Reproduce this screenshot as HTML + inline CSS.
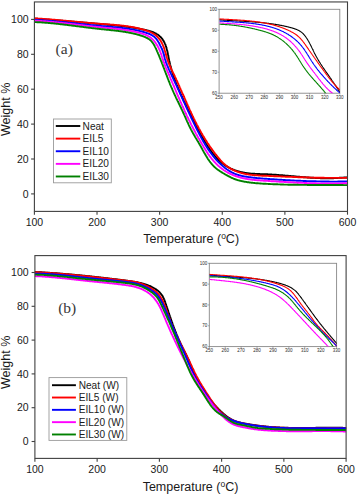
<!DOCTYPE html>
<html><head><meta charset="utf-8"><style>
html,body{margin:0;padding:0;background:#fff;width:357px;height:495px;overflow:hidden}
svg{display:block}
text{font-family:"Liberation Sans",sans-serif;fill:#1a1a1a}
.tl{font-size:10.5px}
.at{font-size:12.5px}
.lg{font-size:10.1px}
.il{font-size:4.5px;fill:#2a2a2a}
.pl{font-family:"Liberation Serif",serif;font-size:15.5px;fill:#383838}
</style></head><body>
<svg width="357" height="495" viewBox="0 0 357 495">
<clipPath id="ca"><rect x="34.4" y="1.95" width="313.10" height="209.45"/></clipPath>
<g clip-path="url(#ca)" fill="none" stroke-width="1.9" stroke-linejoin="round" stroke-linecap="round">
<path d="M34.5,18.6L35.0,18.6L35.5,18.7L36.0,18.7L36.5,18.8L37.0,18.8L37.5,18.8L38.0,18.9L38.5,18.9L39.0,19.0L39.5,19.0L40.0,19.0L40.5,19.1L41.0,19.1L41.5,19.1L42.0,19.2L42.5,19.2L43.0,19.3L43.5,19.3L44.0,19.3L44.5,19.4L45.0,19.4L45.5,19.5L46.0,19.5L46.5,19.5L47.0,19.6L47.5,19.6L48.0,19.7L48.5,19.7L49.0,19.7L49.5,19.8L50.0,19.8L50.5,19.9L51.0,19.9L51.5,19.9L52.0,20.0L52.5,20.0L53.0,20.1L53.5,20.1L54.0,20.1L54.5,20.2L55.0,20.2L55.5,20.3L56.0,20.3L56.5,20.3L57.0,20.4L57.5,20.4L58.0,20.5L58.5,20.5L59.0,20.5L59.5,20.6L60.0,20.6L60.5,20.7L61.0,20.7L61.5,20.7L61.9,20.8L62.4,20.8L62.9,20.9L63.4,20.9L63.9,20.9L64.4,21.0L64.9,21.0L65.4,21.1L65.9,21.1L66.4,21.2L66.9,21.2L67.4,21.2L67.9,21.3L68.4,21.3L68.9,21.4L69.4,21.4L69.9,21.4L70.4,21.5L70.9,21.5L71.4,21.6L71.9,21.6L72.4,21.7L72.9,21.7L73.4,21.7L73.9,21.8L74.4,21.8L74.9,21.9L75.4,21.9L75.9,21.9L76.4,22.0L76.9,22.0L77.4,22.1L77.9,22.1L78.4,22.2L78.9,22.2L79.4,22.2L79.9,22.3L80.4,22.3L80.9,22.4L81.4,22.4L81.9,22.5L82.4,22.5L82.9,22.5L83.4,22.6L83.9,22.6L84.4,22.7L84.9,22.7L85.4,22.8L85.9,22.8L86.4,22.8L86.9,22.9L87.4,22.9L87.9,23.0L88.4,23.0L88.9,23.1L89.4,23.1L89.9,23.1L90.4,23.2L90.9,23.2L91.4,23.3L91.9,23.3L92.4,23.4L92.9,23.4L93.4,23.4L93.9,23.5L94.4,23.5L94.9,23.6L95.4,23.6L95.9,23.7L96.4,23.7L96.9,23.7L97.4,23.8L97.9,23.8L98.4,23.9L98.9,23.9L99.4,24.0L99.9,24.0L100.4,24.0L100.9,24.1L101.4,24.1L101.8,24.2L102.3,24.2L102.8,24.3L103.3,24.3L103.8,24.3L104.3,24.4L104.8,24.4L105.3,24.5L105.8,24.5L106.3,24.6L106.8,24.6L107.3,24.7L107.8,24.7L108.3,24.7L108.8,24.8L109.3,24.8L109.8,24.9L110.3,24.9L110.8,25.0L111.3,25.0L111.8,25.1L112.3,25.1L112.8,25.2L113.3,25.2L113.8,25.3L114.3,25.3L114.8,25.4L115.3,25.4L115.8,25.5L116.3,25.5L116.8,25.6L117.3,25.6L117.8,25.7L118.3,25.7L118.8,25.8L119.3,25.8L119.8,25.9L120.3,25.9L120.8,26.0L121.3,26.1L121.8,26.1L122.3,26.2L122.8,26.2L123.3,26.3L123.8,26.4L124.3,26.4L124.8,26.5L125.3,26.5L125.7,26.6L126.2,26.7L126.7,26.7L127.2,26.8L127.7,26.9L128.2,26.9L128.7,27.0L129.2,27.1L129.7,27.2L130.2,27.2L130.7,27.3L131.2,27.4L131.7,27.4L132.2,27.5L132.7,27.6L133.2,27.7L133.7,27.8L134.2,27.8L134.7,27.9L135.2,28.0L135.6,28.1L136.1,28.2L136.6,28.3L137.1,28.3L137.6,28.4L138.1,28.5L138.6,28.6L139.1,28.7L139.6,28.8L140.1,28.9L140.6,29.0L141.1,29.1L141.6,29.2L142.0,29.3L142.5,29.4L143.0,29.5L143.5,29.6L144.0,29.7L144.5,29.8L145.0,29.9L145.5,30.0L146.0,30.1L146.4,30.2L146.9,30.3L147.4,30.5L147.9,30.6L148.4,30.7L148.9,30.8L149.4,31.0L149.8,31.1L150.3,31.3L150.8,31.4L151.3,31.6L151.7,31.7L152.2,31.9L152.7,32.1L153.2,32.2L153.6,32.4L154.1,32.6L154.5,32.8L155.0,33.1L155.4,33.3L155.9,33.5L156.3,33.8L156.7,34.0L157.2,34.3L157.6,34.5L158.0,34.8L158.4,35.1L158.8,35.4L159.2,35.7L159.6,36.1L159.9,36.4L160.3,36.7L160.7,37.1L161.0,37.5L161.3,37.8L161.7,38.2L162.0,38.6L162.3,39.0L162.6,39.4L162.9,39.8L163.1,40.2L163.4,40.7L163.6,41.1L163.9,41.5L164.1,42.0L164.4,42.4L164.6,42.9L164.8,43.3L165.0,43.8L165.2,44.2L165.4,44.7L165.6,45.2L165.7,45.6L165.9,46.1L166.1,46.6L166.2,47.1L166.4,47.5L166.5,48.0L166.6,48.5L166.8,49.0L166.9,49.5L167.0,50.0L167.1,50.4L167.3,50.9L167.4,51.4L167.5,51.9L167.6,52.4L167.7,52.9L167.8,53.4L167.9,53.9L168.0,54.4L168.1,54.9L168.2,55.3L168.3,55.8L168.4,56.3L168.4,56.8L168.5,57.3L168.6,57.8L168.7,58.3L168.8,58.8L168.9,59.3L169.0,59.8L169.1,60.3L169.2,60.7L169.3,61.2L169.4,61.7L169.6,62.2L169.7,62.7L169.8,63.2L169.9,63.7L170.0,64.2L170.1,64.6L170.3,65.1L170.4,65.6L170.5,66.1L170.6,66.6L170.8,67.1L170.9,67.6L171.0,68.0L171.2,68.5L171.3,69.0L171.4,69.5L171.6,70.0L171.7,70.4L171.9,70.9L172.0,71.4L172.2,71.9L172.3,72.4L172.5,72.8L172.6,73.3L172.8,73.8L172.9,74.3L173.1,74.7L173.2,75.2L173.4,75.7L173.6,76.2L173.7,76.6L173.9,77.1L174.0,77.6L174.2,78.0L174.4,78.5L174.6,79.0L174.7,79.5L174.9,79.9L175.1,80.4L175.3,80.9L175.4,81.3L175.6,81.8L175.8,82.3L176.0,82.7L176.2,83.2L176.3,83.7L176.5,84.1L176.7,84.6L176.9,85.1L177.1,85.5L177.3,86.0L177.5,86.5L177.7,86.9L177.8,87.4L178.0,87.8L178.2,88.3L178.4,88.8L178.6,89.2L178.8,89.7L179.0,90.1L179.2,90.6L179.4,91.1L179.6,91.5L179.8,92.0L180.0,92.4L180.2,92.9L180.4,93.3L180.6,93.8L180.8,94.3L181.1,94.7L181.3,95.2L181.5,95.6L181.7,96.1L181.9,96.5L182.1,97.0L182.3,97.4L182.5,97.9L182.7,98.4L182.9,98.8L183.2,99.3L183.4,99.7L183.6,100.2L183.8,100.6L184.0,101.1L184.2,101.5L184.5,102.0L184.7,102.4L184.9,102.9L185.1,103.3L185.3,103.8L185.5,104.2L185.8,104.7L186.0,105.1L186.2,105.6L186.4,106.0L186.6,106.5L186.9,106.9L187.1,107.4L187.3,107.8L187.5,108.3L187.7,108.7L188.0,109.2L188.2,109.6L188.4,110.1L188.6,110.5L188.8,111.0L189.1,111.4L189.3,111.9L189.5,112.3L189.7,112.8L190.0,113.2L190.2,113.7L190.4,114.1L190.6,114.6L190.8,115.0L191.1,115.4L191.3,115.9L191.5,116.3L191.7,116.8L192.0,117.2L192.2,117.7L192.4,118.1L192.6,118.6L192.8,119.0L193.1,119.5L193.3,119.9L193.5,120.4L193.7,120.8L194.0,121.3L194.2,121.7L194.4,122.2L194.6,122.6L194.8,123.1L195.1,123.5L195.3,124.0L195.5,124.4L195.7,124.9L196.0,125.3L196.2,125.8L196.4,126.2L196.7,126.6L196.9,127.1L197.1,127.5L197.3,128.0L197.6,128.4L197.8,128.9L198.0,129.3L198.3,129.8L198.5,130.2L198.7,130.6L199.0,131.1L199.2,131.5L199.4,132.0L199.7,132.4L199.9,132.9L200.1,133.3L200.4,133.7L200.6,134.2L200.9,134.6L201.1,135.1L201.3,135.5L201.6,135.9L201.8,136.4L202.1,136.8L202.3,137.2L202.6,137.7L202.8,138.1L203.1,138.5L203.3,139.0L203.6,139.4L203.8,139.8L204.1,140.3L204.3,140.7L204.6,141.1L204.8,141.6L205.1,142.0L205.4,142.4L205.6,142.8L205.9,143.3L206.1,143.7L206.4,144.1L206.7,144.5L206.9,145.0L207.2,145.4L207.5,145.8L207.8,146.2L208.0,146.7L208.3,147.1L208.6,147.5L208.9,147.9L209.1,148.3L209.4,148.7L209.7,149.1L210.0,149.6L210.3,150.0L210.6,150.4L210.8,150.8L211.1,151.2L211.4,151.6L211.7,152.0L212.0,152.4L212.3,152.8L212.6,153.2L212.9,153.6L213.3,154.0L213.6,154.4L213.9,154.8L214.2,155.2L214.5,155.5L214.8,155.9L215.2,156.3L215.5,156.7L215.8,157.1L216.2,157.4L216.5,157.8L216.8,158.2L217.2,158.5L217.5,158.9L217.9,159.3L218.2,159.6L218.6,160.0L218.9,160.3L219.3,160.7L219.7,161.0L220.0,161.3L220.4,161.7L220.8,162.0L221.2,162.3L221.5,162.7L221.9,163.0L222.3,163.3L222.7,163.6L223.1,163.9L223.5,164.2L223.9,164.5L224.3,164.8L224.7,165.1L225.1,165.4L225.6,165.6L226.0,165.9L226.4,166.2L226.8,166.4L227.3,166.7L227.7,166.9L228.1,167.2L228.6,167.4L229.0,167.7L229.5,167.9L229.9,168.1L230.4,168.3L230.8,168.6L231.3,168.8L231.7,169.0L232.2,169.2L232.6,169.4L233.1,169.6L233.6,169.7L234.0,169.9L234.5,170.1L235.0,170.3L235.4,170.4L235.9,170.6L236.4,170.8L236.9,170.9L237.3,171.1L237.8,171.2L238.3,171.4L238.8,171.5L239.3,171.6L239.7,171.8L240.2,171.9L240.7,172.0L241.2,172.1L241.7,172.2L242.2,172.3L242.7,172.4L243.2,172.5L243.7,172.6L244.1,172.7L244.6,172.8L245.1,172.9L245.6,173.0L246.1,173.0L246.6,173.1L247.1,173.2L247.6,173.3L248.1,173.3L248.6,173.4L249.1,173.4L249.6,173.5L250.1,173.5L250.6,173.6L251.1,173.6L251.6,173.7L252.1,173.7L252.6,173.7L253.1,173.8L253.6,173.8L254.1,173.8L254.6,173.8L255.1,173.9L255.6,173.9L256.1,173.9L256.6,173.9L257.1,174.0L257.6,174.0L258.1,174.0L258.6,174.0L259.1,174.0L259.6,174.0L260.1,174.1L260.6,174.1L261.1,174.1L261.6,174.1L262.1,174.1L262.6,174.1L263.1,174.2L263.6,174.2L264.1,174.2L264.6,174.2L265.1,174.2L265.6,174.2L266.1,174.3L266.6,174.3L267.1,174.3L267.6,174.3L268.1,174.4L268.6,174.4L269.1,174.4L269.6,174.4L270.1,174.5L270.6,174.5L271.1,174.5L271.6,174.5L272.1,174.6L272.6,174.6L273.1,174.6L273.6,174.7L274.1,174.7L274.6,174.7L275.1,174.8L275.6,174.8L276.1,174.8L276.6,174.9L277.1,174.9L277.6,174.9L278.1,175.0L278.6,175.0L279.1,175.1L279.6,175.1L280.1,175.1L280.6,175.2L281.1,175.2L281.6,175.3L282.1,175.3L282.6,175.3L283.1,175.4L283.6,175.4L284.1,175.5L284.6,175.5L285.1,175.6L285.6,175.6L286.1,175.6L286.6,175.7L287.1,175.7L287.6,175.8L288.1,175.8L288.6,175.9L289.1,175.9L289.6,175.9L290.1,176.0L290.6,176.0L291.1,176.1L291.5,176.1L292.0,176.2L292.5,176.2L293.0,176.3L293.5,176.3L294.0,176.3L294.5,176.4L295.0,176.4L295.5,176.5L296.0,176.5L296.5,176.6L297.0,176.6L297.5,176.7L298.0,176.7L298.5,176.7L299.0,176.8L299.5,176.8L300.0,176.9L300.5,176.9L301.0,177.0L301.5,177.0L302.0,177.0L302.5,177.1L303.0,177.1L303.5,177.2L304.0,177.2L304.5,177.2L305.0,177.3L305.5,177.3L306.0,177.4L306.5,177.4L307.0,177.4L307.5,177.5L308.0,177.5L308.5,177.5L309.0,177.6L309.5,177.6L310.0,177.6L310.5,177.7L311.0,177.7L311.5,177.7L312.0,177.8L312.5,177.8L313.0,177.8L313.5,177.8L314.0,177.9L314.5,177.9L315.0,177.9L315.5,178.0L316.0,178.0L316.5,178.0L317.0,178.0L317.5,178.0L318.0,178.1L318.5,178.1L319.0,178.1L319.5,178.1L320.0,178.1L320.5,178.2L321.0,178.2L321.5,178.2L322.0,178.2L322.5,178.2L323.0,178.2L323.5,178.2L324.0,178.2L324.5,178.2L325.0,178.2L325.5,178.3L326.0,178.3L326.5,178.3L327.0,178.3L327.5,178.3L328.0,178.3L328.5,178.3L329.0,178.3L329.5,178.2L330.0,178.2L330.5,178.2L331.0,178.2L331.5,178.2L332.0,178.2L332.5,178.2L333.0,178.2L333.5,178.2L334.0,178.1L334.5,178.1L335.0,178.1L335.5,178.1L336.0,178.1L336.5,178.0L337.0,178.0L337.5,178.0L338.0,177.9L338.5,177.9L339.0,177.9L339.5,177.8L340.0,177.8L340.5,177.8L341.0,177.7L341.5,177.7L342.0,177.7L342.5,177.6L343.0,177.6L343.5,177.6L344.0,177.5L344.5,177.5L345.0,177.5L345.5,177.5L346.0,177.5L346.5,177.5L347.0,177.5L347.5,177.5L348.0,177.6" stroke="#000000"/>
<path d="M34.5,18.4L35.0,18.4L35.5,18.4L36.0,18.4L36.5,18.5L37.0,18.5L37.5,18.5L38.0,18.6L38.5,18.6L39.0,18.6L39.5,18.7L40.0,18.7L40.5,18.7L41.0,18.8L41.5,18.8L42.0,18.8L42.5,18.9L43.0,18.9L43.5,18.9L44.0,19.0L44.5,19.0L45.0,19.0L45.5,19.1L46.0,19.1L46.5,19.1L47.0,19.2L47.5,19.2L48.0,19.3L48.5,19.3L49.0,19.3L49.5,19.4L50.0,19.4L50.5,19.5L51.0,19.5L51.5,19.5L52.0,19.6L52.5,19.6L53.0,19.7L53.5,19.7L53.9,19.7L54.4,19.8L54.9,19.8L55.4,19.9L55.9,19.9L56.4,20.0L56.9,20.0L57.4,20.0L57.9,20.1L58.4,20.1L58.9,20.2L59.4,20.2L59.9,20.3L60.4,20.3L60.9,20.4L61.4,20.4L61.9,20.4L62.4,20.5L62.9,20.5L63.4,20.6L63.9,20.6L64.4,20.7L64.9,20.7L65.4,20.8L65.9,20.8L66.4,20.9L66.9,20.9L67.4,20.9L67.9,21.0L68.4,21.0L68.9,21.1L69.4,21.1L69.9,21.2L70.4,21.2L70.9,21.3L71.4,21.3L71.9,21.4L72.4,21.4L72.9,21.5L73.4,21.5L73.9,21.6L74.4,21.6L74.9,21.6L75.4,21.7L75.9,21.7L76.4,21.8L76.9,21.8L77.4,21.9L77.9,21.9L78.4,22.0L78.9,22.0L79.4,22.1L79.9,22.1L80.4,22.2L80.8,22.2L81.3,22.3L81.8,22.3L82.3,22.3L82.8,22.4L83.3,22.4L83.8,22.5L84.3,22.5L84.8,22.6L85.3,22.6L85.8,22.7L86.3,22.7L86.8,22.7L87.3,22.8L87.8,22.8L88.3,22.9L88.8,22.9L89.3,23.0L89.8,23.0L90.3,23.1L90.8,23.1L91.3,23.1L91.8,23.2L92.3,23.2L92.8,23.3L93.3,23.3L93.8,23.3L94.3,23.4L94.8,23.4L95.3,23.5L95.8,23.5L96.3,23.5L96.8,23.6L97.3,23.6L97.8,23.7L98.3,23.7L98.8,23.7L99.3,23.8L99.8,23.8L100.3,23.9L100.8,23.9L101.3,23.9L101.8,24.0L102.3,24.0L102.8,24.0L103.3,24.1L103.8,24.1L104.3,24.1L104.8,24.2L105.3,24.2L105.8,24.2L106.3,24.3L106.8,24.3L107.3,24.3L107.8,24.4L108.3,24.4L108.8,24.5L109.3,24.5L109.8,24.5L110.3,24.6L110.8,24.6L111.3,24.6L111.8,24.7L112.3,24.7L112.8,24.8L113.3,24.8L113.8,24.8L114.3,24.9L114.8,24.9L115.3,25.0L115.8,25.0L116.3,25.0L116.8,25.1L117.2,25.1L117.7,25.2L118.2,25.2L118.7,25.3L119.2,25.3L119.7,25.4L120.2,25.4L120.7,25.5L121.2,25.5L121.7,25.6L122.2,25.6L122.7,25.7L123.2,25.7L123.7,25.8L124.2,25.9L124.7,25.9L125.2,26.0L125.7,26.1L126.2,26.1L126.7,26.2L127.2,26.3L127.7,26.3L128.2,26.4L128.7,26.5L129.2,26.6L129.7,26.6L130.2,26.7L130.7,26.8L131.1,26.9L131.6,27.0L132.1,27.0L132.6,27.1L133.1,27.2L133.6,27.3L134.1,27.4L134.6,27.5L135.1,27.6L135.6,27.7L136.1,27.8L136.5,27.9L137.0,28.0L137.5,28.1L138.0,28.2L138.5,28.4L139.0,28.5L139.5,28.6L140.0,28.7L140.4,28.8L140.9,29.0L141.4,29.1L141.9,29.2L142.4,29.4L142.9,29.5L143.3,29.6L143.8,29.8L144.3,29.9L144.8,30.1L145.3,30.2L145.7,30.4L146.2,30.5L146.7,30.7L147.1,30.8L147.6,31.0L148.1,31.2L148.6,31.4L149.0,31.5L149.5,31.7L149.9,31.9L150.4,32.1L150.9,32.3L151.3,32.5L151.8,32.8L152.2,33.0L152.6,33.2L153.1,33.5L153.5,33.7L153.9,34.0L154.4,34.3L154.8,34.6L155.2,34.9L155.6,35.2L156.0,35.5L156.3,35.8L156.7,36.1L157.1,36.5L157.4,36.8L157.8,37.2L158.1,37.6L158.4,37.9L158.8,38.3L159.1,38.7L159.4,39.1L159.7,39.5L160.0,39.9L160.3,40.3L160.6,40.7L160.8,41.1L161.1,41.6L161.3,42.0L161.6,42.4L161.8,42.9L162.1,43.3L162.3,43.8L162.5,44.2L162.7,44.7L162.9,45.1L163.1,45.6L163.3,46.1L163.5,46.5L163.7,47.0L163.8,47.5L164.0,47.9L164.2,48.4L164.3,48.9L164.5,49.3L164.6,49.8L164.8,50.3L164.9,50.8L165.1,51.3L165.2,51.7L165.3,52.2L165.5,52.7L165.6,53.2L165.7,53.7L165.9,54.2L166.0,54.6L166.1,55.1L166.3,55.6L166.4,56.1L166.6,56.6L166.7,57.0L166.8,57.5L167.0,58.0L167.1,58.5L167.3,59.0L167.4,59.4L167.6,59.9L167.7,60.4L167.9,60.9L168.1,61.3L168.2,61.8L168.4,62.3L168.6,62.7L168.8,63.2L168.9,63.7L169.1,64.1L169.3,64.6L169.5,65.1L169.7,65.5L169.9,66.0L170.1,66.4L170.3,66.9L170.5,67.3L170.7,67.8L170.9,68.3L171.2,68.7L171.4,69.2L171.6,69.6L171.8,70.1L172.0,70.5L172.2,71.0L172.4,71.4L172.7,71.9L172.9,72.3L173.1,72.8L173.3,73.2L173.5,73.7L173.7,74.1L174.0,74.6L174.2,75.0L174.4,75.5L174.6,75.9L174.8,76.4L175.0,76.8L175.2,77.3L175.5,77.7L175.7,78.2L175.9,78.6L176.1,79.1L176.3,79.6L176.5,80.0L176.7,80.5L176.9,80.9L177.1,81.4L177.4,81.8L177.6,82.3L177.8,82.7L178.0,83.2L178.2,83.6L178.4,84.1L178.6,84.6L178.8,85.0L179.0,85.5L179.2,85.9L179.4,86.4L179.6,86.8L179.8,87.3L180.0,87.8L180.2,88.2L180.4,88.7L180.6,89.1L180.8,89.6L181.0,90.0L181.2,90.5L181.4,91.0L181.6,91.4L181.8,91.9L182.0,92.3L182.2,92.8L182.4,93.2L182.6,93.7L182.8,94.2L183.0,94.6L183.3,95.1L183.5,95.5L183.7,96.0L183.9,96.5L184.1,96.9L184.3,97.4L184.5,97.8L184.7,98.3L184.9,98.7L185.1,99.2L185.3,99.7L185.5,100.1L185.7,100.6L185.9,101.0L186.1,101.5L186.3,101.9L186.5,102.4L186.7,102.9L186.9,103.3L187.1,103.8L187.3,104.2L187.5,104.7L187.7,105.1L187.9,105.6L188.1,106.1L188.3,106.5L188.5,107.0L188.7,107.4L188.9,107.9L189.1,108.3L189.3,108.8L189.5,109.3L189.7,109.7L190.0,110.2L190.2,110.6L190.4,111.1L190.6,111.5L190.8,112.0L191.0,112.4L191.2,112.9L191.4,113.3L191.6,113.8L191.8,114.3L192.1,114.7L192.3,115.2L192.5,115.6L192.7,116.1L192.9,116.5L193.1,117.0L193.3,117.4L193.6,117.9L193.8,118.3L194.0,118.8L194.2,119.2L194.4,119.7L194.7,120.1L194.9,120.6L195.1,121.0L195.3,121.5L195.5,121.9L195.8,122.4L196.0,122.8L196.2,123.2L196.4,123.7L196.7,124.1L196.9,124.6L197.1,125.0L197.4,125.5L197.6,125.9L197.8,126.4L198.1,126.8L198.3,127.2L198.5,127.7L198.8,128.1L199.0,128.6L199.2,129.0L199.5,129.4L199.7,129.9L200.0,130.3L200.2,130.8L200.5,131.2L200.7,131.6L200.9,132.1L201.2,132.5L201.4,132.9L201.7,133.4L201.9,133.8L202.2,134.2L202.4,134.7L202.7,135.1L202.9,135.5L203.2,136.0L203.5,136.4L203.7,136.8L204.0,137.2L204.2,137.7L204.5,138.1L204.8,138.5L205.0,139.0L205.3,139.4L205.6,139.8L205.8,140.2L206.1,140.6L206.4,141.1L206.6,141.5L206.9,141.9L207.2,142.3L207.4,142.7L207.7,143.2L208.0,143.6L208.3,144.0L208.5,144.4L208.8,144.8L209.1,145.2L209.4,145.7L209.7,146.1L209.9,146.5L210.2,146.9L210.5,147.3L210.8,147.7L211.1,148.1L211.4,148.5L211.7,148.9L212.0,149.4L212.3,149.8L212.6,150.2L212.8,150.6L213.1,151.0L213.4,151.4L213.7,151.8L214.0,152.2L214.3,152.6L214.6,153.0L214.9,153.4L215.2,153.8L215.6,154.2L215.9,154.6L216.2,155.0L216.5,155.3L216.8,155.7L217.1,156.1L217.4,156.5L217.7,156.9L218.0,157.3L218.3,157.7L218.7,158.1L219.0,158.5L219.3,158.8L219.6,159.2L220.0,159.6L220.3,160.0L220.6,160.4L221.0,160.7L221.3,161.1L221.6,161.5L222.0,161.8L222.3,162.2L222.7,162.5L223.0,162.9L223.4,163.2L223.8,163.6L224.1,163.9L224.5,164.3L224.9,164.6L225.3,164.9L225.6,165.2L226.0,165.5L226.4,165.8L226.8,166.1L227.2,166.4L227.6,166.7L228.1,167.0L228.5,167.3L228.9,167.6L229.3,167.8L229.7,168.1L230.2,168.3L230.6,168.6L231.0,168.8L231.5,169.1L231.9,169.3L232.4,169.5L232.8,169.8L233.3,170.0L233.7,170.2L234.2,170.4L234.6,170.6L235.1,170.8L235.6,171.0L236.0,171.2L236.5,171.4L237.0,171.5L237.4,171.7L237.9,171.9L238.4,172.1L238.8,172.2L239.3,172.4L239.8,172.5L240.3,172.7L240.7,172.8L241.2,172.9L241.7,173.1L242.2,173.2L242.7,173.3L243.2,173.4L243.7,173.6L244.1,173.7L244.6,173.8L245.1,173.9L245.6,174.0L246.1,174.1L246.6,174.2L247.1,174.3L247.6,174.3L248.1,174.4L248.6,174.5L249.1,174.6L249.6,174.6L250.1,174.7L250.5,174.8L251.0,174.8L251.5,174.9L252.0,174.9L252.5,175.0L253.0,175.1L253.5,175.1L254.0,175.1L254.5,175.2L255.0,175.2L255.5,175.3L256.0,175.3L256.5,175.3L257.0,175.4L257.5,175.4L258.0,175.4L258.5,175.5L259.0,175.5L259.5,175.5L260.0,175.6L260.5,175.6L261.0,175.6L261.5,175.6L262.0,175.7L262.5,175.7L263.0,175.7L263.5,175.7L264.0,175.7L264.5,175.8L265.0,175.8L265.5,175.8L266.0,175.8L266.5,175.8L267.0,175.9L267.5,175.9L268.0,175.9L268.5,175.9L269.0,176.0L269.5,176.0L270.0,176.0L270.5,176.0L271.0,176.0L271.5,176.1L272.0,176.1L272.5,176.1L273.0,176.1L273.5,176.1L274.0,176.2L274.5,176.2L275.0,176.2L275.5,176.2L276.0,176.3L276.5,176.3L277.0,176.3L277.5,176.3L278.0,176.3L278.5,176.4L279.0,176.4L279.5,176.4L280.0,176.4L280.5,176.4L281.0,176.5L281.5,176.5L282.0,176.5L282.5,176.5L283.0,176.6L283.5,176.6L284.0,176.6L284.5,176.6L285.0,176.6L285.5,176.7L286.0,176.7L286.5,176.7L287.0,176.7L287.5,176.7L288.0,176.8L288.5,176.8L289.0,176.8L289.5,176.8L290.0,176.8L290.5,176.9L291.0,176.9L291.5,176.9L292.0,176.9L292.5,176.9L293.0,177.0L293.5,177.0L294.0,177.0L294.5,177.0L295.0,177.0L295.5,177.1L296.0,177.1L296.5,177.1L297.0,177.1L297.5,177.1L298.0,177.2L298.5,177.2L299.0,177.2L299.5,177.2L300.0,177.2L300.5,177.2L301.0,177.3L301.5,177.3L302.0,177.3L302.5,177.3L303.0,177.3L303.5,177.3L304.0,177.4L304.5,177.4L305.0,177.4L305.5,177.4L306.0,177.4L306.5,177.4L307.0,177.5L307.5,177.5L308.0,177.5L308.5,177.5L309.0,177.5L309.5,177.5L310.0,177.5L310.5,177.6L311.0,177.6L311.5,177.6L312.0,177.6L312.5,177.6L313.0,177.6L313.5,177.6L314.0,177.7L314.5,177.7L315.0,177.7L315.5,177.7L316.0,177.7L316.5,177.7L317.0,177.7L317.5,177.7L318.0,177.7L318.5,177.8L319.0,177.8L319.5,177.8L320.0,177.8L320.5,177.8L321.0,177.8L321.5,177.8L322.0,177.8L322.5,177.8L323.0,177.8L323.5,177.8L324.0,177.8L324.5,177.9L325.0,177.9L325.5,177.9L326.0,177.9L326.5,177.9L327.0,177.9L327.5,177.9L328.0,177.9L328.5,177.9L329.0,177.9L329.5,177.9L330.0,177.9L330.5,177.9L331.0,177.9L331.5,177.9L332.0,177.9L332.5,177.9L333.0,177.9L333.5,177.9L334.0,177.9L334.5,177.9L335.0,177.9L335.5,177.9L336.0,177.9L336.5,177.9L337.0,177.9L337.5,177.9L338.0,177.9L338.5,177.9L339.0,177.9L339.5,177.9L340.0,177.9L340.5,177.9L341.0,177.9L341.5,177.9L342.0,177.9L342.5,177.9L343.0,177.9L343.5,177.9L344.0,177.9L344.5,177.9L345.0,177.9L345.5,177.9L346.0,177.9L346.5,177.8L347.0,177.8L347.5,177.8L348.0,177.8" stroke="#ff0000"/>
<path d="M34.5,19.9L35.0,19.9L35.5,19.9L36.0,19.9L36.5,20.0L37.0,20.0L37.5,20.0L38.0,20.0L38.5,20.1L39.0,20.1L39.5,20.1L40.0,20.2L40.5,20.2L41.0,20.2L41.5,20.3L42.0,20.3L42.5,20.3L43.0,20.4L43.5,20.4L44.0,20.4L44.5,20.5L45.0,20.5L45.5,20.6L46.0,20.6L46.5,20.6L47.0,20.7L47.5,20.7L48.0,20.7L48.5,20.8L49.0,20.8L49.5,20.9L50.0,20.9L50.5,21.0L51.0,21.0L51.5,21.0L52.0,21.1L52.5,21.1L53.0,21.2L53.5,21.2L54.0,21.3L54.5,21.3L55.0,21.4L55.4,21.4L55.9,21.4L56.4,21.5L56.9,21.5L57.4,21.6L57.9,21.6L58.4,21.7L58.9,21.7L59.4,21.8L59.9,21.8L60.4,21.9L60.9,21.9L61.4,22.0L61.9,22.0L62.4,22.1L62.9,22.1L63.4,22.2L63.9,22.2L64.4,22.3L64.9,22.3L65.4,22.4L65.9,22.4L66.4,22.5L66.9,22.5L67.4,22.6L67.9,22.6L68.4,22.7L68.9,22.7L69.4,22.8L69.9,22.9L70.4,22.9L70.9,23.0L71.4,23.0L71.9,23.1L72.4,23.1L72.9,23.2L73.4,23.2L73.9,23.3L74.4,23.3L74.9,23.4L75.4,23.4L75.9,23.5L76.4,23.5L76.9,23.6L77.4,23.6L77.8,23.7L78.3,23.8L78.8,23.8L79.3,23.9L79.8,23.9L80.3,24.0L80.8,24.0L81.3,24.1L81.8,24.1L82.3,24.2L82.8,24.2L83.3,24.3L83.8,24.3L84.3,24.4L84.8,24.4L85.3,24.5L85.8,24.5L86.3,24.6L86.8,24.7L87.3,24.7L87.8,24.8L88.3,24.8L88.8,24.9L89.3,24.9L89.8,25.0L90.3,25.0L90.8,25.1L91.3,25.1L91.8,25.2L92.3,25.2L92.8,25.3L93.3,25.3L93.8,25.3L94.3,25.4L94.8,25.4L95.3,25.5L95.8,25.5L96.3,25.6L96.8,25.6L97.3,25.7L97.8,25.7L98.3,25.8L98.8,25.8L99.3,25.9L99.8,25.9L100.3,25.9L100.8,26.0L101.3,26.0L101.7,26.1L102.2,26.1L102.7,26.2L103.2,26.2L103.7,26.2L104.2,26.3L104.7,26.3L105.2,26.4L105.7,26.4L106.2,26.5L106.7,26.5L107.2,26.5L107.7,26.6L108.2,26.6L108.7,26.7L109.2,26.7L109.7,26.7L110.2,26.8L110.7,26.8L111.2,26.9L111.7,26.9L112.2,27.0L112.7,27.0L113.2,27.1L113.7,27.1L114.2,27.1L114.7,27.2L115.2,27.2L115.7,27.3L116.2,27.3L116.7,27.4L117.2,27.4L117.7,27.5L118.2,27.5L118.7,27.6L119.2,27.6L119.7,27.7L120.2,27.7L120.7,27.8L121.2,27.9L121.7,27.9L122.2,28.0L122.7,28.0L123.2,28.1L123.7,28.2L124.2,28.2L124.7,28.3L125.2,28.3L125.7,28.4L126.1,28.5L126.6,28.6L127.1,28.6L127.6,28.7L128.1,28.8L128.6,28.8L129.1,28.9L129.6,29.0L130.1,29.1L130.6,29.2L131.1,29.2L131.6,29.3L132.1,29.4L132.6,29.5L133.1,29.6L133.6,29.7L134.0,29.8L134.5,29.9L135.0,30.0L135.5,30.1L136.0,30.2L136.5,30.3L137.0,30.4L137.5,30.5L138.0,30.6L138.5,30.7L138.9,30.8L139.4,30.9L139.9,31.1L140.4,31.2L140.9,31.3L141.4,31.4L141.9,31.5L142.3,31.7L142.8,31.8L143.3,31.9L143.8,32.1L144.3,32.2L144.7,32.4L145.2,32.5L145.7,32.6L146.2,32.8L146.7,33.0L147.1,33.1L147.6,33.3L148.1,33.4L148.5,33.6L149.0,33.8L149.5,34.0L149.9,34.2L150.4,34.4L150.8,34.6L151.3,34.9L151.7,35.1L152.1,35.3L152.6,35.6L153.0,35.9L153.4,36.2L153.8,36.5L154.2,36.8L154.6,37.1L154.9,37.4L155.3,37.8L155.6,38.2L156.0,38.5L156.3,38.9L156.6,39.3L156.9,39.7L157.2,40.1L157.5,40.5L157.7,41.0L158.0,41.4L158.3,41.8L158.5,42.2L158.8,42.7L159.0,43.1L159.3,43.6L159.5,44.0L159.7,44.4L160.0,44.9L160.2,45.3L160.4,45.8L160.6,46.2L160.9,46.7L161.1,47.1L161.3,47.6L161.5,48.0L161.7,48.5L161.9,48.9L162.1,49.4L162.3,49.9L162.5,50.3L162.7,50.8L162.8,51.3L163.0,51.7L163.1,52.2L163.3,52.7L163.4,53.2L163.6,53.7L163.7,54.1L163.8,54.6L164.0,55.1L164.1,55.6L164.2,56.1L164.3,56.6L164.5,57.0L164.6,57.5L164.7,58.0L164.8,58.5L165.0,59.0L165.1,59.5L165.3,59.9L165.4,60.4L165.6,60.9L165.7,61.4L165.9,61.8L166.0,62.3L166.2,62.8L166.4,63.3L166.5,63.7L166.7,64.2L166.9,64.7L167.1,65.1L167.3,65.6L167.5,66.0L167.7,66.5L167.9,67.0L168.1,67.4L168.3,67.9L168.5,68.3L168.7,68.8L168.9,69.3L169.1,69.7L169.3,70.2L169.5,70.6L169.7,71.1L169.9,71.5L170.1,72.0L170.3,72.4L170.5,72.9L170.8,73.3L171.0,73.8L171.2,74.2L171.4,74.7L171.6,75.2L171.8,75.6L172.0,76.1L172.3,76.5L172.5,77.0L172.7,77.4L172.9,77.9L173.1,78.3L173.3,78.8L173.5,79.2L173.7,79.7L174.0,80.1L174.2,80.6L174.4,81.0L174.6,81.5L174.8,81.9L175.0,82.4L175.2,82.9L175.4,83.3L175.6,83.8L175.9,84.2L176.1,84.7L176.3,85.1L176.5,85.6L176.7,86.0L176.9,86.5L177.1,86.9L177.3,87.4L177.5,87.9L177.7,88.3L177.9,88.8L178.1,89.2L178.4,89.7L178.6,90.1L178.8,90.6L179.0,91.0L179.2,91.5L179.4,92.0L179.6,92.4L179.8,92.9L180.0,93.3L180.2,93.8L180.4,94.2L180.6,94.7L180.8,95.1L181.0,95.6L181.3,96.1L181.5,96.5L181.7,97.0L181.9,97.4L182.1,97.9L182.3,98.3L182.5,98.8L182.7,99.2L182.9,99.7L183.1,100.2L183.3,100.6L183.5,101.1L183.7,101.5L183.9,102.0L184.2,102.4L184.4,102.9L184.6,103.3L184.8,103.8L185.0,104.3L185.2,104.7L185.4,105.2L185.6,105.6L185.8,106.1L186.0,106.5L186.2,107.0L186.4,107.4L186.7,107.9L186.9,108.3L187.1,108.8L187.3,109.3L187.5,109.7L187.7,110.2L187.9,110.6L188.1,111.1L188.3,111.5L188.5,112.0L188.8,112.4L189.0,112.9L189.2,113.3L189.4,113.8L189.6,114.2L189.8,114.7L190.0,115.2L190.2,115.6L190.5,116.1L190.7,116.5L190.9,117.0L191.1,117.4L191.3,117.9L191.5,118.3L191.7,118.8L192.0,119.2L192.2,119.7L192.4,120.1L192.6,120.6L192.8,121.0L193.0,121.5L193.3,121.9L193.5,122.4L193.7,122.8L193.9,123.3L194.1,123.7L194.3,124.2L194.6,124.6L194.8,125.1L195.0,125.5L195.2,126.0L195.5,126.4L195.7,126.9L195.9,127.3L196.1,127.8L196.3,128.2L196.6,128.7L196.8,129.1L197.0,129.6L197.2,130.0L197.5,130.5L197.7,130.9L197.9,131.3L198.1,131.8L198.4,132.2L198.6,132.7L198.8,133.1L199.1,133.6L199.3,134.0L199.5,134.5L199.8,134.9L200.0,135.3L200.2,135.8L200.5,136.2L200.7,136.7L200.9,137.1L201.2,137.6L201.4,138.0L201.7,138.4L201.9,138.9L202.1,139.3L202.4,139.7L202.6,140.2L202.9,140.6L203.1,141.1L203.4,141.5L203.6,141.9L203.9,142.4L204.1,142.8L204.4,143.2L204.6,143.6L204.9,144.1L205.1,144.5L205.4,144.9L205.7,145.4L205.9,145.8L206.2,146.2L206.5,146.6L206.7,147.1L207.0,147.5L207.3,147.9L207.5,148.3L207.8,148.7L208.1,149.2L208.4,149.6L208.6,150.0L208.9,150.4L209.2,150.8L209.5,151.2L209.8,151.6L210.1,152.0L210.4,152.4L210.7,152.8L211.0,153.2L211.3,153.6L211.6,154.0L211.9,154.4L212.2,154.8L212.5,155.2L212.8,155.6L213.1,156.0L213.4,156.4L213.7,156.8L214.0,157.2L214.4,157.6L214.7,158.0L215.0,158.3L215.3,158.7L215.7,159.1L216.0,159.5L216.3,159.8L216.7,160.2L217.0,160.6L217.4,160.9L217.7,161.3L218.1,161.7L218.4,162.0L218.8,162.4L219.1,162.7L219.5,163.1L219.8,163.4L220.2,163.8L220.6,164.1L220.9,164.4L221.3,164.8L221.7,165.1L222.0,165.4L222.4,165.8L222.8,166.1L223.2,166.4L223.6,166.7L224.0,167.1L224.4,167.4L224.7,167.7L225.1,168.0L225.5,168.3L225.9,168.6L226.3,168.9L226.7,169.2L227.2,169.5L227.6,169.8L228.0,170.0L228.4,170.3L228.8,170.6L229.2,170.9L229.7,171.1L230.1,171.4L230.5,171.6L231.0,171.9L231.4,172.1L231.8,172.4L232.3,172.6L232.7,172.8L233.2,173.0L233.6,173.3L234.1,173.5L234.5,173.7L235.0,173.9L235.5,174.1L235.9,174.2L236.4,174.4L236.9,174.6L237.3,174.7L237.8,174.9L238.3,175.0L238.8,175.2L239.3,175.3L239.7,175.4L240.2,175.5L240.7,175.7L241.2,175.8L241.7,175.9L242.2,176.0L242.7,176.1L243.2,176.2L243.7,176.3L244.1,176.4L244.6,176.5L245.1,176.5L245.6,176.6L246.1,176.7L246.6,176.8L247.1,176.9L247.6,176.9L248.1,177.0L248.6,177.1L249.1,177.2L249.6,177.2L250.1,177.3L250.6,177.3L251.1,177.4L251.6,177.5L252.1,177.5L252.6,177.6L253.1,177.6L253.6,177.7L254.1,177.8L254.6,177.8L255.1,177.9L255.5,177.9L256.0,178.0L256.5,178.0L257.0,178.1L257.5,178.1L258.0,178.1L258.5,178.2L259.0,178.2L259.5,178.3L260.0,178.3L260.5,178.4L261.0,178.4L261.5,178.4L262.0,178.5L262.5,178.5L263.0,178.6L263.5,178.6L264.0,178.6L264.5,178.7L265.0,178.7L265.5,178.7L266.0,178.8L266.5,178.8L267.0,178.9L267.5,178.9L268.0,178.9L268.5,179.0L269.0,179.0L269.5,179.0L270.0,179.1L270.5,179.1L271.0,179.1L271.5,179.2L272.0,179.2L272.5,179.2L273.0,179.3L273.5,179.3L274.0,179.3L274.5,179.4L275.0,179.4L275.5,179.5L276.0,179.5L276.5,179.5L277.0,179.5L277.5,179.6L278.0,179.6L278.5,179.6L279.0,179.7L279.5,179.7L280.0,179.7L280.5,179.8L281.0,179.8L281.5,179.8L282.0,179.9L282.5,179.9L283.0,179.9L283.5,180.0L284.0,180.0L284.5,180.0L285.0,180.0L285.5,180.1L286.0,180.1L286.5,180.1L287.0,180.2L287.5,180.2L288.0,180.2L288.5,180.2L289.0,180.3L289.5,180.3L290.0,180.3L290.5,180.4L291.0,180.4L291.5,180.4L292.0,180.4L292.5,180.5L293.0,180.5L293.5,180.5L294.0,180.5L294.5,180.6L295.0,180.6L295.5,180.6L296.0,180.6L296.5,180.7L297.0,180.7L297.5,180.7L298.0,180.7L298.5,180.7L299.0,180.8L299.5,180.8L300.0,180.8L300.5,180.8L301.0,180.9L301.5,180.9L302.0,180.9L302.5,180.9L303.0,180.9L303.5,181.0L304.0,181.0L304.5,181.0L305.0,181.0L305.5,181.0L306.0,181.0L306.5,181.1L307.0,181.1L307.5,181.1L308.0,181.1L308.5,181.1L309.0,181.1L309.5,181.2L310.0,181.2L310.5,181.2L311.0,181.2L311.5,181.2L312.0,181.2L312.5,181.3L313.0,181.3L313.5,181.3L314.0,181.3L314.5,181.3L315.0,181.3L315.5,181.3L316.0,181.3L316.5,181.4L317.0,181.4L317.5,181.4L318.0,181.4L318.5,181.4L319.0,181.4L319.5,181.4L320.0,181.4L320.5,181.4L321.0,181.5L321.5,181.5L322.0,181.5L322.5,181.5L323.0,181.5L323.5,181.5L324.0,181.5L324.5,181.5L325.0,181.5L325.5,181.5L326.0,181.5L326.5,181.5L327.0,181.5L327.5,181.5L328.0,181.5L328.5,181.5L329.0,181.5L329.5,181.6L330.0,181.6L330.5,181.6L331.0,181.6L331.5,181.6L332.0,181.6L332.5,181.6L333.0,181.6L333.5,181.6L334.0,181.6L334.5,181.6L335.0,181.6L335.5,181.6L336.0,181.6L336.5,181.6L337.0,181.6L337.5,181.6L338.0,181.5L338.5,181.5L339.0,181.5L339.5,181.5L340.0,181.5L340.5,181.5L341.0,181.5L341.5,181.5L342.0,181.5L342.5,181.5L343.0,181.5L343.5,181.5L344.0,181.5L344.5,181.5L345.0,181.5L345.5,181.5L346.0,181.4L346.5,181.4L347.0,181.4L347.5,181.4L348.0,181.4" stroke="#0000ff"/>
<path d="M34.5,20.7L35.0,20.7L35.5,20.7L36.0,20.7L36.5,20.8L37.0,20.8L37.5,20.8L38.0,20.8L38.5,20.9L39.0,20.9L39.5,20.9L40.0,20.9L40.5,21.0L41.0,21.0L41.5,21.0L42.0,21.1L42.5,21.1L43.0,21.1L43.5,21.2L44.0,21.2L44.5,21.3L45.0,21.3L45.5,21.3L46.0,21.4L46.5,21.4L47.0,21.4L47.5,21.5L48.0,21.5L48.5,21.6L49.0,21.6L49.5,21.7L50.0,21.7L50.5,21.7L51.0,21.8L51.5,21.8L52.0,21.9L52.5,21.9L53.0,22.0L53.5,22.0L53.9,22.1L54.4,22.1L54.9,22.2L55.4,22.2L55.9,22.3L56.4,22.3L56.9,22.4L57.4,22.4L57.9,22.5L58.4,22.5L58.9,22.6L59.4,22.6L59.9,22.7L60.4,22.7L60.9,22.8L61.4,22.8L61.9,22.9L62.4,22.9L62.9,23.0L63.4,23.1L63.9,23.1L64.4,23.2L64.9,23.2L65.4,23.3L65.9,23.3L66.4,23.4L66.9,23.5L67.4,23.5L67.9,23.6L68.4,23.6L68.9,23.7L69.4,23.7L69.9,23.8L70.4,23.9L70.9,23.9L71.4,24.0L71.9,24.0L72.3,24.1L72.8,24.2L73.3,24.2L73.8,24.3L74.3,24.3L74.8,24.4L75.3,24.4L75.8,24.5L76.3,24.6L76.8,24.6L77.3,24.7L77.8,24.7L78.3,24.8L78.8,24.9L79.3,24.9L79.8,25.0L80.3,25.0L80.8,25.1L81.3,25.2L81.8,25.2L82.3,25.3L82.8,25.3L83.3,25.4L83.8,25.5L84.3,25.5L84.8,25.6L85.3,25.6L85.8,25.7L86.3,25.8L86.8,25.8L87.2,25.9L87.7,25.9L88.2,26.0L88.7,26.0L89.2,26.1L89.7,26.2L90.2,26.2L90.7,26.3L91.2,26.3L91.7,26.4L92.2,26.4L92.7,26.5L93.2,26.6L93.7,26.6L94.2,26.7L94.7,26.7L95.2,26.8L95.7,26.8L96.2,26.9L96.7,26.9L97.2,27.0L97.7,27.0L98.2,27.1L98.7,27.1L99.2,27.2L99.7,27.2L100.2,27.3L100.7,27.3L101.2,27.4L101.7,27.4L102.2,27.5L102.7,27.5L103.2,27.6L103.7,27.6L104.2,27.7L104.7,27.7L105.2,27.8L105.7,27.8L106.2,27.9L106.7,27.9L107.2,28.0L107.6,28.0L108.1,28.0L108.6,28.1L109.1,28.1L109.6,28.2L110.1,28.2L110.6,28.3L111.1,28.3L111.6,28.4L112.1,28.4L112.6,28.5L113.1,28.5L113.6,28.6L114.1,28.6L114.6,28.7L115.1,28.7L115.6,28.8L116.1,28.8L116.6,28.9L117.1,29.0L117.6,29.0L118.1,29.1L118.6,29.1L119.1,29.2L119.6,29.2L120.1,29.3L120.6,29.4L121.1,29.4L121.6,29.5L122.1,29.6L122.6,29.6L123.1,29.7L123.6,29.8L124.1,29.8L124.5,29.9L125.0,30.0L125.5,30.0L126.0,30.1L126.5,30.2L127.0,30.3L127.5,30.4L128.0,30.4L128.5,30.5L129.0,30.6L129.5,30.7L130.0,30.8L130.5,30.9L131.0,31.0L131.5,31.1L131.9,31.1L132.4,31.2L132.9,31.3L133.4,31.4L133.9,31.5L134.4,31.7L134.9,31.8L135.4,31.9L135.9,32.0L136.3,32.1L136.8,32.2L137.3,32.3L137.8,32.4L138.3,32.6L138.8,32.7L139.3,32.8L139.7,32.9L140.2,33.1L140.7,33.2L141.2,33.4L141.7,33.5L142.1,33.6L142.6,33.8L143.1,33.9L143.6,34.1L144.0,34.3L144.5,34.4L145.0,34.6L145.5,34.8L145.9,35.0L146.4,35.2L146.8,35.4L147.3,35.6L147.7,35.8L148.2,36.1L148.6,36.3L149.0,36.6L149.5,36.8L149.9,37.1L150.3,37.4L150.7,37.7L151.1,38.0L151.5,38.3L151.8,38.7L152.2,39.0L152.6,39.4L152.9,39.7L153.3,40.1L153.6,40.4L153.9,40.8L154.2,41.2L154.6,41.6L154.9,42.0L155.2,42.4L155.5,42.8L155.8,43.2L156.1,43.6L156.3,44.0L156.6,44.4L156.9,44.9L157.1,45.3L157.4,45.7L157.6,46.1L157.9,46.6L158.1,47.0L158.4,47.5L158.6,47.9L158.8,48.4L159.0,48.8L159.2,49.3L159.4,49.7L159.6,50.2L159.8,50.6L160.0,51.1L160.2,51.6L160.4,52.0L160.5,52.5L160.7,53.0L160.9,53.5L161.0,53.9L161.2,54.4L161.4,54.9L161.5,55.4L161.7,55.8L161.8,56.3L162.0,56.8L162.1,57.3L162.3,57.7L162.4,58.2L162.6,58.7L162.7,59.2L162.9,59.6L163.0,60.1L163.2,60.6L163.4,61.1L163.5,61.5L163.7,62.0L163.9,62.5L164.1,62.9L164.2,63.4L164.4,63.9L164.6,64.3L164.8,64.8L165.0,65.3L165.1,65.7L165.3,66.2L165.5,66.7L165.7,67.1L165.9,67.6L166.1,68.0L166.3,68.5L166.5,69.0L166.7,69.4L166.9,69.9L167.1,70.4L167.3,70.8L167.5,71.3L167.7,71.7L167.9,72.2L168.1,72.6L168.3,73.1L168.5,73.6L168.7,74.0L168.9,74.5L169.1,74.9L169.3,75.4L169.5,75.9L169.7,76.3L169.9,76.8L170.1,77.2L170.2,77.7L170.4,78.2L170.6,78.6L170.8,79.1L171.0,79.5L171.2,80.0L171.4,80.5L171.6,80.9L171.8,81.4L172.0,81.8L172.2,82.3L172.4,82.8L172.6,83.2L172.8,83.7L173.0,84.1L173.2,84.6L173.4,85.1L173.6,85.5L173.8,86.0L174.0,86.4L174.2,86.9L174.4,87.4L174.6,87.8L174.8,88.3L175.0,88.7L175.2,89.2L175.4,89.7L175.6,90.1L175.8,90.6L176.0,91.0L176.2,91.5L176.3,92.0L176.5,92.4L176.7,92.9L176.9,93.3L177.1,93.8L177.3,94.3L177.5,94.7L177.7,95.2L177.9,95.6L178.1,96.1L178.3,96.6L178.5,97.0L178.7,97.5L178.9,97.9L179.1,98.4L179.3,98.8L179.5,99.3L179.7,99.8L179.9,100.2L180.1,100.7L180.3,101.1L180.5,101.6L180.7,102.1L180.9,102.5L181.1,103.0L181.3,103.4L181.5,103.9L181.7,104.3L181.9,104.8L182.1,105.3L182.3,105.7L182.5,106.2L182.7,106.6L183.0,107.1L183.2,107.5L183.4,108.0L183.6,108.5L183.8,108.9L184.0,109.4L184.2,109.8L184.4,110.3L184.6,110.7L184.8,111.2L185.0,111.6L185.2,112.1L185.4,112.5L185.7,113.0L185.9,113.5L186.1,113.9L186.3,114.4L186.5,114.8L186.7,115.3L186.9,115.7L187.1,116.2L187.4,116.6L187.6,117.1L187.8,117.5L188.0,118.0L188.2,118.4L188.4,118.9L188.7,119.3L188.9,119.8L189.1,120.2L189.3,120.7L189.5,121.1L189.8,121.6L190.0,122.0L190.2,122.5L190.4,122.9L190.6,123.4L190.9,123.8L191.1,124.3L191.3,124.7L191.5,125.2L191.8,125.6L192.0,126.0L192.2,126.5L192.5,126.9L192.7,127.4L192.9,127.8L193.2,128.3L193.4,128.7L193.6,129.2L193.9,129.6L194.1,130.0L194.3,130.5L194.6,130.9L194.8,131.4L195.0,131.8L195.3,132.2L195.5,132.7L195.8,133.1L196.0,133.6L196.2,134.0L196.5,134.4L196.7,134.9L197.0,135.3L197.2,135.7L197.4,136.2L197.7,136.6L197.9,137.1L198.2,137.5L198.4,137.9L198.7,138.4L198.9,138.8L199.2,139.2L199.4,139.7L199.7,140.1L199.9,140.5L200.2,141.0L200.4,141.4L200.7,141.8L200.9,142.3L201.2,142.7L201.4,143.1L201.7,143.5L201.9,144.0L202.2,144.4L202.5,144.8L202.7,145.3L203.0,145.7L203.2,146.1L203.5,146.6L203.7,147.0L204.0,147.4L204.2,147.8L204.5,148.3L204.8,148.7L205.0,149.1L205.3,149.6L205.6,150.0L205.8,150.4L206.1,150.8L206.4,151.2L206.6,151.7L206.9,152.1L207.2,152.5L207.5,152.9L207.7,153.3L208.0,153.8L208.3,154.2L208.6,154.6L208.9,155.0L209.2,155.4L209.5,155.8L209.7,156.2L210.0,156.6L210.3,157.0L210.7,157.4L211.0,157.8L211.3,158.2L211.6,158.6L211.9,159.0L212.2,159.4L212.5,159.7L212.9,160.1L213.2,160.5L213.5,160.9L213.8,161.2L214.2,161.6L214.5,162.0L214.9,162.4L215.2,162.7L215.6,163.1L215.9,163.4L216.3,163.8L216.6,164.1L217.0,164.5L217.3,164.8L217.7,165.2L218.1,165.5L218.4,165.9L218.8,166.2L219.2,166.5L219.6,166.8L219.9,167.2L220.3,167.5L220.7,167.8L221.1,168.1L221.5,168.4L221.9,168.7L222.3,169.0L222.7,169.3L223.1,169.6L223.5,169.9L223.9,170.2L224.4,170.5L224.8,170.7L225.2,171.0L225.6,171.3L226.0,171.5L226.5,171.8L226.9,172.0L227.3,172.3L227.8,172.5L228.2,172.8L228.7,173.0L229.1,173.2L229.5,173.5L230.0,173.7L230.4,173.9L230.9,174.1L231.4,174.3L231.8,174.5L232.3,174.7L232.7,174.9L233.2,175.1L233.7,175.3L234.1,175.5L234.6,175.7L235.1,175.8L235.5,176.0L236.0,176.2L236.5,176.3L236.9,176.5L237.4,176.6L237.9,176.8L238.4,176.9L238.9,177.1L239.3,177.2L239.8,177.4L240.3,177.5L240.8,177.6L241.3,177.8L241.8,177.9L242.2,178.0L242.7,178.1L243.2,178.2L243.7,178.3L244.2,178.4L244.7,178.5L245.2,178.6L245.7,178.7L246.2,178.8L246.6,178.9L247.1,179.0L247.6,179.1L248.1,179.1L248.6,179.2L249.1,179.3L249.6,179.4L250.1,179.4L250.6,179.5L251.1,179.6L251.6,179.6L252.1,179.7L252.6,179.7L253.1,179.8L253.6,179.9L254.1,179.9L254.6,180.0L255.1,180.0L255.6,180.1L256.1,180.1L256.6,180.1L257.1,180.2L257.6,180.2L258.1,180.3L258.6,180.3L259.1,180.3L259.6,180.4L260.1,180.4L260.6,180.5L261.1,180.5L261.6,180.5L262.1,180.6L262.6,180.6L263.1,180.6L263.6,180.7L264.1,180.7L264.6,180.7L265.1,180.7L265.6,180.8L266.1,180.8L266.6,180.8L267.1,180.9L267.6,180.9L268.0,180.9L268.5,181.0L269.0,181.0L269.5,181.0L270.0,181.1L270.5,181.1L271.0,181.1L271.5,181.2L272.0,181.2L272.5,181.2L273.0,181.3L273.5,181.3L274.0,181.3L274.5,181.3L275.0,181.4L275.5,181.4L276.0,181.4L276.5,181.5L277.0,181.5L277.5,181.5L278.0,181.6L278.5,181.6L279.0,181.6L279.5,181.7L280.0,181.7L280.5,181.7L281.0,181.7L281.5,181.8L282.0,181.8L282.5,181.8L283.0,181.9L283.5,181.9L284.0,181.9L284.5,182.0L285.0,182.0L285.5,182.0L286.0,182.0L286.5,182.1L287.0,182.1L287.5,182.1L288.0,182.2L288.5,182.2L289.0,182.2L289.5,182.2L290.0,182.3L290.5,182.3L291.0,182.3L291.5,182.3L292.0,182.4L292.5,182.4L293.0,182.4L293.5,182.5L294.0,182.5L294.5,182.5L295.0,182.5L295.5,182.6L296.0,182.6L296.5,182.6L297.0,182.6L297.5,182.7L298.0,182.7L298.5,182.7L299.0,182.7L299.5,182.7L300.0,182.8L300.5,182.8L301.0,182.8L301.5,182.8L302.0,182.9L302.5,182.9L303.0,182.9L303.5,182.9L304.0,182.9L304.5,183.0L305.0,183.0L305.5,183.0L306.0,183.0L306.5,183.0L307.0,183.1L307.5,183.1L308.0,183.1L308.5,183.1L309.0,183.1L309.5,183.1L310.0,183.2L310.5,183.2L311.0,183.2L311.5,183.2L312.0,183.2L312.5,183.2L313.0,183.3L313.5,183.3L314.0,183.3L314.5,183.3L315.0,183.3L315.5,183.3L316.0,183.3L316.5,183.4L317.0,183.4L317.5,183.4L318.0,183.4L318.5,183.4L319.0,183.4L319.5,183.4L320.0,183.4L320.5,183.4L321.0,183.4L321.5,183.4L322.0,183.5L322.5,183.5L323.0,183.5L323.5,183.5L324.0,183.5L324.5,183.5L325.0,183.5L325.5,183.5L326.0,183.5L326.5,183.5L327.0,183.5L327.5,183.5L328.0,183.5L328.5,183.5L329.0,183.5L329.5,183.5L330.0,183.5L330.5,183.5L331.0,183.5L331.5,183.5L332.0,183.5L332.5,183.5L333.0,183.5L333.5,183.5L334.0,183.5L334.5,183.5L335.0,183.5L335.5,183.5L336.0,183.5L336.5,183.5L337.0,183.5L337.5,183.5L338.0,183.4L338.5,183.4L339.0,183.4L339.5,183.4L340.0,183.4L340.5,183.4L341.0,183.4L341.5,183.4L342.0,183.4L342.5,183.3L343.0,183.3L343.5,183.3L344.0,183.3L344.5,183.3L345.0,183.3L345.5,183.3L346.0,183.2L346.5,183.2L347.0,183.2L347.5,183.2L348.0,183.2" stroke="#ff00ff"/>
<path d="M34.5,22.1L35.0,22.1L35.5,22.1L36.0,22.1L36.5,22.1L37.0,22.2L37.5,22.2L38.0,22.2L38.5,22.2L39.0,22.3L39.5,22.3L40.0,22.3L40.5,22.4L41.0,22.4L41.5,22.4L42.0,22.5L42.5,22.5L43.0,22.5L43.5,22.6L44.0,22.6L44.5,22.6L45.0,22.7L45.5,22.7L46.0,22.7L46.5,22.8L47.0,22.8L47.5,22.9L48.0,22.9L48.5,23.0L49.0,23.0L49.5,23.0L50.0,23.1L50.5,23.1L51.0,23.2L51.5,23.2L52.0,23.3L52.5,23.3L53.0,23.4L53.5,23.4L54.0,23.5L54.5,23.5L55.0,23.6L55.5,23.6L55.9,23.7L56.4,23.7L56.9,23.8L57.4,23.8L57.9,23.9L58.4,23.9L58.9,24.0L59.4,24.1L59.9,24.1L60.4,24.2L60.9,24.2L61.4,24.3L61.9,24.3L62.4,24.4L62.9,24.5L63.4,24.5L63.9,24.6L64.4,24.6L64.9,24.7L65.4,24.7L65.9,24.8L66.4,24.9L66.9,24.9L67.4,25.0L67.9,25.0L68.4,25.1L68.9,25.2L69.4,25.2L69.9,25.3L70.4,25.4L70.9,25.4L71.3,25.5L71.8,25.5L72.3,25.6L72.8,25.7L73.3,25.7L73.8,25.8L74.3,25.9L74.8,25.9L75.3,26.0L75.8,26.1L76.3,26.1L76.8,26.2L77.3,26.2L77.8,26.3L78.3,26.4L78.8,26.4L79.3,26.5L79.8,26.6L80.3,26.6L80.8,26.7L81.3,26.8L81.8,26.8L82.3,26.9L82.8,26.9L83.3,27.0L83.8,27.1L84.2,27.1L84.7,27.2L85.2,27.3L85.7,27.3L86.2,27.4L86.7,27.5L87.2,27.5L87.7,27.6L88.2,27.6L88.7,27.7L89.2,27.8L89.7,27.8L90.2,27.9L90.7,27.9L91.2,28.0L91.7,28.1L92.2,28.1L92.7,28.2L93.2,28.2L93.7,28.3L94.2,28.4L94.7,28.4L95.2,28.5L95.7,28.5L96.2,28.6L96.7,28.6L97.2,28.7L97.7,28.8L98.2,28.8L98.7,28.9L99.1,28.9L99.6,29.0L100.1,29.0L100.6,29.1L101.1,29.1L101.6,29.2L102.1,29.2L102.6,29.3L103.1,29.3L103.6,29.4L104.1,29.4L104.6,29.5L105.1,29.5L105.6,29.6L106.1,29.6L106.6,29.7L107.1,29.7L107.6,29.8L108.1,29.8L108.6,29.9L109.1,29.9L109.6,30.0L110.1,30.0L110.6,30.1L111.1,30.2L111.6,30.2L112.1,30.3L112.6,30.3L113.1,30.4L113.6,30.4L114.1,30.5L114.6,30.5L115.1,30.6L115.6,30.6L116.1,30.7L116.6,30.8L117.1,30.8L117.6,30.9L118.0,30.9L118.5,31.0L119.0,31.1L119.5,31.1L120.0,31.2L120.5,31.3L121.0,31.3L121.5,31.4L122.0,31.5L122.5,31.5L123.0,31.6L123.5,31.7L124.0,31.8L124.5,31.8L125.0,31.9L125.5,32.0L126.0,32.1L126.5,32.2L127.0,32.3L127.4,32.3L127.9,32.4L128.4,32.5L128.9,32.6L129.4,32.7L129.9,32.8L130.4,32.9L130.9,33.0L131.4,33.1L131.9,33.2L132.4,33.3L132.8,33.4L133.3,33.5L133.8,33.6L134.3,33.8L134.8,33.9L135.3,34.0L135.8,34.1L136.2,34.2L136.7,34.4L137.2,34.5L137.7,34.6L138.2,34.8L138.7,34.9L139.1,35.0L139.6,35.2L140.1,35.3L140.6,35.5L141.1,35.6L141.5,35.8L142.0,35.9L142.5,36.1L143.0,36.2L143.4,36.4L143.9,36.6L144.4,36.8L144.8,37.0L145.3,37.1L145.7,37.4L146.2,37.6L146.6,37.8L147.1,38.0L147.5,38.3L148.0,38.5L148.4,38.8L148.8,39.0L149.2,39.3L149.6,39.6L150.0,39.9L150.4,40.3L150.8,40.6L151.1,40.9L151.5,41.3L151.8,41.7L152.1,42.1L152.4,42.5L152.7,42.9L153.0,43.3L153.3,43.7L153.6,44.1L153.8,44.5L154.1,45.0L154.3,45.4L154.6,45.8L154.8,46.3L155.0,46.7L155.3,47.2L155.5,47.6L155.7,48.1L155.9,48.5L156.1,49.0L156.3,49.4L156.5,49.9L156.7,50.3L156.9,50.8L157.1,51.3L157.3,51.7L157.5,52.2L157.7,52.6L157.9,53.1L158.1,53.6L158.3,54.0L158.5,54.5L158.7,54.9L158.9,55.4L159.1,55.9L159.3,56.3L159.5,56.8L159.6,57.3L159.8,57.7L160.0,58.2L160.2,58.6L160.4,59.1L160.6,59.6L160.8,60.0L160.9,60.5L161.1,61.0L161.3,61.4L161.5,61.9L161.7,62.4L161.9,62.8L162.0,63.3L162.2,63.8L162.4,64.2L162.6,64.7L162.7,65.2L162.9,65.6L163.1,66.1L163.3,66.6L163.5,67.0L163.6,67.5L163.8,68.0L164.0,68.4L164.2,68.9L164.4,69.4L164.5,69.8L164.7,70.3L164.9,70.8L165.1,71.2L165.2,71.7L165.4,72.2L165.6,72.7L165.8,73.1L165.9,73.6L166.1,74.1L166.3,74.5L166.5,75.0L166.7,75.5L166.8,75.9L167.0,76.4L167.2,76.9L167.4,77.3L167.6,77.8L167.7,78.3L167.9,78.7L168.1,79.2L168.3,79.7L168.5,80.1L168.6,80.6L168.8,81.1L169.0,81.5L169.2,82.0L169.4,82.4L169.6,82.9L169.8,83.4L169.9,83.8L170.1,84.3L170.3,84.8L170.5,85.2L170.7,85.7L170.9,86.2L171.1,86.6L171.3,87.1L171.5,87.5L171.7,88.0L171.9,88.5L172.1,88.9L172.3,89.4L172.5,89.8L172.7,90.3L172.9,90.7L173.1,91.2L173.3,91.7L173.5,92.1L173.7,92.6L173.9,93.0L174.1,93.5L174.3,93.9L174.5,94.4L174.7,94.8L174.9,95.3L175.2,95.8L175.4,96.2L175.6,96.7L175.8,97.1L176.0,97.6L176.2,98.0L176.4,98.5L176.6,98.9L176.9,99.4L177.1,99.8L177.3,100.3L177.5,100.7L177.7,101.2L177.9,101.6L178.2,102.1L178.4,102.5L178.6,103.0L178.8,103.4L179.0,103.9L179.3,104.3L179.5,104.8L179.7,105.2L179.9,105.7L180.1,106.1L180.3,106.6L180.6,107.0L180.8,107.5L181.0,107.9L181.2,108.4L181.4,108.8L181.6,109.3L181.9,109.7L182.1,110.2L182.3,110.6L182.5,111.1L182.7,111.5L182.9,112.0L183.1,112.5L183.3,112.9L183.6,113.4L183.8,113.8L184.0,114.3L184.2,114.7L184.4,115.2L184.6,115.6L184.8,116.1L185.0,116.5L185.2,117.0L185.4,117.5L185.6,117.9L185.8,118.4L186.0,118.8L186.2,119.3L186.4,119.7L186.6,120.2L186.8,120.7L187.0,121.1L187.2,121.6L187.4,122.0L187.7,122.5L187.9,122.9L188.1,123.4L188.3,123.9L188.5,124.3L188.7,124.8L188.9,125.2L189.1,125.7L189.3,126.1L189.5,126.6L189.8,127.0L190.0,127.5L190.2,127.9L190.4,128.4L190.7,128.8L190.9,129.3L191.1,129.7L191.3,130.1L191.6,130.6L191.8,131.0L192.0,131.5L192.3,131.9L192.5,132.3L192.8,132.8L193.0,133.2L193.3,133.7L193.5,134.1L193.8,134.5L194.0,135.0L194.3,135.4L194.5,135.8L194.8,136.3L195.0,136.7L195.3,137.1L195.5,137.5L195.8,138.0L196.1,138.4L196.3,138.8L196.6,139.3L196.8,139.7L197.1,140.1L197.3,140.5L197.6,141.0L197.9,141.4L198.1,141.8L198.4,142.3L198.6,142.7L198.9,143.1L199.1,143.6L199.4,144.0L199.6,144.4L199.9,144.9L200.1,145.3L200.4,145.7L200.6,146.2L200.9,146.6L201.1,147.0L201.3,147.5L201.6,147.9L201.8,148.4L202.1,148.8L202.3,149.2L202.5,149.7L202.8,150.1L203.0,150.5L203.3,151.0L203.5,151.4L203.8,151.9L204.0,152.3L204.2,152.7L204.5,153.2L204.7,153.6L205.0,154.0L205.2,154.5L205.5,154.9L205.7,155.3L206.0,155.8L206.3,156.2L206.5,156.6L206.8,157.0L207.0,157.5L207.3,157.9L207.6,158.3L207.8,158.7L208.1,159.2L208.4,159.6L208.7,160.0L209.0,160.4L209.3,160.8L209.5,161.2L209.8,161.6L210.1,162.0L210.4,162.4L210.8,162.8L211.1,163.2L211.4,163.6L211.7,164.0L212.0,164.3L212.4,164.7L212.7,165.1L213.0,165.5L213.4,165.8L213.7,166.2L214.1,166.5L214.4,166.9L214.8,167.2L215.2,167.6L215.6,167.9L215.9,168.2L216.3,168.5L216.7,168.8L217.1,169.2L217.5,169.5L217.9,169.8L218.3,170.0L218.7,170.3L219.1,170.6L219.5,170.9L220.0,171.2L220.4,171.5L220.8,171.7L221.2,172.0L221.6,172.3L222.1,172.5L222.5,172.8L222.9,173.0L223.4,173.3L223.8,173.5L224.2,173.8L224.6,174.1L225.1,174.3L225.5,174.6L226.0,174.8L226.4,175.0L226.8,175.3L227.3,175.5L227.7,175.8L228.1,176.0L228.6,176.2L229.0,176.5L229.5,176.7L229.9,176.9L230.4,177.2L230.8,177.4L231.3,177.6L231.7,177.8L232.2,178.0L232.6,178.2L233.1,178.4L233.5,178.6L234.0,178.8L234.5,179.0L234.9,179.2L235.4,179.3L235.9,179.5L236.4,179.7L236.8,179.8L237.3,180.0L237.8,180.1L238.3,180.3L238.7,180.4L239.2,180.5L239.7,180.6L240.2,180.8L240.7,180.9L241.2,181.0L241.7,181.1L242.2,181.2L242.6,181.3L243.1,181.4L243.6,181.5L244.1,181.6L244.6,181.7L245.1,181.8L245.6,181.9L246.1,181.9L246.6,182.0L247.1,182.1L247.6,182.2L248.1,182.2L248.6,182.3L249.1,182.4L249.5,182.5L250.0,182.5L250.5,182.6L251.0,182.6L251.5,182.7L252.0,182.8L252.5,182.8L253.0,182.9L253.5,182.9L254.0,183.0L254.5,183.0L255.0,183.1L255.5,183.1L256.0,183.2L256.5,183.2L257.0,183.2L257.5,183.3L258.0,183.3L258.5,183.4L259.0,183.4L259.5,183.4L260.0,183.5L260.5,183.5L261.0,183.5L261.5,183.6L262.0,183.6L262.5,183.6L263.0,183.7L263.5,183.7L264.0,183.7L264.5,183.7L265.0,183.8L265.5,183.8L266.0,183.8L266.5,183.9L267.0,183.9L267.5,183.9L268.0,183.9L268.5,184.0L269.0,184.0L269.5,184.0L270.0,184.0L270.5,184.1L271.0,184.1L271.5,184.1L272.0,184.1L272.5,184.1L273.0,184.2L273.5,184.2L274.0,184.2L274.5,184.2L275.0,184.3L275.5,184.3L276.0,184.3L276.5,184.3L277.0,184.3L277.5,184.3L278.0,184.4L278.5,184.4L279.0,184.4L279.5,184.4L280.0,184.4L280.5,184.5L281.0,184.5L281.5,184.5L282.0,184.5L282.5,184.5L283.0,184.5L283.5,184.5L284.0,184.6L284.5,184.6L285.0,184.6L285.5,184.6L286.0,184.6L286.5,184.6L287.0,184.6L287.5,184.6L288.0,184.7L288.5,184.7L289.0,184.7L289.5,184.7L290.0,184.7L290.5,184.7L291.0,184.7L291.5,184.7L292.0,184.7L292.5,184.8L293.0,184.8L293.5,184.8L294.0,184.8L294.5,184.8L295.0,184.8L295.5,184.8L296.0,184.8L296.5,184.8L297.0,184.8L297.5,184.8L298.0,184.8L298.5,184.9L299.0,184.9L299.5,184.9L300.0,184.9L300.5,184.9L301.0,184.9L301.5,184.9L302.0,184.9L302.5,184.9L303.0,184.9L303.5,184.9L304.0,184.9L304.5,184.9L305.0,184.9L305.5,184.9L306.0,184.9L306.5,184.9L307.0,184.9L307.5,185.0L308.0,185.0L308.5,185.0L309.0,185.0L309.5,185.0L310.0,185.0L310.5,185.0L311.0,185.0L311.5,185.0L312.0,185.0L312.5,185.0L313.0,185.0L313.5,185.0L314.0,185.0L314.5,185.0L315.0,185.0L315.5,185.0L316.0,185.0L316.5,185.0L317.0,185.0L317.5,185.0L318.0,185.0L318.5,185.0L319.0,185.0L319.5,185.0L320.0,185.0L320.5,185.0L321.0,185.0L321.5,185.0L322.0,185.0L322.5,185.0L323.0,185.0L323.5,185.0L324.0,185.0L324.5,185.0L325.0,185.0L325.5,185.0L326.0,185.0L326.5,185.0L327.0,185.0L327.5,185.0L328.0,185.0L328.5,185.0L329.0,185.0L329.5,185.0L330.0,185.0L330.5,185.0L331.0,185.0L331.5,185.0L332.0,185.0L332.5,185.0L333.0,185.0L333.5,185.0L334.0,185.0L334.5,185.0L335.0,185.0L335.5,185.0L336.0,185.0L336.5,185.0L337.0,185.0L337.5,185.0L338.0,185.0L338.5,185.0L339.0,185.0L339.5,185.0L340.0,185.0L340.5,185.0L341.0,185.0L341.5,185.0L342.0,185.0L342.5,185.0L343.0,185.0L343.5,185.1L344.0,185.1L344.5,185.1L345.0,185.1L345.5,185.1L346.0,185.1L346.5,185.1L347.0,185.1L347.5,185.1L348.0,185.1" stroke="#008000"/>
</g>
<rect x="34.4" y="1.95" width="313.10" height="209.45" fill="none" stroke="#404040" stroke-width="1.1"/>
<line x1="31.099999999999998" y1="193.90" x2="34.4" y2="193.90" stroke="#404040" stroke-width="1.1"/>
<text x="28.6" y="197.60" text-anchor="end" class="tl">0</text>
<line x1="31.099999999999998" y1="159.00" x2="34.4" y2="159.00" stroke="#404040" stroke-width="1.1"/>
<text x="28.6" y="162.70" text-anchor="end" class="tl">20</text>
<line x1="31.099999999999998" y1="124.10" x2="34.4" y2="124.10" stroke="#404040" stroke-width="1.1"/>
<text x="28.6" y="127.80" text-anchor="end" class="tl">40</text>
<line x1="31.099999999999998" y1="89.20" x2="34.4" y2="89.20" stroke="#404040" stroke-width="1.1"/>
<text x="28.6" y="92.90" text-anchor="end" class="tl">60</text>
<line x1="31.099999999999998" y1="54.30" x2="34.4" y2="54.30" stroke="#404040" stroke-width="1.1"/>
<text x="28.6" y="58.00" text-anchor="end" class="tl">80</text>
<line x1="31.099999999999998" y1="19.40" x2="34.4" y2="19.40" stroke="#404040" stroke-width="1.1"/>
<text x="28.6" y="23.10" text-anchor="end" class="tl">100</text>
<line x1="34.40" y1="211.4" x2="34.40" y2="214.70000000000002" stroke="#404040" stroke-width="1.1"/>
<text x="34.40" y="225.8" text-anchor="middle" class="tl">100</text>
<line x1="97.02" y1="211.4" x2="97.02" y2="214.70000000000002" stroke="#404040" stroke-width="1.1"/>
<text x="97.02" y="225.8" text-anchor="middle" class="tl">200</text>
<line x1="159.64" y1="211.4" x2="159.64" y2="214.70000000000002" stroke="#404040" stroke-width="1.1"/>
<text x="159.64" y="225.8" text-anchor="middle" class="tl">300</text>
<line x1="222.26" y1="211.4" x2="222.26" y2="214.70000000000002" stroke="#404040" stroke-width="1.1"/>
<text x="222.26" y="225.8" text-anchor="middle" class="tl">400</text>
<line x1="284.88" y1="211.4" x2="284.88" y2="214.70000000000002" stroke="#404040" stroke-width="1.1"/>
<text x="284.88" y="225.8" text-anchor="middle" class="tl">500</text>
<line x1="347.50" y1="211.4" x2="347.50" y2="214.70000000000002" stroke="#404040" stroke-width="1.1"/>
<text x="347.50" y="225.8" text-anchor="middle" class="tl">600</text>
<text x="191.2" y="243.2" text-anchor="middle" class="at">Temperature (<tspan font-size="8.5" dy="-4">o</tspan><tspan dy="4">C)</tspan></text>
<text transform="translate(10.4,109.4) rotate(-90)" text-anchor="middle" class="at">Weight %</text>
<text x="55.6" y="53.6" class="pl">(a)</text>
<rect x="53.5" y="119" width="57.80" height="63.80" fill="#fff" stroke="#9a9a9a" stroke-width="0.9"/>
<line x1="55.8" y1="126.00" x2="80.3" y2="126.00" stroke="#000000" stroke-width="1.9"/>
<text x="82.6" y="129.60" class="lg">Neat</text>
<line x1="55.8" y1="138.62" x2="80.3" y2="138.62" stroke="#ff0000" stroke-width="1.9"/>
<text x="82.6" y="142.22" class="lg">EIL5</text>
<line x1="55.8" y1="151.24" x2="80.3" y2="151.24" stroke="#0000ff" stroke-width="1.9"/>
<text x="82.6" y="154.84" class="lg">EIL10</text>
<line x1="55.8" y1="163.86" x2="80.3" y2="163.86" stroke="#ff00ff" stroke-width="1.9"/>
<text x="82.6" y="167.46" class="lg">EIL20</text>
<line x1="55.8" y1="176.48" x2="80.3" y2="176.48" stroke="#008000" stroke-width="1.9"/>
<text x="82.6" y="180.08" class="lg">EIL30</text>
<rect x="219.1" y="9.3" width="120.70" height="83.90" fill="#fff" stroke="#888" stroke-width="0.9"/>
<clipPath id="cia"><rect x="219.1" y="9.3" width="120.70" height="83.90"/></clipPath>
<g clip-path="url(#cia)" fill="none" stroke-width="1.1" stroke-linejoin="round">
<path d="M219.5,19.8L219.9,19.8L220.3,19.8L220.7,19.9L221.1,19.9L221.5,19.9L221.9,20.0L222.3,20.0L222.7,20.0L223.1,20.1L223.5,20.1L223.9,20.1L224.3,20.1L224.7,20.2L225.1,20.2L225.5,20.2L225.9,20.2L226.3,20.3L226.7,20.3L227.1,20.3L227.5,20.4L227.9,20.4L228.3,20.4L228.7,20.4L229.1,20.5L229.5,20.5L229.9,20.5L230.3,20.5L230.7,20.5L231.1,20.6L231.5,20.6L231.9,20.6L232.3,20.6L232.7,20.7L233.1,20.7L233.5,20.7L233.9,20.7L234.3,20.8L234.7,20.8L235.1,20.8L235.5,20.8L235.9,20.9L236.3,20.9L236.7,20.9L237.1,20.9L237.5,20.9L237.9,21.0L238.3,21.0L238.7,21.0L239.1,21.0L239.5,21.1L239.9,21.1L240.3,21.1L240.7,21.1L241.1,21.1L241.5,21.2L241.9,21.2L242.3,21.2L242.7,21.2L243.1,21.3L243.5,21.3L243.9,21.3L244.3,21.3L244.7,21.4L245.1,21.4L245.5,21.4L245.9,21.4L246.3,21.5L246.7,21.5L247.1,21.5L247.5,21.5L247.9,21.6L248.3,21.6L248.7,21.6L249.1,21.6L249.5,21.7L249.9,21.7L250.3,21.7L250.7,21.7L251.1,21.8L251.5,21.8L251.9,21.8L252.3,21.9L252.7,21.9L253.1,21.9L253.5,21.9L253.9,22.0L254.3,22.0L254.7,22.0L255.1,22.1L255.5,22.1L255.9,22.1L256.3,22.2L256.7,22.2L257.1,22.2L257.5,22.3L257.9,22.3L258.3,22.3L258.7,22.4L259.1,22.4L259.5,22.4L259.9,22.5L260.3,22.5L260.7,22.5L261.1,22.6L261.5,22.6L261.9,22.7L262.3,22.7L262.7,22.7L263.1,22.8L263.5,22.8L263.9,22.9L264.3,22.9L264.7,23.0L265.1,23.0L265.5,23.0L265.9,23.1L266.3,23.1L266.7,23.2L267.1,23.2L267.5,23.3L267.9,23.3L268.3,23.4L268.7,23.4L269.1,23.5L269.5,23.5L269.9,23.6L270.2,23.6L270.6,23.7L271.0,23.7L271.4,23.8L271.8,23.8L272.2,23.9L272.6,24.0L273.0,24.0L273.4,24.1L273.8,24.1L274.2,24.2L274.6,24.3L275.0,24.3L275.4,24.4L275.8,24.4L276.2,24.5L276.6,24.6L277.0,24.6L277.4,24.7L277.8,24.8L278.2,24.9L278.6,24.9L279.0,25.0L279.4,25.1L279.7,25.1L280.1,25.2L280.5,25.3L280.9,25.4L281.3,25.4L281.7,25.5L282.1,25.6L282.5,25.7L282.9,25.8L283.3,25.8L283.7,25.9L284.1,26.0L284.5,26.1L284.9,26.2L285.2,26.3L285.6,26.4L286.0,26.4L286.4,26.5L286.8,26.6L287.2,26.7L287.6,26.8L288.0,26.9L288.4,27.0L288.8,27.1L289.1,27.2L289.5,27.3L289.9,27.4L290.3,27.5L290.7,27.6L291.1,27.7L291.5,27.8L291.9,27.9L292.2,28.0L292.6,28.1L293.0,28.3L293.4,28.4L293.8,28.5L294.2,28.6L294.5,28.7L294.9,28.9L295.3,29.0L295.7,29.2L296.0,29.3L296.4,29.4L296.8,29.6L297.2,29.8L297.5,29.9L297.9,30.1L298.2,30.3L298.6,30.4L299.0,30.6L299.3,30.8L299.6,31.0L300.0,31.2L300.3,31.5L300.7,31.7L301.0,31.9L301.3,32.1L301.6,32.4L301.9,32.6L302.3,32.9L302.6,33.2L302.8,33.4L303.1,33.7L303.4,34.0L303.7,34.3L304.0,34.6L304.2,34.9L304.5,35.2L304.7,35.5L305.0,35.8L305.2,36.1L305.5,36.4L305.7,36.8L306.0,37.1L306.2,37.4L306.4,37.8L306.6,38.1L306.9,38.4L307.1,38.8L307.3,39.1L307.5,39.4L307.7,39.8L307.9,40.1L308.1,40.5L308.3,40.8L308.5,41.2L308.7,41.5L308.9,41.9L309.1,42.2L309.3,42.6L309.5,42.9L309.7,43.3L309.9,43.6L310.0,44.0L310.2,44.3L310.4,44.7L310.6,45.1L310.8,45.4L310.9,45.8L311.1,46.1L311.3,46.5L311.5,46.9L311.6,47.2L311.8,47.6L312.0,47.9L312.2,48.3L312.3,48.7L312.5,49.0L312.7,49.4L312.9,49.7L313.0,50.1L313.2,50.5L313.4,50.8L313.5,51.2L313.7,51.6L313.9,51.9L314.1,52.3L314.3,52.6L314.4,53.0L314.6,53.4L314.8,53.7L315.0,54.1L315.2,54.4L315.3,54.8L315.5,55.1L315.7,55.5L315.9,55.8L316.1,56.2L316.3,56.5L316.5,56.9L316.7,57.2L316.9,57.6L317.1,57.9L317.3,58.3L317.5,58.6L317.7,59.0L317.9,59.3L318.1,59.7L318.3,60.0L318.5,60.4L318.7,60.7L318.9,61.0L319.1,61.4L319.3,61.7L319.5,62.1L319.8,62.4L320.0,62.7L320.2,63.1L320.4,63.4L320.6,63.8L320.8,64.1L321.1,64.4L321.3,64.8L321.5,65.1L321.7,65.4L321.9,65.8L322.2,66.1L322.4,66.4L322.6,66.8L322.8,67.1L323.1,67.4L323.3,67.8L323.5,68.1L323.7,68.4L324.0,68.8L324.2,69.1L324.4,69.4L324.6,69.8L324.9,70.1L325.1,70.4L325.3,70.7L325.5,71.1L325.8,71.4L326.0,71.7L326.2,72.1L326.5,72.4L326.7,72.7L326.9,73.0L327.1,73.4L327.4,73.7L327.6,74.0L327.8,74.4L328.1,74.7L328.3,75.0L328.5,75.3L328.7,75.7L329.0,76.0L329.2,76.3L329.4,76.7L329.7,77.0L329.9,77.3L330.1,77.7L330.3,78.0L330.6,78.3L330.8,78.6L331.0,79.0L331.3,79.3L331.5,79.6L331.7,80.0L331.9,80.3L332.2,80.6L332.4,81.0L332.6,81.3L332.9,81.6L333.1,81.9L333.3,82.3L333.5,82.6L333.8,82.9L334.0,83.3L334.2,83.6L334.4,83.9L334.7,84.3L334.9,84.6L335.1,84.9L335.3,85.3L335.6,85.6L335.8,85.9L336.0,86.3L336.2,86.6L336.4,86.9L336.7,87.3L336.9,87.6L337.1,87.9L337.3,88.3L337.6,88.6L337.8,88.9L338.0,89.3L338.2,89.6L338.4,89.9L338.6,90.3L338.9,90.6L339.1,90.9L339.3,91.3L339.5,91.6L339.7,92.0L340.0,92.3L340.2,92.6L340.4,93.0L340.6,93.3L340.8,93.6L341.0,94.0" stroke="#000000"/>
<path d="M219.5,18.9L219.9,18.9L220.3,19.0L220.7,19.0L221.1,19.0L221.5,19.0L221.9,19.1L222.3,19.1L222.7,19.1L223.1,19.1L223.5,19.1L223.9,19.2L224.3,19.2L224.7,19.2L225.1,19.2L225.5,19.3L225.9,19.3L226.3,19.3L226.7,19.3L227.1,19.4L227.5,19.4L227.9,19.4L228.3,19.4L228.7,19.4L229.1,19.5L229.5,19.5L229.9,19.5L230.3,19.5L230.7,19.6L231.1,19.6L231.5,19.6L231.9,19.6L232.3,19.6L232.7,19.7L233.1,19.7L233.5,19.7L233.9,19.7L234.3,19.8L234.7,19.8L235.1,19.8L235.5,19.8L235.9,19.9L236.3,19.9L236.7,19.9L237.1,19.9L237.5,20.0L237.9,20.0L238.3,20.0L238.7,20.0L239.1,20.1L239.5,20.1L239.9,20.1L240.3,20.1L240.7,20.2L241.1,20.2L241.5,20.2L241.9,20.3L242.3,20.3L242.7,20.3L243.1,20.4L243.5,20.4L243.9,20.4L244.3,20.4L244.7,20.5L245.1,20.5L245.5,20.5L245.9,20.6L246.3,20.6L246.7,20.7L247.1,20.7L247.5,20.7L247.9,20.8L248.3,20.8L248.7,20.8L249.1,20.9L249.5,20.9L249.9,21.0L250.3,21.0L250.7,21.0L251.1,21.1L251.5,21.1L251.9,21.2L252.3,21.2L252.7,21.3L253.1,21.3L253.5,21.3L253.9,21.4L254.3,21.4L254.7,21.5L255.1,21.5L255.4,21.6L255.8,21.6L256.2,21.7L256.6,21.8L257.0,21.8L257.4,21.9L257.8,21.9L258.2,22.0L258.6,22.0L259.0,22.1L259.4,22.1L259.8,22.2L260.2,22.3L260.6,22.3L261.0,22.4L261.4,22.5L261.8,22.5L262.2,22.6L262.6,22.7L263.0,22.7L263.4,22.8L263.8,22.9L264.2,22.9L264.5,23.0L264.9,23.1L265.3,23.2L265.7,23.2L266.1,23.3L266.5,23.4L266.9,23.5L267.3,23.6L267.7,23.6L268.1,23.7L268.5,23.8L268.9,23.9L269.3,24.0L269.6,24.1L270.0,24.2L270.4,24.3L270.8,24.4L271.2,24.5L271.6,24.5L272.0,24.6L272.4,24.7L272.8,24.8L273.1,24.9L273.5,25.0L273.9,25.1L274.3,25.3L274.7,25.4L275.1,25.5L275.5,25.6L275.8,25.7L276.2,25.8L276.6,25.9L277.0,26.0L277.4,26.2L277.8,26.3L278.1,26.4L278.5,26.5L278.9,26.6L279.3,26.8L279.7,26.9L280.0,27.0L280.4,27.2L280.8,27.3L281.2,27.4L281.6,27.6L281.9,27.7L282.3,27.8L282.7,28.0L283.1,28.1L283.4,28.3L283.8,28.4L284.2,28.5L284.5,28.7L284.9,28.8L285.3,29.0L285.7,29.1L286.0,29.3L286.4,29.5L286.8,29.6L287.1,29.8L287.5,29.9L287.9,30.1L288.2,30.3L288.6,30.4L289.0,30.6L289.3,30.8L289.7,31.0L290.0,31.1L290.4,31.3L290.8,31.5L291.1,31.7L291.5,31.9L291.8,32.0L292.2,32.2L292.5,32.4L292.9,32.6L293.2,32.8L293.6,33.0L293.9,33.2L294.3,33.4L294.6,33.6L294.9,33.9L295.3,34.1L295.6,34.3L295.9,34.5L296.2,34.8L296.6,35.0L296.9,35.3L297.2,35.5L297.5,35.8L297.8,36.0L298.1,36.3L298.4,36.6L298.7,36.8L299.0,37.1L299.3,37.4L299.6,37.7L299.9,37.9L300.1,38.2L300.4,38.5L300.7,38.8L301.0,39.1L301.2,39.4L301.5,39.7L301.7,40.0L302.0,40.3L302.3,40.6L302.5,40.9L302.8,41.2L303.0,41.6L303.3,41.9L303.5,42.2L303.7,42.5L304.0,42.8L304.2,43.2L304.5,43.5L304.7,43.8L304.9,44.1L305.2,44.5L305.4,44.8L305.6,45.1L305.8,45.4L306.1,45.8L306.3,46.1L306.5,46.4L306.8,46.8L307.0,47.1L307.2,47.4L307.4,47.7L307.7,48.1L307.9,48.4L308.1,48.7L308.4,49.1L308.6,49.4L308.8,49.7L309.0,50.0L309.3,50.4L309.5,50.7L309.7,51.0L310.0,51.4L310.2,51.7L310.4,52.0L310.6,52.3L310.9,52.7L311.1,53.0L311.3,53.3L311.6,53.7L311.8,54.0L312.0,54.3L312.3,54.6L312.5,55.0L312.7,55.3L312.9,55.6L313.2,56.0L313.4,56.3L313.6,56.6L313.9,56.9L314.1,57.3L314.3,57.6L314.6,57.9L314.8,58.2L315.0,58.6L315.2,58.9L315.5,59.2L315.7,59.6L315.9,59.9L316.2,60.2L316.4,60.5L316.6,60.9L316.9,61.2L317.1,61.5L317.3,61.8L317.6,62.2L317.8,62.5L318.0,62.8L318.2,63.2L318.5,63.5L318.7,63.8L318.9,64.1L319.2,64.5L319.4,64.8L319.6,65.1L319.9,65.4L320.1,65.8L320.3,66.1L320.6,66.4L320.8,66.7L321.0,67.1L321.3,67.4L321.5,67.7L321.7,68.0L322.0,68.4L322.2,68.7L322.5,69.0L322.7,69.3L322.9,69.7L323.2,70.0L323.4,70.3L323.6,70.6L323.9,70.9L324.1,71.3L324.3,71.6L324.6,71.9L324.8,72.2L325.1,72.6L325.3,72.9L325.5,73.2L325.8,73.5L326.0,73.9L326.2,74.2L326.5,74.5L326.7,74.8L327.0,75.1L327.2,75.5L327.4,75.8L327.7,76.1L327.9,76.4L328.2,76.7L328.4,77.1L328.7,77.4L328.9,77.7L329.1,78.0L329.4,78.3L329.6,78.6L329.9,79.0L330.1,79.3L330.4,79.6L330.6,79.9L330.9,80.2L331.1,80.5L331.4,80.8L331.6,81.1L331.9,81.4L332.1,81.8L332.4,82.1L332.7,82.4L332.9,82.7L333.2,83.0L333.4,83.3L333.7,83.6L334.0,83.9L334.2,84.2L334.5,84.5L334.8,84.8L335.0,85.1L335.3,85.4L335.6,85.7L335.9,86.0L336.1,86.2L336.4,86.5L336.7,86.8L337.0,87.1L337.3,87.4L337.5,87.7L337.8,88.0L338.1,88.2L338.4,88.5L338.7,88.8L339.0,89.1L339.3,89.3L339.6,89.6L339.9,89.9L340.2,90.2L340.5,90.4L340.8,90.7L341.1,90.9" stroke="#ff0000"/>
<path d="M219.5,21.0L219.9,21.0L220.3,21.1L220.7,21.1L221.1,21.1L221.5,21.2L221.9,21.2L222.3,21.2L222.7,21.2L223.1,21.3L223.5,21.3L223.9,21.3L224.3,21.4L224.7,21.4L225.1,21.4L225.5,21.4L225.9,21.5L226.3,21.5L226.7,21.5L227.1,21.5L227.5,21.6L227.9,21.6L228.3,21.6L228.7,21.6L229.1,21.7L229.5,21.7L229.9,21.7L230.3,21.7L230.7,21.8L231.1,21.8L231.5,21.8L231.9,21.8L232.3,21.9L232.7,21.9L233.1,21.9L233.5,21.9L233.9,22.0L234.3,22.0L234.7,22.0L235.1,22.0L235.5,22.1L235.9,22.1L236.3,22.1L236.7,22.1L237.1,22.2L237.5,22.2L237.9,22.2L238.3,22.2L238.7,22.3L239.1,22.3L239.5,22.3L239.9,22.3L240.3,22.4L240.7,22.4L241.1,22.4L241.5,22.5L241.9,22.5L242.3,22.5L242.7,22.5L243.1,22.6L243.5,22.6L243.9,22.6L244.3,22.7L244.7,22.7L245.1,22.7L245.5,22.8L245.9,22.8L246.3,22.9L246.7,22.9L247.1,22.9L247.5,23.0L247.9,23.0L248.3,23.0L248.7,23.1L249.1,23.1L249.5,23.2L249.9,23.2L250.3,23.2L250.7,23.3L251.1,23.3L251.5,23.4L251.9,23.4L252.2,23.5L252.6,23.5L253.0,23.6L253.4,23.6L253.8,23.7L254.2,23.7L254.6,23.8L255.0,23.8L255.4,23.9L255.8,23.9L256.2,24.0L256.6,24.1L257.0,24.1L257.4,24.2L257.8,24.2L258.2,24.3L258.6,24.4L259.0,24.4L259.4,24.5L259.8,24.6L260.2,24.6L260.6,24.7L261.0,24.8L261.3,24.8L261.7,24.9L262.1,25.0L262.5,25.1L262.9,25.1L263.3,25.2L263.7,25.3L264.1,25.4L264.5,25.5L264.9,25.5L265.3,25.6L265.7,25.7L266.1,25.8L266.4,25.9L266.8,26.0L267.2,26.1L267.6,26.2L268.0,26.3L268.4,26.4L268.8,26.5L269.2,26.6L269.5,26.7L269.9,26.8L270.3,26.9L270.7,27.0L271.1,27.1L271.5,27.2L271.9,27.3L272.2,27.4L272.6,27.6L273.0,27.7L273.4,27.8L273.8,27.9L274.1,28.0L274.5,28.2L274.9,28.3L275.3,28.4L275.7,28.6L276.0,28.7L276.4,28.8L276.8,29.0L277.2,29.1L277.5,29.3L277.9,29.4L278.3,29.5L278.7,29.7L279.0,29.8L279.4,30.0L279.8,30.2L280.1,30.3L280.5,30.5L280.9,30.6L281.2,30.8L281.6,31.0L282.0,31.1L282.3,31.3L282.7,31.5L283.0,31.6L283.4,31.8L283.8,32.0L284.1,32.2L284.5,32.4L284.8,32.6L285.2,32.7L285.5,32.9L285.9,33.1L286.2,33.3L286.6,33.5L286.9,33.7L287.3,33.9L287.6,34.1L288.0,34.3L288.3,34.5L288.6,34.7L289.0,35.0L289.3,35.2L289.6,35.4L290.0,35.6L290.3,35.8L290.6,36.1L291.0,36.3L291.3,36.5L291.6,36.8L292.0,37.0L292.3,37.2L292.6,37.5L292.9,37.7L293.2,37.9L293.6,38.2L293.9,38.4L294.2,38.7L294.5,38.9L294.8,39.2L295.1,39.5L295.4,39.7L295.7,40.0L296.0,40.2L296.3,40.5L296.6,40.8L296.9,41.0L297.2,41.3L297.5,41.6L297.8,41.9L298.1,42.1L298.4,42.4L298.6,42.7L298.9,43.0L299.2,43.3L299.5,43.6L299.7,43.9L300.0,44.2L300.3,44.5L300.5,44.8L300.8,45.1L301.1,45.4L301.3,45.7L301.6,46.0L301.8,46.3L302.1,46.6L302.3,46.9L302.6,47.2L302.8,47.5L303.1,47.9L303.3,48.2L303.5,48.5L303.8,48.8L304.0,49.1L304.2,49.5L304.5,49.8L304.7,50.1L304.9,50.5L305.1,50.8L305.4,51.1L305.6,51.5L305.8,51.8L306.0,52.1L306.2,52.5L306.5,52.8L306.7,53.1L306.9,53.5L307.1,53.8L307.3,54.2L307.5,54.5L307.7,54.8L307.9,55.2L308.2,55.5L308.4,55.9L308.6,56.2L308.8,56.5L309.0,56.9L309.2,57.2L309.4,57.6L309.6,57.9L309.8,58.2L310.0,58.6L310.3,58.9L310.5,59.3L310.7,59.6L310.9,59.9L311.1,60.3L311.3,60.6L311.5,61.0L311.7,61.3L312.0,61.6L312.2,62.0L312.4,62.3L312.6,62.6L312.8,63.0L313.1,63.3L313.3,63.6L313.5,64.0L313.7,64.3L314.0,64.6L314.2,65.0L314.4,65.3L314.7,65.6L314.9,65.9L315.1,66.3L315.4,66.6L315.6,66.9L315.8,67.2L316.1,67.5L316.3,67.9L316.6,68.2L316.8,68.5L317.0,68.8L317.3,69.1L317.5,69.5L317.8,69.8L318.0,70.1L318.3,70.4L318.5,70.7L318.8,71.0L319.0,71.3L319.3,71.6L319.5,72.0L319.8,72.3L320.0,72.6L320.3,72.9L320.5,73.2L320.8,73.5L321.1,73.8L321.3,74.1L321.6,74.4L321.8,74.7L322.1,75.0L322.4,75.3L322.6,75.6L322.9,75.9L323.1,76.2L323.4,76.5L323.7,76.8L323.9,77.1L324.2,77.4L324.5,77.7L324.7,78.0L325.0,78.3L325.3,78.6L325.5,78.9L325.8,79.2L326.1,79.5L326.3,79.8L326.6,80.1L326.9,80.4L327.2,80.7L327.4,81.0L327.7,81.3L328.0,81.6L328.3,81.9L328.5,82.1L328.8,82.4L329.1,82.7L329.4,83.0L329.6,83.3L329.9,83.6L330.2,83.9L330.5,84.2L330.8,84.4L331.1,84.7L331.3,85.0L331.6,85.3L331.9,85.6L332.2,85.8L332.5,86.1L332.8,86.4L333.1,86.7L333.3,87.0L333.6,87.2L333.9,87.5L334.2,87.8L334.5,88.1L334.8,88.3L335.1,88.6L335.4,88.9L335.7,89.2L336.0,89.4L336.2,89.7L336.5,90.0L336.8,90.3L337.1,90.5L337.4,90.8L337.7,91.1L338.0,91.3L338.3,91.6L338.6,91.9L338.9,92.1L339.2,92.4L339.5,92.7L339.8,92.9L340.1,93.2L340.4,93.4L340.7,93.7L341.0,94.0" stroke="#0000ff"/>
<path d="M219.5,22.9L219.9,22.9L220.3,22.9L220.7,23.0L221.1,23.0L221.5,23.0L221.9,23.0L222.3,23.1L222.7,23.1L223.1,23.1L223.5,23.1L223.9,23.2L224.3,23.2L224.7,23.2L225.1,23.2L225.5,23.3L225.9,23.3L226.3,23.3L226.7,23.4L227.1,23.4L227.5,23.4L227.9,23.4L228.3,23.5L228.7,23.5L229.1,23.5L229.5,23.5L229.9,23.6L230.3,23.6L230.7,23.6L231.1,23.7L231.5,23.7L231.9,23.7L232.3,23.7L232.7,23.8L233.1,23.8L233.5,23.8L233.9,23.9L234.3,23.9L234.7,23.9L235.1,24.0L235.5,24.0L235.9,24.0L236.3,24.1L236.7,24.1L237.1,24.1L237.5,24.2L237.9,24.2L238.3,24.2L238.7,24.3L239.1,24.3L239.5,24.4L239.9,24.4L240.3,24.4L240.7,24.5L241.1,24.5L241.5,24.5L241.9,24.6L242.3,24.6L242.7,24.7L243.1,24.7L243.5,24.8L243.8,24.8L244.2,24.9L244.6,24.9L245.0,24.9L245.4,25.0L245.8,25.0L246.2,25.1L246.6,25.1L247.0,25.2L247.4,25.2L247.8,25.3L248.2,25.4L248.6,25.4L249.0,25.5L249.4,25.5L249.8,25.6L250.2,25.6L250.6,25.7L251.0,25.8L251.4,25.8L251.8,25.9L252.2,25.9L252.6,26.0L253.0,26.1L253.4,26.1L253.8,26.2L254.2,26.3L254.6,26.3L254.9,26.4L255.3,26.5L255.7,26.5L256.1,26.6L256.5,26.7L256.9,26.8L257.3,26.8L257.7,26.9L258.1,27.0L258.5,27.1L258.9,27.2L259.3,27.2L259.7,27.3L260.1,27.4L260.4,27.5L260.8,27.6L261.2,27.7L261.6,27.7L262.0,27.8L262.4,27.9L262.8,28.0L263.2,28.1L263.6,28.2L264.0,28.3L264.3,28.4L264.7,28.5L265.1,28.6L265.5,28.7L265.9,28.8L266.3,28.9L266.7,29.0L267.0,29.1L267.4,29.3L267.8,29.4L268.2,29.5L268.6,29.6L269.0,29.7L269.3,29.8L269.7,30.0L270.1,30.1L270.5,30.2L270.9,30.3L271.2,30.5L271.6,30.6L272.0,30.7L272.4,30.9L272.8,31.0L273.1,31.1L273.5,31.3L273.9,31.4L274.2,31.6L274.6,31.7L275.0,31.9L275.4,32.0L275.7,32.2L276.1,32.3L276.5,32.5L276.8,32.7L277.2,32.8L277.6,33.0L277.9,33.2L278.3,33.3L278.6,33.5L279.0,33.7L279.4,33.9L279.7,34.1L280.1,34.2L280.4,34.4L280.8,34.6L281.1,34.8L281.5,35.0L281.8,35.2L282.2,35.4L282.5,35.6L282.9,35.8L283.2,36.0L283.5,36.2L283.9,36.4L284.2,36.7L284.6,36.9L284.9,37.1L285.2,37.3L285.6,37.5L285.9,37.8L286.2,38.0L286.5,38.2L286.9,38.5L287.2,38.7L287.5,39.0L287.8,39.2L288.1,39.5L288.4,39.7L288.7,40.0L289.1,40.2L289.4,40.5L289.7,40.7L290.0,41.0L290.3,41.3L290.6,41.5L290.9,41.8L291.2,42.1L291.5,42.3L291.7,42.6L292.0,42.9L292.3,43.2L292.6,43.5L292.9,43.7L293.2,44.0L293.5,44.3L293.7,44.6L294.0,44.9L294.3,45.2L294.6,45.5L294.8,45.8L295.1,46.1L295.4,46.4L295.6,46.7L295.9,47.0L296.1,47.3L296.4,47.6L296.7,47.9L296.9,48.2L297.2,48.5L297.4,48.8L297.7,49.1L297.9,49.4L298.2,49.7L298.4,50.1L298.7,50.4L298.9,50.7L299.1,51.0L299.4,51.3L299.6,51.7L299.9,52.0L300.1,52.3L300.3,52.6L300.5,53.0L300.8,53.3L301.0,53.6L301.2,54.0L301.4,54.3L301.7,54.6L301.9,55.0L302.1,55.3L302.3,55.6L302.5,56.0L302.8,56.3L303.0,56.6L303.2,57.0L303.4,57.3L303.6,57.7L303.8,58.0L304.1,58.3L304.3,58.7L304.5,59.0L304.7,59.3L304.9,59.7L305.1,60.0L305.3,60.4L305.6,60.7L305.8,61.0L306.0,61.4L306.2,61.7L306.4,62.0L306.6,62.4L306.9,62.7L307.1,63.0L307.3,63.4L307.5,63.7L307.8,64.0L308.0,64.4L308.2,64.7L308.5,65.0L308.7,65.4L308.9,65.7L309.2,66.0L309.4,66.3L309.6,66.6L309.9,67.0L310.1,67.3L310.3,67.6L310.6,67.9L310.8,68.3L311.1,68.6L311.3,68.9L311.5,69.2L311.8,69.5L312.0,69.9L312.3,70.2L312.5,70.5L312.8,70.8L313.0,71.1L313.2,71.4L313.5,71.8L313.7,72.1L314.0,72.4L314.2,72.7L314.5,73.0L314.7,73.3L315.0,73.7L315.2,74.0L315.4,74.3L315.7,74.6L315.9,74.9L316.2,75.3L316.4,75.6L316.7,75.9L316.9,76.2L317.1,76.5L317.4,76.8L317.6,77.2L317.9,77.5L318.1,77.8L318.3,78.1L318.6,78.4L318.8,78.8L319.1,79.1L319.3,79.4L319.6,79.7L319.8,80.0L320.1,80.3L320.3,80.7L320.6,81.0L320.8,81.3L321.1,81.6L321.3,81.9L321.6,82.2L321.8,82.5L322.1,82.8L322.3,83.2L322.6,83.5L322.8,83.8L323.1,84.1L323.3,84.4L323.6,84.7L323.9,85.0L324.1,85.3L324.4,85.6L324.7,85.9L324.9,86.2L325.2,86.5L325.5,86.8L325.7,87.1L326.0,87.4L326.3,87.7L326.6,88.0L326.8,88.2L327.1,88.5L327.4,88.8L327.7,89.1L328.0,89.4L328.3,89.6L328.6,89.9L328.8,90.2L329.1,90.5L329.4,90.7L329.7,91.0L330.0,91.3L330.3,91.5L330.6,91.8L331.0,92.0L331.3,92.3L331.6,92.5L331.9,92.8L332.2,93.0L332.5,93.3L332.8,93.6L333.1,93.8L333.3,94.2L333.5,94.5L333.6,94.9" stroke="#ff00ff"/>
<path d="M219.5,24.3L219.9,24.3L220.3,24.3L220.7,24.3L221.1,24.3L221.5,24.4L221.9,24.4L222.3,24.4L222.7,24.4L223.1,24.4L223.5,24.4L223.9,24.5L224.3,24.5L224.7,24.5L225.1,24.5L225.5,24.6L225.9,24.6L226.3,24.6L226.7,24.6L227.1,24.7L227.5,24.7L227.9,24.7L228.3,24.8L228.7,24.8L229.1,24.8L229.5,24.9L229.9,24.9L230.3,24.9L230.7,25.0L231.1,25.0L231.5,25.0L231.9,25.1L232.3,25.1L232.7,25.2L233.1,25.2L233.5,25.3L233.9,25.3L234.3,25.4L234.7,25.4L235.1,25.4L235.5,25.5L235.9,25.5L236.3,25.6L236.7,25.7L237.1,25.7L237.4,25.8L237.8,25.8L238.2,25.9L238.6,25.9L239.0,26.0L239.4,26.0L239.8,26.1L240.2,26.2L240.6,26.2L241.0,26.3L241.4,26.4L241.8,26.4L242.2,26.5L242.6,26.5L243.0,26.6L243.4,26.7L243.8,26.8L244.2,26.8L244.6,26.9L245.0,27.0L245.4,27.0L245.7,27.1L246.1,27.2L246.5,27.3L246.9,27.3L247.3,27.4L247.7,27.5L248.1,27.6L248.5,27.6L248.9,27.7L249.3,27.8L249.7,27.9L250.1,28.0L250.5,28.0L250.9,28.1L251.2,28.2L251.6,28.3L252.0,28.4L252.4,28.5L252.8,28.6L253.2,28.7L253.6,28.7L254.0,28.8L254.4,28.9L254.8,29.0L255.1,29.1L255.5,29.2L255.9,29.3L256.3,29.4L256.7,29.5L257.1,29.6L257.5,29.7L257.9,29.8L258.3,29.9L258.6,30.0L259.0,30.1L259.4,30.2L259.8,30.3L260.2,30.4L260.6,30.5L261.0,30.6L261.4,30.7L261.7,30.8L262.1,30.9L262.5,31.0L262.9,31.1L263.3,31.2L263.7,31.3L264.0,31.5L264.4,31.6L264.8,31.7L265.2,31.8L265.6,31.9L266.0,32.1L266.3,32.2L266.7,32.3L267.1,32.4L267.5,32.6L267.9,32.7L268.2,32.8L268.6,33.0L269.0,33.1L269.4,33.3L269.7,33.4L270.1,33.5L270.5,33.7L270.8,33.8L271.2,34.0L271.6,34.1L272.0,34.3L272.3,34.5L272.7,34.6L273.1,34.8L273.4,35.0L273.8,35.1L274.1,35.3L274.5,35.5L274.9,35.7L275.2,35.9L275.6,36.0L275.9,36.2L276.3,36.4L276.6,36.6L277.0,36.8L277.3,37.0L277.7,37.2L278.0,37.4L278.3,37.6L278.7,37.9L279.0,38.1L279.3,38.3L279.7,38.5L280.0,38.7L280.3,39.0L280.7,39.2L281.0,39.4L281.3,39.6L281.7,39.9L282.0,40.1L282.3,40.4L282.6,40.6L282.9,40.8L283.2,41.1L283.6,41.3L283.9,41.6L284.2,41.8L284.5,42.1L284.8,42.4L285.1,42.6L285.4,42.9L285.7,43.1L286.0,43.4L286.3,43.7L286.6,44.0L286.9,44.2L287.2,44.5L287.5,44.8L287.8,45.1L288.0,45.3L288.3,45.6L288.6,45.9L288.9,46.2L289.2,46.5L289.4,46.8L289.7,47.1L290.0,47.3L290.3,47.6L290.5,47.9L290.8,48.2L291.1,48.5L291.3,48.8L291.6,49.1L291.9,49.4L292.1,49.7L292.4,50.1L292.6,50.4L292.9,50.7L293.1,51.0L293.4,51.3L293.6,51.6L293.9,51.9L294.1,52.3L294.3,52.6L294.6,52.9L294.8,53.2L295.1,53.5L295.3,53.9L295.5,54.2L295.7,54.5L296.0,54.9L296.2,55.2L296.4,55.5L296.6,55.9L296.9,56.2L297.1,56.5L297.3,56.9L297.5,57.2L297.7,57.5L298.0,57.9L298.2,58.2L298.4,58.5L298.6,58.9L298.8,59.2L299.0,59.6L299.2,59.9L299.4,60.3L299.6,60.6L299.8,60.9L300.1,61.3L300.3,61.6L300.5,62.0L300.7,62.3L300.9,62.6L301.1,63.0L301.3,63.3L301.5,63.7L301.7,64.0L301.9,64.3L302.2,64.7L302.4,65.0L302.6,65.4L302.8,65.7L303.0,66.0L303.3,66.4L303.5,66.7L303.7,67.0L303.9,67.4L304.2,67.7L304.4,68.0L304.6,68.3L304.8,68.7L305.1,69.0L305.3,69.3L305.5,69.6L305.8,70.0L306.0,70.3L306.3,70.6L306.5,70.9L306.7,71.2L307.0,71.6L307.2,71.9L307.5,72.2L307.7,72.5L308.0,72.8L308.2,73.1L308.5,73.5L308.7,73.8L309.0,74.1L309.2,74.4L309.5,74.7L309.7,75.0L310.0,75.3L310.2,75.6L310.5,75.9L310.8,76.2L311.0,76.5L311.3,76.8L311.5,77.1L311.8,77.4L312.1,77.7L312.3,78.0L312.6,78.3L312.9,78.6L313.1,78.9L313.4,79.2L313.7,79.5L313.9,79.8L314.2,80.1L314.5,80.4L314.7,80.7L315.0,81.0L315.3,81.3L315.5,81.6L315.8,81.9L316.1,82.2L316.4,82.5L316.6,82.8L316.9,83.1L317.2,83.4L317.4,83.7L317.7,84.0L318.0,84.3L318.2,84.6L318.5,84.9L318.8,85.2L319.0,85.5L319.3,85.8L319.6,86.1L319.9,86.4L320.1,86.7L320.4,87.0L320.7,87.3L320.9,87.6L321.2,87.9L321.4,88.2L321.7,88.5L322.0,88.8L322.2,89.1L322.5,89.4L322.8,89.7L323.0,90.0L323.3,90.3L323.5,90.6L323.8,90.9L324.0,91.2L324.3,91.5L324.5,91.8L324.8,92.1L325.0,92.5L325.3,92.8L325.5,93.1L325.8,93.4L326.0,93.7L326.3,94.0L326.5,94.4L326.8,94.7L327.0,95.0" stroke="#008000"/>
</g>
<line x1="217.7" y1="93.20" x2="219.1" y2="93.20" stroke="#777" stroke-width="0.6"/>
<text x="217.1" y="94.75" text-anchor="end" class="il">60</text>
<line x1="217.7" y1="72.22" x2="219.1" y2="72.22" stroke="#777" stroke-width="0.6"/>
<text x="217.1" y="73.77" text-anchor="end" class="il">70</text>
<line x1="217.7" y1="51.25" x2="219.1" y2="51.25" stroke="#777" stroke-width="0.6"/>
<text x="217.1" y="52.80" text-anchor="end" class="il">80</text>
<line x1="217.7" y1="30.28" x2="219.1" y2="30.28" stroke="#777" stroke-width="0.6"/>
<text x="217.1" y="31.83" text-anchor="end" class="il">90</text>
<line x1="217.7" y1="9.30" x2="219.1" y2="9.30" stroke="#777" stroke-width="0.6"/>
<text x="217.1" y="10.85" text-anchor="end" class="il">100</text>
<line x1="219.10" y1="93.2" x2="219.10" y2="94.60000000000001" stroke="#777" stroke-width="0.6"/>
<text x="219.10" y="99.00" text-anchor="middle" class="il">250</text>
<line x1="234.19" y1="93.2" x2="234.19" y2="94.60000000000001" stroke="#777" stroke-width="0.6"/>
<text x="234.19" y="99.00" text-anchor="middle" class="il">260</text>
<line x1="249.28" y1="93.2" x2="249.28" y2="94.60000000000001" stroke="#777" stroke-width="0.6"/>
<text x="249.28" y="99.00" text-anchor="middle" class="il">270</text>
<line x1="264.36" y1="93.2" x2="264.36" y2="94.60000000000001" stroke="#777" stroke-width="0.6"/>
<text x="264.36" y="99.00" text-anchor="middle" class="il">280</text>
<line x1="279.45" y1="93.2" x2="279.45" y2="94.60000000000001" stroke="#777" stroke-width="0.6"/>
<text x="279.45" y="99.00" text-anchor="middle" class="il">290</text>
<line x1="294.54" y1="93.2" x2="294.54" y2="94.60000000000001" stroke="#777" stroke-width="0.6"/>
<text x="294.54" y="99.00" text-anchor="middle" class="il">300</text>
<line x1="309.62" y1="93.2" x2="309.62" y2="94.60000000000001" stroke="#777" stroke-width="0.6"/>
<text x="309.62" y="99.00" text-anchor="middle" class="il">310</text>
<line x1="324.71" y1="93.2" x2="324.71" y2="94.60000000000001" stroke="#777" stroke-width="0.6"/>
<text x="324.71" y="99.00" text-anchor="middle" class="il">320</text>
<line x1="339.80" y1="93.2" x2="339.80" y2="94.60000000000001" stroke="#777" stroke-width="0.6"/>
<text x="339.80" y="99.00" text-anchor="middle" class="il">330</text>
<clipPath id="cb"><rect x="34.9" y="255.6" width="311.20" height="202.80"/></clipPath>
<g clip-path="url(#cb)" fill="none" stroke-width="1.9" stroke-linejoin="round" stroke-linecap="round">
<path d="M34.9,272.0L35.4,272.0L35.9,272.0L36.4,272.1L36.9,272.1L37.4,272.1L37.9,272.1L38.4,272.2L38.9,272.2L39.4,272.2L39.9,272.2L40.4,272.3L40.9,272.3L41.4,272.3L41.9,272.4L42.4,272.4L42.9,272.4L43.4,272.4L43.9,272.5L44.4,272.5L44.9,272.5L45.4,272.6L45.9,272.6L46.4,272.6L46.9,272.7L47.4,272.7L47.9,272.7L48.4,272.8L48.9,272.8L49.4,272.8L49.9,272.9L50.4,272.9L50.9,272.9L51.4,273.0L51.9,273.0L52.4,273.0L52.9,273.1L53.4,273.1L53.9,273.1L54.4,273.2L54.9,273.2L55.4,273.2L55.9,273.3L56.4,273.3L56.9,273.3L57.4,273.4L57.9,273.4L58.4,273.5L58.9,273.5L59.4,273.5L59.9,273.6L60.4,273.6L60.8,273.7L61.3,273.7L61.8,273.7L62.3,273.8L62.8,273.8L63.3,273.9L63.8,273.9L64.3,273.9L64.8,274.0L65.3,274.0L65.8,274.1L66.3,274.1L66.8,274.1L67.3,274.2L67.8,274.2L68.3,274.3L68.8,274.3L69.3,274.4L69.8,274.4L70.3,274.4L70.8,274.5L71.3,274.5L71.8,274.6L72.3,274.6L72.8,274.7L73.3,274.7L73.8,274.8L74.3,274.8L74.8,274.9L75.3,274.9L75.8,274.9L76.3,275.0L76.8,275.0L77.3,275.1L77.8,275.1L78.3,275.2L78.8,275.2L79.3,275.3L79.8,275.3L80.3,275.4L80.8,275.4L81.3,275.5L81.8,275.5L82.3,275.6L82.8,275.6L83.3,275.7L83.8,275.7L84.3,275.8L84.8,275.8L85.3,275.9L85.8,275.9L86.3,276.0L86.8,276.0L87.2,276.1L87.7,276.1L88.2,276.2L88.7,276.2L89.2,276.3L89.7,276.3L90.2,276.4L90.7,276.4L91.2,276.5L91.7,276.5L92.2,276.6L92.7,276.7L93.2,276.7L93.7,276.8L94.2,276.8L94.7,276.9L95.2,276.9L95.7,277.0L96.2,277.0L96.7,277.1L97.2,277.1L97.7,277.2L98.2,277.2L98.7,277.3L99.2,277.4L99.7,277.4L100.2,277.5L100.7,277.5L101.2,277.6L101.7,277.6L102.2,277.7L102.7,277.8L103.2,277.8L103.7,277.9L104.2,277.9L104.7,278.0L105.1,278.0L105.6,278.1L106.1,278.2L106.6,278.2L107.1,278.3L107.6,278.3L108.1,278.4L108.6,278.5L109.1,278.5L109.6,278.6L110.1,278.6L110.6,278.7L111.1,278.7L111.6,278.8L112.1,278.9L112.6,278.9L113.1,279.0L113.6,279.0L114.1,279.1L114.6,279.2L115.1,279.2L115.6,279.3L116.1,279.3L116.6,279.4L117.1,279.5L117.6,279.5L118.1,279.6L118.6,279.7L119.1,279.7L119.5,279.8L120.0,279.8L120.5,279.9L121.0,280.0L121.5,280.0L122.0,280.1L122.5,280.2L123.0,280.2L123.5,280.3L124.0,280.3L124.5,280.4L125.0,280.5L125.5,280.5L126.0,280.6L126.5,280.7L127.0,280.7L127.5,280.8L128.0,280.9L128.5,280.9L129.0,281.0L129.5,281.1L130.0,281.1L130.5,281.2L131.0,281.3L131.5,281.3L131.9,281.4L132.4,281.5L132.9,281.6L133.4,281.6L133.9,281.7L134.4,281.8L134.9,281.9L135.4,282.0L135.9,282.1L136.4,282.2L136.9,282.2L137.4,282.3L137.9,282.4L138.3,282.5L138.8,282.6L139.3,282.8L139.8,282.9L140.3,283.0L140.8,283.1L141.3,283.2L141.8,283.3L142.2,283.5L142.7,283.6L143.2,283.7L143.7,283.9L144.2,284.0L144.6,284.2L145.1,284.3L145.6,284.5L146.1,284.6L146.5,284.8L147.0,284.9L147.5,285.1L148.0,285.3L148.4,285.5L148.9,285.7L149.3,285.8L149.8,286.0L150.3,286.2L150.7,286.4L151.2,286.7L151.6,286.9L152.1,287.1L152.5,287.3L153.0,287.6L153.4,287.8L153.8,288.0L154.3,288.3L154.7,288.5L155.1,288.8L155.6,289.1L156.0,289.4L156.4,289.6L156.8,289.9L157.2,290.2L157.6,290.5L158.0,290.8L158.4,291.2L158.7,291.5L159.1,291.8L159.5,292.2L159.8,292.5L160.1,292.9L160.5,293.3L160.8,293.7L161.1,294.1L161.4,294.5L161.7,294.9L162.0,295.3L162.3,295.7L162.5,296.1L162.8,296.6L163.0,297.0L163.2,297.4L163.5,297.9L163.7,298.3L163.9,298.8L164.1,299.3L164.3,299.7L164.5,300.2L164.6,300.7L164.8,301.1L165.0,301.6L165.2,302.1L165.3,302.5L165.5,303.0L165.6,303.5L165.8,304.0L166.0,304.4L166.1,304.9L166.3,305.4L166.4,305.8L166.6,306.3L166.8,306.8L166.9,307.3L167.1,307.7L167.2,308.2L167.4,308.7L167.5,309.2L167.7,309.6L167.9,310.1L168.0,310.6L168.2,311.1L168.3,311.5L168.5,312.0L168.6,312.5L168.8,313.0L169.0,313.4L169.1,313.9L169.3,314.4L169.4,314.9L169.6,315.3L169.8,315.8L169.9,316.3L170.1,316.8L170.2,317.2L170.4,317.7L170.6,318.2L170.7,318.7L170.9,319.1L171.1,319.6L171.2,320.1L171.4,320.5L171.6,321.0L171.7,321.5L171.9,322.0L172.1,322.4L172.2,322.9L172.4,323.4L172.6,323.8L172.7,324.3L172.9,324.8L173.1,325.3L173.2,325.7L173.4,326.2L173.6,326.7L173.8,327.1L173.9,327.6L174.1,328.1L174.3,328.5L174.5,329.0L174.7,329.5L174.8,329.9L175.0,330.4L175.2,330.9L175.4,331.3L175.6,331.8L175.8,332.3L175.9,332.7L176.1,333.2L176.3,333.7L176.5,334.1L176.7,334.6L176.9,335.0L177.1,335.5L177.3,336.0L177.5,336.4L177.7,336.9L177.9,337.3L178.1,337.8L178.3,338.3L178.5,338.7L178.7,339.2L178.9,339.6L179.1,340.1L179.3,340.5L179.5,341.0L179.7,341.5L179.9,341.9L180.1,342.4L180.3,342.8L180.5,343.3L180.7,343.7L181.0,344.2L181.2,344.6L181.4,345.1L181.6,345.5L181.8,346.0L182.0,346.4L182.3,346.9L182.5,347.3L182.7,347.8L182.9,348.2L183.1,348.7L183.4,349.1L183.6,349.6L183.8,350.0L184.0,350.5L184.2,350.9L184.4,351.4L184.7,351.8L184.9,352.3L185.1,352.7L185.3,353.2L185.5,353.6L185.8,354.1L186.0,354.5L186.2,355.0L186.4,355.4L186.6,355.9L186.8,356.3L187.0,356.8L187.3,357.2L187.5,357.7L187.7,358.2L187.9,358.6L188.1,359.1L188.3,359.5L188.5,360.0L188.7,360.4L188.9,360.9L189.1,361.3L189.3,361.8L189.5,362.3L189.7,362.7L189.9,363.2L190.1,363.6L190.3,364.1L190.5,364.6L190.7,365.0L190.9,365.5L191.1,365.9L191.3,366.4L191.5,366.9L191.7,367.3L191.9,367.8L192.1,368.2L192.3,368.7L192.5,369.2L192.6,369.6L192.8,370.1L193.0,370.5L193.2,371.0L193.4,371.5L193.6,371.9L193.8,372.4L194.0,372.8L194.2,373.3L194.5,373.8L194.7,374.2L194.9,374.7L195.1,375.1L195.3,375.6L195.5,376.0L195.7,376.5L195.9,376.9L196.1,377.4L196.4,377.8L196.6,378.3L196.8,378.7L197.0,379.2L197.3,379.6L197.5,380.1L197.7,380.5L198.0,380.9L198.2,381.4L198.4,381.8L198.7,382.3L198.9,382.7L199.2,383.1L199.4,383.6L199.7,384.0L199.9,384.4L200.2,384.9L200.4,385.3L200.7,385.7L200.9,386.1L201.2,386.6L201.5,387.0L201.7,387.4L202.0,387.9L202.3,388.3L202.5,388.7L202.8,389.1L203.1,389.5L203.3,390.0L203.6,390.4L203.9,390.8L204.2,391.2L204.5,391.6L204.7,392.0L205.0,392.4L205.3,392.9L205.6,393.3L205.9,393.7L206.2,394.1L206.5,394.5L206.8,394.9L207.0,395.3L207.3,395.7L207.6,396.1L207.9,396.5L208.2,396.9L208.5,397.3L208.8,397.7L209.1,398.1L209.4,398.5L209.7,398.9L210.0,399.3L210.4,399.7L210.7,400.1L211.0,400.5L211.3,400.9L211.6,401.3L211.9,401.7L212.2,402.0L212.6,402.4L212.9,402.8L213.2,403.2L213.5,403.6L213.8,403.9L214.2,404.3L214.5,404.7L214.8,405.1L215.2,405.5L215.5,405.8L215.8,406.2L216.2,406.6L216.5,406.9L216.9,407.3L217.2,407.7L217.5,408.0L217.9,408.4L218.2,408.7L218.6,409.1L218.9,409.5L219.3,409.8L219.7,410.2L220.0,410.5L220.4,410.9L220.7,411.2L221.1,411.5L221.5,411.9L221.8,412.2L222.2,412.6L222.6,412.9L223.0,413.2L223.3,413.6L223.7,413.9L224.1,414.2L224.5,414.5L224.9,414.8L225.2,415.2L225.6,415.5L226.0,415.8L226.4,416.1L226.8,416.4L227.2,416.7L227.6,417.0L228.0,417.3L228.4,417.6L228.9,417.8L229.3,418.1L229.7,418.4L230.1,418.6L230.6,418.9L231.0,419.2L231.4,419.4L231.9,419.6L232.3,419.9L232.8,420.1L233.2,420.3L233.7,420.5L234.1,420.7L234.6,420.9L235.0,421.1L235.5,421.3L236.0,421.4L236.5,421.6L236.9,421.7L237.4,421.9L237.9,422.0L238.4,422.2L238.9,422.3L239.3,422.4L239.8,422.5L240.3,422.7L240.8,422.8L241.3,422.9L241.8,423.0L242.3,423.1L242.8,423.2L243.2,423.3L243.7,423.4L244.2,423.5L244.7,423.6L245.2,423.7L245.7,423.8L246.2,423.8L246.7,423.9L247.2,424.0L247.7,424.1L248.2,424.2L248.7,424.3L249.2,424.3L249.7,424.4L250.1,424.5L250.6,424.6L251.1,424.7L251.6,424.7L252.1,424.8L252.6,424.9L253.1,425.0L253.6,425.0L254.1,425.1L254.6,425.2L255.1,425.2L255.6,425.3L256.1,425.4L256.6,425.5L257.1,425.5L257.6,425.6L258.1,425.7L258.6,425.7L259.1,425.8L259.6,425.8L260.0,425.9L260.5,426.0L261.0,426.0L261.5,426.1L262.0,426.2L262.5,426.2L263.0,426.3L263.5,426.3L264.0,426.4L264.5,426.4L265.0,426.5L265.5,426.5L266.0,426.6L266.5,426.6L267.0,426.7L267.5,426.7L268.0,426.8L268.5,426.8L269.0,426.9L269.5,426.9L270.0,426.9L270.5,427.0L271.0,427.0L271.5,427.1L272.0,427.1L272.5,427.1L273.0,427.2L273.5,427.2L274.0,427.2L274.5,427.3L275.0,427.3L275.5,427.3L276.0,427.4L276.5,427.4L277.0,427.4L277.5,427.4L278.0,427.5L278.5,427.5L279.0,427.5L279.5,427.5L280.0,427.6L280.5,427.6L281.0,427.6L281.5,427.6L282.0,427.7L282.5,427.7L283.0,427.7L283.5,427.7L284.0,427.7L284.5,427.7L285.0,427.8L285.5,427.8L286.0,427.8L286.5,427.8L287.0,427.8L287.5,427.8L288.0,427.8L288.5,427.9L289.0,427.9L289.5,427.9L290.0,427.9L290.5,427.9L291.0,427.9L291.5,427.9L292.0,427.9L292.5,427.9L293.0,427.9L293.5,427.9L294.0,427.9L294.5,427.9L295.0,427.9L295.5,428.0L296.0,428.0L296.5,428.0L297.0,428.0L297.5,428.0L298.0,428.0L298.5,428.0L299.0,428.0L299.5,428.0L300.0,428.0L300.5,428.0L301.0,428.0L301.5,428.0L302.0,428.0L302.5,428.0L303.0,428.0L303.5,428.0L304.0,428.0L304.5,428.0L305.0,427.9L305.5,427.9L306.0,427.9L306.5,427.9L307.0,427.9L307.5,427.9L308.0,427.9L308.5,427.9L309.0,427.9L309.5,427.9L310.0,427.9L310.5,427.9L311.0,427.9L311.5,427.9L312.0,427.9L312.5,427.9L313.0,427.9L313.5,427.9L314.0,427.9L314.5,427.9L315.0,427.9L315.5,427.9L316.0,427.8L316.5,427.8L317.0,427.8L317.5,427.8L318.0,427.8L318.5,427.8L319.0,427.8L319.5,427.8L320.0,427.8L320.5,427.8L321.0,427.8L321.5,427.8L322.0,427.8L322.5,427.8L323.0,427.8L323.5,427.8L324.0,427.8L324.5,427.8L325.0,427.8L325.5,427.8L326.0,427.8L326.5,427.8L327.0,427.7L327.5,427.7L328.0,427.7L328.5,427.7L329.0,427.7L329.5,427.7L330.0,427.7L330.5,427.7L331.0,427.7L331.5,427.7L332.0,427.7L332.5,427.7L333.0,427.7L333.5,427.7L334.0,427.7L334.5,427.7L335.0,427.7L335.5,427.8L336.0,427.8L336.5,427.8L337.0,427.8L337.5,427.8L338.0,427.8L338.5,427.8L339.0,427.8L339.5,427.8L340.0,427.8L340.5,427.8L341.0,427.8L341.5,427.8L342.0,427.8L342.5,427.8L343.0,427.9L343.5,427.9L344.0,427.9L344.5,427.9L345.0,427.9L345.5,427.9L346.0,427.9L346.5,428.0" stroke="#000000"/>
<path d="M34.9,272.2L35.4,272.2L35.9,272.2L36.4,272.2L36.9,272.3L37.4,272.3L37.9,272.3L38.4,272.3L38.9,272.4L39.4,272.4L39.9,272.4L40.4,272.4L40.9,272.5L41.4,272.5L41.9,272.5L42.4,272.5L42.9,272.6L43.4,272.6L43.9,272.6L44.4,272.7L44.9,272.7L45.4,272.7L45.9,272.7L46.4,272.8L46.9,272.8L47.4,272.8L47.9,272.9L48.4,272.9L48.9,272.9L49.4,273.0L49.9,273.0L50.4,273.0L50.9,273.1L51.4,273.1L51.9,273.1L52.4,273.2L52.9,273.2L53.4,273.2L53.9,273.3L54.4,273.3L54.9,273.3L55.4,273.4L55.9,273.4L56.4,273.5L56.9,273.5L57.4,273.5L57.9,273.6L58.4,273.6L58.9,273.6L59.4,273.7L59.9,273.7L60.4,273.8L60.9,273.8L61.4,273.9L61.9,273.9L62.3,273.9L62.8,274.0L63.3,274.0L63.8,274.1L64.3,274.1L64.8,274.1L65.3,274.2L65.8,274.2L66.3,274.3L66.8,274.3L67.3,274.4L67.8,274.4L68.3,274.5L68.8,274.5L69.3,274.5L69.8,274.6L70.3,274.6L70.8,274.7L71.3,274.7L71.8,274.8L72.3,274.8L72.8,274.9L73.3,274.9L73.8,275.0L74.3,275.0L74.8,275.1L75.3,275.1L75.8,275.2L76.3,275.2L76.8,275.3L77.3,275.3L77.8,275.4L78.3,275.4L78.8,275.5L79.3,275.5L79.8,275.6L80.3,275.6L80.8,275.7L81.3,275.7L81.8,275.8L82.3,275.8L82.8,275.9L83.3,275.9L83.8,276.0L84.3,276.0L84.8,276.1L85.3,276.1L85.7,276.2L86.2,276.2L86.7,276.3L87.2,276.3L87.7,276.4L88.2,276.4L88.7,276.5L89.2,276.5L89.7,276.6L90.2,276.6L90.7,276.7L91.2,276.8L91.7,276.8L92.2,276.9L92.7,276.9L93.2,277.0L93.7,277.0L94.2,277.1L94.7,277.1L95.2,277.2L95.7,277.2L96.2,277.3L96.7,277.4L97.2,277.4L97.7,277.5L98.2,277.5L98.7,277.6L99.2,277.6L99.7,277.7L100.2,277.7L100.7,277.8L101.2,277.9L101.7,277.9L102.2,278.0L102.7,278.0L103.1,278.1L103.6,278.1L104.1,278.2L104.6,278.3L105.1,278.3L105.6,278.4L106.1,278.4L106.6,278.5L107.1,278.5L107.6,278.6L108.1,278.6L108.6,278.7L109.1,278.8L109.6,278.8L110.1,278.9L110.6,278.9L111.1,279.0L111.6,279.0L112.1,279.1L112.6,279.2L113.1,279.2L113.6,279.3L114.1,279.3L114.6,279.4L115.1,279.4L115.6,279.5L116.1,279.6L116.6,279.6L117.1,279.7L117.6,279.7L118.1,279.8L118.6,279.8L119.0,279.9L119.5,280.0L120.0,280.0L120.5,280.1L121.0,280.1L121.5,280.2L122.0,280.2L122.5,280.3L123.0,280.3L123.5,280.4L124.0,280.5L124.5,280.5L125.0,280.6L125.5,280.6L126.0,280.7L126.5,280.7L127.0,280.8L127.5,280.9L128.0,280.9L128.5,281.0L129.0,281.0L129.5,281.1L130.0,281.2L130.5,281.2L131.0,281.3L131.5,281.4L132.0,281.4L132.5,281.5L132.9,281.6L133.4,281.7L133.9,281.8L134.4,281.9L134.9,282.0L135.4,282.0L135.9,282.2L136.4,282.3L136.9,282.4L137.4,282.5L137.8,282.6L138.3,282.7L138.8,282.9L139.3,283.0L139.8,283.2L140.2,283.3L140.7,283.5L141.2,283.6L141.7,283.8L142.1,284.0L142.6,284.1L143.1,284.3L143.5,284.5L144.0,284.7L144.4,284.9L144.9,285.1L145.4,285.3L145.8,285.5L146.3,285.8L146.7,286.0L147.2,286.2L147.6,286.4L148.0,286.6L148.5,286.9L148.9,287.1L149.4,287.4L149.8,287.6L150.2,287.8L150.7,288.1L151.1,288.4L151.5,288.6L152.0,288.9L152.4,289.1L152.8,289.4L153.2,289.7L153.6,290.0L154.1,290.2L154.5,290.5L154.9,290.8L155.3,291.1L155.6,291.5L156.0,291.8L156.4,292.1L156.8,292.5L157.1,292.8L157.5,293.2L157.8,293.5L158.2,293.9L158.5,294.3L158.8,294.7L159.1,295.0L159.4,295.4L159.7,295.8L160.0,296.3L160.3,296.7L160.6,297.1L160.8,297.5L161.1,297.9L161.4,298.4L161.6,298.8L161.8,299.2L162.1,299.7L162.3,300.1L162.6,300.6L162.8,301.0L163.0,301.4L163.2,301.9L163.4,302.4L163.6,302.8L163.8,303.3L164.0,303.7L164.2,304.2L164.4,304.6L164.6,305.1L164.8,305.6L165.0,306.0L165.2,306.5L165.4,307.0L165.5,307.4L165.7,307.9L165.9,308.4L166.1,308.8L166.2,309.3L166.4,309.8L166.6,310.2L166.7,310.7L166.9,311.2L167.1,311.7L167.2,312.1L167.4,312.6L167.6,313.1L167.7,313.5L167.9,314.0L168.1,314.5L168.2,315.0L168.4,315.4L168.5,315.9L168.7,316.4L168.9,316.9L169.0,317.3L169.2,317.8L169.4,318.3L169.5,318.7L169.7,319.2L169.9,319.7L170.0,320.2L170.2,320.6L170.4,321.1L170.6,321.6L170.8,322.0L170.9,322.5L171.1,323.0L171.3,323.4L171.5,323.9L171.7,324.4L171.9,324.8L172.1,325.3L172.2,325.7L172.4,326.2L172.6,326.7L172.8,327.1L173.0,327.6L173.2,328.0L173.4,328.5L173.6,329.0L173.8,329.4L174.0,329.9L174.2,330.3L174.4,330.8L174.6,331.2L174.9,331.7L175.1,332.1L175.3,332.6L175.5,333.1L175.7,333.5L175.9,334.0L176.1,334.4L176.3,334.9L176.6,335.3L176.8,335.8L177.0,336.2L177.2,336.7L177.4,337.1L177.6,337.6L177.9,338.0L178.1,338.5L178.3,338.9L178.5,339.4L178.7,339.8L179.0,340.3L179.2,340.7L179.4,341.2L179.6,341.6L179.9,342.1L180.1,342.5L180.3,342.9L180.5,343.4L180.8,343.8L181.0,344.3L181.2,344.7L181.4,345.2L181.7,345.6L181.9,346.1L182.1,346.5L182.3,347.0L182.6,347.4L182.8,347.9L183.0,348.3L183.2,348.7L183.5,349.2L183.7,349.6L183.9,350.1L184.1,350.5L184.4,351.0L184.6,351.4L184.8,351.9L185.0,352.3L185.3,352.8L185.5,353.2L185.7,353.7L185.9,354.1L186.2,354.6L186.4,355.0L186.6,355.5L186.8,355.9L187.1,356.3L187.3,356.8L187.5,357.2L187.7,357.7L187.9,358.1L188.1,358.6L188.4,359.0L188.6,359.5L188.8,359.9L189.0,360.4L189.2,360.8L189.4,361.3L189.7,361.8L189.9,362.2L190.1,362.7L190.3,363.1L190.5,363.6L190.7,364.0L190.9,364.5L191.1,364.9L191.4,365.4L191.6,365.8L191.8,366.3L192.0,366.7L192.2,367.2L192.4,367.6L192.6,368.1L192.8,368.5L193.1,369.0L193.3,369.5L193.5,369.9L193.7,370.4L193.9,370.8L194.1,371.3L194.3,371.7L194.6,372.2L194.8,372.6L195.0,373.1L195.2,373.5L195.4,374.0L195.7,374.4L195.9,374.8L196.1,375.3L196.3,375.7L196.6,376.2L196.8,376.6L197.0,377.1L197.3,377.5L197.5,378.0L197.7,378.4L198.0,378.8L198.2,379.3L198.5,379.7L198.7,380.1L199.0,380.6L199.2,381.0L199.4,381.5L199.7,381.9L200.0,382.3L200.2,382.7L200.5,383.2L200.7,383.6L201.0,384.0L201.2,384.5L201.5,384.9L201.7,385.3L202.0,385.8L202.3,386.2L202.5,386.6L202.8,387.0L203.1,387.5L203.3,387.9L203.6,388.3L203.9,388.7L204.1,389.1L204.4,389.6L204.7,390.0L204.9,390.4L205.2,390.8L205.5,391.3L205.7,391.7L206.0,392.1L206.3,392.5L206.5,392.9L206.8,393.4L207.1,393.8L207.4,394.2L207.6,394.6L207.9,395.0L208.2,395.5L208.4,395.9L208.7,396.3L209.0,396.7L209.3,397.1L209.5,397.6L209.8,398.0L210.1,398.4L210.4,398.8L210.6,399.2L210.9,399.6L211.2,400.1L211.5,400.5L211.8,400.9L212.0,401.3L212.3,401.7L212.6,402.1L212.9,402.5L213.2,402.9L213.5,403.3L213.8,403.8L214.1,404.2L214.4,404.6L214.7,405.0L215.0,405.4L215.3,405.8L215.6,406.2L215.9,406.5L216.2,406.9L216.5,407.3L216.8,407.7L217.1,408.1L217.5,408.5L217.8,408.9L218.1,409.2L218.4,409.6L218.8,410.0L219.1,410.4L219.5,410.7L219.8,411.1L220.1,411.4L220.5,411.8L220.9,412.1L221.2,412.5L221.6,412.8L221.9,413.2L222.3,413.5L222.7,413.8L223.1,414.2L223.4,414.5L223.8,414.8L224.2,415.1L224.6,415.4L225.0,415.7L225.4,416.0L225.8,416.3L226.2,416.6L226.6,416.9L227.0,417.2L227.5,417.5L227.9,417.7L228.3,418.0L228.7,418.3L229.2,418.5L229.6,418.8L230.0,419.0L230.5,419.2L230.9,419.5L231.4,419.7L231.8,419.9L232.3,420.1L232.7,420.3L233.2,420.5L233.7,420.7L234.1,420.9L234.6,421.1L235.1,421.3L235.5,421.4L236.0,421.6L236.5,421.7L237.0,421.9L237.4,422.0L237.9,422.2L238.4,422.3L238.9,422.4L239.4,422.5L239.8,422.7L240.3,422.8L240.8,422.9L241.3,423.0L241.8,423.1L242.3,423.2L242.8,423.3L243.3,423.4L243.8,423.5L244.2,423.6L244.7,423.7L245.2,423.8L245.7,423.9L246.2,424.0L246.7,424.1L247.2,424.2L247.7,424.3L248.2,424.4L248.7,424.4L249.2,424.5L249.7,424.6L250.2,424.7L250.6,424.8L251.1,424.8L251.6,424.9L252.1,425.0L252.6,425.1L253.1,425.2L253.6,425.2L254.1,425.3L254.6,425.4L255.1,425.4L255.6,425.5L256.1,425.6L256.6,425.6L257.1,425.7L257.6,425.8L258.1,425.8L258.6,425.9L259.1,426.0L259.6,426.0L260.1,426.1L260.6,426.1L261.1,426.2L261.5,426.3L262.0,426.3L262.5,426.4L263.0,426.4L263.5,426.5L264.0,426.5L264.5,426.6L265.0,426.6L265.5,426.7L266.0,426.7L266.5,426.8L267.0,426.8L267.5,426.9L268.0,426.9L268.5,426.9L269.0,427.0L269.5,427.0L270.0,427.1L270.5,427.1L271.0,427.1L271.5,427.2L272.0,427.2L272.5,427.2L273.0,427.3L273.5,427.3L274.0,427.3L274.5,427.4L275.0,427.4L275.5,427.4L276.0,427.5L276.5,427.5L277.0,427.5L277.5,427.6L278.0,427.6L278.5,427.6L279.0,427.6L279.5,427.7L280.0,427.7L280.5,427.7L281.0,427.7L281.5,427.7L282.0,427.8L282.5,427.8L283.0,427.8L283.5,427.8L284.0,427.8L284.5,427.9L285.0,427.9L285.5,427.9L286.0,427.9L286.5,427.9L287.0,427.9L287.5,428.0L288.0,428.0L288.5,428.0L289.0,428.0L289.5,428.0L290.0,428.0L290.5,428.0L291.0,428.0L291.5,428.1L292.0,428.1L292.5,428.1L293.0,428.1L293.5,428.1L294.0,428.1L294.5,428.1L295.0,428.1L295.5,428.1L296.0,428.1L296.5,428.1L297.0,428.1L297.5,428.1L298.0,428.1L298.5,428.2L299.0,428.2L299.5,428.2L300.0,428.2L300.5,428.2L301.0,428.2L301.5,428.2L302.0,428.2L302.5,428.2L303.0,428.2L303.5,428.2L304.0,428.2L304.5,428.2L305.0,428.2L305.5,428.2L306.0,428.2L306.5,428.2L307.0,428.2L307.5,428.2L308.0,428.2L308.5,428.2L309.0,428.2L309.5,428.2L310.0,428.2L310.5,428.2L311.0,428.2L311.5,428.2L312.0,428.1L312.5,428.1L313.0,428.1L313.5,428.1L314.0,428.1L314.5,428.1L315.0,428.1L315.5,428.1L316.0,428.1L316.5,428.1L317.0,428.1L317.5,428.1L318.0,428.1L318.5,428.1L319.0,428.1L319.5,428.1L320.0,428.1L320.5,428.1L321.0,428.1L321.5,428.1L322.0,428.1L322.5,428.1L323.0,428.1L323.5,428.1L324.0,428.1L324.5,428.1L325.0,428.1L325.5,428.1L326.0,428.1L326.5,428.1L327.0,428.0L327.5,428.0L328.0,428.0L328.5,428.0L329.0,428.0L329.5,428.0L330.0,428.0L330.5,428.0L331.0,428.0L331.5,428.0L332.0,428.0L332.5,428.0L333.0,428.0L333.5,428.0L334.0,428.0L334.5,428.0L335.0,428.0L335.5,428.0L336.0,428.0L336.5,428.0L337.0,428.0L337.5,428.0L338.0,428.0L338.5,428.0L339.0,428.0L339.5,428.1L340.0,428.1L340.5,428.1L341.0,428.1L341.5,428.1L342.0,428.1L342.5,428.1L343.0,428.1L343.5,428.1L344.0,428.1L344.5,428.1L345.0,428.1L345.5,428.1L346.0,428.1L346.5,428.1" stroke="#ff0000"/>
<path d="M34.9,273.6L35.4,273.6L35.9,273.6L36.4,273.6L36.9,273.6L37.4,273.6L37.9,273.6L38.4,273.6L38.9,273.6L39.4,273.7L39.9,273.7L40.4,273.7L40.9,273.7L41.4,273.7L41.9,273.7L42.4,273.8L42.9,273.8L43.4,273.8L43.9,273.8L44.4,273.8L44.9,273.9L45.4,273.9L45.9,273.9L46.4,273.9L46.9,274.0L47.4,274.0L47.9,274.0L48.4,274.0L48.9,274.1L49.4,274.1L49.9,274.1L50.4,274.2L50.9,274.2L51.4,274.2L51.9,274.3L52.4,274.3L52.9,274.3L53.4,274.4L53.9,274.4L54.4,274.5L54.9,274.5L55.4,274.5L55.9,274.6L56.4,274.6L56.9,274.7L57.4,274.7L57.9,274.8L58.4,274.8L58.9,274.8L59.4,274.9L59.9,274.9L60.4,275.0L60.9,275.0L61.4,275.1L61.9,275.1L62.4,275.2L62.9,275.2L63.4,275.3L63.8,275.3L64.3,275.4L64.8,275.4L65.3,275.5L65.8,275.5L66.3,275.6L66.8,275.6L67.3,275.7L67.8,275.7L68.3,275.8L68.8,275.8L69.3,275.9L69.8,276.0L70.3,276.0L70.8,276.1L71.3,276.1L71.8,276.2L72.3,276.2L72.8,276.3L73.3,276.3L73.8,276.4L74.3,276.5L74.8,276.5L75.3,276.6L75.8,276.6L76.3,276.7L76.8,276.7L77.3,276.8L77.8,276.8L78.3,276.9L78.8,277.0L79.3,277.0L79.8,277.1L80.3,277.1L80.8,277.2L81.3,277.2L81.7,277.3L82.2,277.4L82.7,277.4L83.2,277.5L83.7,277.5L84.2,277.6L84.7,277.6L85.2,277.7L85.7,277.7L86.2,277.8L86.7,277.8L87.2,277.9L87.7,278.0L88.2,278.0L88.7,278.1L89.2,278.1L89.7,278.2L90.2,278.2L90.7,278.3L91.2,278.3L91.7,278.4L92.2,278.4L92.7,278.5L93.2,278.5L93.7,278.6L94.2,278.6L94.7,278.7L95.2,278.7L95.7,278.8L96.2,278.8L96.7,278.9L97.2,278.9L97.7,279.0L98.2,279.0L98.7,279.1L99.2,279.1L99.7,279.2L100.2,279.2L100.7,279.3L101.2,279.3L101.6,279.4L102.1,279.4L102.6,279.5L103.1,279.5L103.6,279.6L104.1,279.6L104.6,279.7L105.1,279.7L105.6,279.7L106.1,279.8L106.6,279.8L107.1,279.9L107.6,279.9L108.1,280.0L108.6,280.0L109.1,280.1L109.6,280.1L110.1,280.2L110.6,280.2L111.1,280.3L111.6,280.3L112.1,280.4L112.6,280.4L113.1,280.5L113.6,280.5L114.1,280.6L114.6,280.6L115.1,280.7L115.6,280.7L116.1,280.8L116.6,280.8L117.1,280.9L117.6,280.9L118.1,281.0L118.6,281.1L119.1,281.1L119.6,281.2L120.1,281.2L120.6,281.3L121.1,281.3L121.6,281.4L122.1,281.4L122.5,281.5L123.0,281.5L123.5,281.6L124.0,281.7L124.5,281.7L125.0,281.8L125.5,281.8L126.0,281.9L126.5,282.0L127.0,282.0L127.5,282.1L128.0,282.2L128.5,282.2L129.0,282.3L129.5,282.4L130.0,282.4L130.5,282.5L131.0,282.6L131.5,282.7L132.0,282.8L132.5,282.8L133.0,282.9L133.4,283.0L133.9,283.1L134.4,283.2L134.9,283.3L135.4,283.4L135.9,283.5L136.4,283.7L136.9,283.8L137.3,283.9L137.8,284.0L138.3,284.2L138.8,284.3L139.3,284.5L139.7,284.6L140.2,284.8L140.7,284.9L141.2,285.1L141.6,285.3L142.1,285.4L142.6,285.6L143.0,285.8L143.5,286.0L143.9,286.2L144.4,286.4L144.9,286.6L145.3,286.8L145.8,287.1L146.2,287.3L146.7,287.5L147.1,287.7L147.5,288.0L148.0,288.2L148.4,288.5L148.9,288.7L149.3,289.0L149.7,289.2L150.1,289.5L150.6,289.7L151.0,290.0L151.4,290.3L151.8,290.5L152.2,290.8L152.7,291.1L153.1,291.4L153.5,291.7L153.9,292.0L154.3,292.3L154.6,292.6L155.0,293.0L155.4,293.3L155.8,293.6L156.1,294.0L156.5,294.3L156.8,294.7L157.2,295.1L157.5,295.4L157.8,295.8L158.1,296.2L158.4,296.6L158.7,297.0L159.0,297.4L159.3,297.8L159.6,298.2L159.8,298.7L160.1,299.1L160.4,299.5L160.6,300.0L160.9,300.4L161.1,300.8L161.3,301.3L161.6,301.7L161.8,302.1L162.0,302.6L162.3,303.0L162.5,303.5L162.7,303.9L162.9,304.4L163.1,304.8L163.3,305.3L163.6,305.7L163.8,306.2L164.0,306.7L164.2,307.1L164.4,307.6L164.6,308.0L164.8,308.5L165.0,308.9L165.2,309.4L165.4,309.8L165.6,310.3L165.8,310.8L166.0,311.2L166.2,311.7L166.4,312.1L166.6,312.6L166.8,313.1L167.0,313.5L167.2,314.0L167.4,314.4L167.6,314.9L167.8,315.4L168.0,315.8L168.2,316.3L168.4,316.7L168.6,317.2L168.8,317.7L169.0,318.1L169.2,318.6L169.4,319.0L169.6,319.5L169.8,320.0L170.0,320.4L170.2,320.9L170.4,321.3L170.6,321.8L170.8,322.3L171.0,322.7L171.1,323.2L171.3,323.6L171.5,324.1L171.7,324.6L171.9,325.0L172.1,325.5L172.3,325.9L172.5,326.4L172.7,326.8L172.9,327.3L173.1,327.8L173.3,328.2L173.5,328.7L173.7,329.1L173.9,329.6L174.1,330.1L174.3,330.5L174.5,331.0L174.7,331.4L174.9,331.9L175.1,332.3L175.3,332.8L175.5,333.3L175.8,333.7L176.0,334.2L176.2,334.6L176.4,335.1L176.6,335.5L176.8,336.0L177.0,336.5L177.2,336.9L177.4,337.4L177.6,337.8L177.8,338.3L178.0,338.8L178.2,339.2L178.4,339.7L178.6,340.1L178.8,340.6L179.0,341.0L179.2,341.5L179.4,342.0L179.6,342.4L179.8,342.9L180.0,343.3L180.2,343.8L180.4,344.2L180.6,344.7L180.8,345.2L181.0,345.6L181.2,346.1L181.4,346.5L181.6,347.0L181.8,347.5L182.0,347.9L182.2,348.4L182.4,348.8L182.6,349.3L182.8,349.7L183.0,350.2L183.2,350.7L183.4,351.1L183.6,351.6L183.8,352.0L184.0,352.5L184.2,353.0L184.4,353.4L184.6,353.9L184.8,354.3L185.0,354.8L185.2,355.2L185.4,355.7L185.6,356.2L185.8,356.6L186.0,357.1L186.2,357.5L186.4,358.0L186.6,358.5L186.8,358.9L187.0,359.4L187.2,359.8L187.4,360.3L187.6,360.8L187.8,361.2L187.9,361.7L188.1,362.1L188.3,362.6L188.5,363.1L188.7,363.5L188.9,364.0L189.1,364.4L189.3,364.9L189.5,365.4L189.7,365.8L189.9,366.3L190.1,366.7L190.3,367.2L190.5,367.7L190.7,368.1L190.9,368.6L191.1,369.0L191.3,369.5L191.5,369.9L191.7,370.4L191.9,370.9L192.2,371.3L192.4,371.8L192.6,372.2L192.8,372.7L193.0,373.1L193.2,373.6L193.5,374.0L193.7,374.5L193.9,374.9L194.1,375.4L194.4,375.8L194.6,376.2L194.8,376.7L195.1,377.1L195.3,377.6L195.5,378.0L195.8,378.4L196.0,378.9L196.3,379.3L196.5,379.7L196.8,380.2L197.0,380.6L197.3,381.0L197.5,381.5L197.8,381.9L198.1,382.3L198.3,382.7L198.6,383.2L198.9,383.6L199.1,384.0L199.4,384.4L199.7,384.9L199.9,385.3L200.2,385.7L200.5,386.1L200.8,386.5L201.0,386.9L201.3,387.4L201.6,387.8L201.9,388.2L202.2,388.6L202.4,389.0L202.7,389.4L203.0,389.9L203.3,390.3L203.6,390.7L203.8,391.1L204.1,391.5L204.4,391.9L204.7,392.3L205.0,392.8L205.2,393.2L205.5,393.6L205.8,394.0L206.1,394.4L206.4,394.8L206.6,395.2L206.9,395.7L207.2,396.1L207.5,396.5L207.7,396.9L208.0,397.3L208.3,397.7L208.6,398.2L208.8,398.6L209.1,399.0L209.4,399.4L209.7,399.8L209.9,400.2L210.2,400.7L210.5,401.1L210.8,401.5L211.1,401.9L211.4,402.3L211.6,402.7L211.9,403.1L212.2,403.5L212.5,404.0L212.8,404.4L213.1,404.8L213.4,405.2L213.7,405.6L214.0,406.0L214.3,406.4L214.6,406.8L214.9,407.2L215.2,407.5L215.5,407.9L215.9,408.3L216.2,408.7L216.5,409.1L216.8,409.4L217.2,409.8L217.5,410.2L217.9,410.6L218.2,410.9L218.6,411.3L218.9,411.6L219.3,412.0L219.6,412.3L220.0,412.7L220.4,413.0L220.7,413.3L221.1,413.7L221.5,414.0L221.9,414.3L222.3,414.6L222.7,414.9L223.1,415.2L223.5,415.5L223.9,415.8L224.3,416.1L224.7,416.4L225.1,416.6L225.6,416.9L226.0,417.2L226.4,417.4L226.8,417.7L227.3,417.9L227.7,418.2L228.2,418.4L228.6,418.6L229.0,418.9L229.5,419.1L229.9,419.3L230.4,419.5L230.8,419.7L231.3,419.9L231.8,420.1L232.2,420.3L232.7,420.5L233.2,420.7L233.6,420.9L234.1,421.0L234.6,421.2L235.0,421.4L235.5,421.5L236.0,421.7L236.5,421.8L236.9,422.0L237.4,422.1L237.9,422.2L238.4,422.4L238.9,422.5L239.4,422.6L239.8,422.7L240.3,422.8L240.8,423.0L241.3,423.1L241.8,423.2L242.3,423.3L242.8,423.4L243.3,423.5L243.8,423.6L244.2,423.7L244.7,423.8L245.2,423.9L245.7,424.0L246.2,424.1L246.7,424.2L247.2,424.3L247.7,424.4L248.2,424.5L248.7,424.5L249.2,424.6L249.7,424.7L250.1,424.8L250.6,424.9L251.1,425.0L251.6,425.1L252.1,425.1L252.6,425.2L253.1,425.3L253.6,425.4L254.1,425.4L254.6,425.5L255.1,425.6L255.6,425.7L256.1,425.7L256.6,425.8L257.1,425.9L257.6,425.9L258.1,426.0L258.6,426.1L259.1,426.1L259.5,426.2L260.0,426.2L260.5,426.3L261.0,426.4L261.5,426.4L262.0,426.5L262.5,426.5L263.0,426.6L263.5,426.6L264.0,426.7L264.5,426.7L265.0,426.8L265.5,426.8L266.0,426.9L266.5,426.9L267.0,427.0L267.5,427.0L268.0,427.1L268.5,427.1L269.0,427.1L269.5,427.2L270.0,427.2L270.5,427.3L271.0,427.3L271.5,427.3L272.0,427.4L272.5,427.4L273.0,427.5L273.5,427.5L274.0,427.5L274.5,427.6L275.0,427.6L275.5,427.6L276.0,427.6L276.5,427.7L277.0,427.7L277.5,427.7L278.0,427.8L278.5,427.8L279.0,427.8L279.5,427.8L280.0,427.9L280.5,427.9L281.0,427.9L281.5,427.9L282.0,427.9L282.5,428.0L283.0,428.0L283.5,428.0L284.0,428.0L284.5,428.0L285.0,428.1L285.5,428.1L286.0,428.1L286.5,428.1L287.0,428.1L287.5,428.1L288.0,428.1L288.5,428.2L289.0,428.2L289.5,428.2L290.0,428.2L290.5,428.2L291.0,428.2L291.5,428.2L292.0,428.2L292.5,428.2L293.0,428.2L293.5,428.3L294.0,428.3L294.5,428.3L295.0,428.3L295.5,428.3L296.0,428.3L296.5,428.3L297.0,428.3L297.5,428.3L298.0,428.3L298.5,428.3L299.0,428.3L299.5,428.3L300.0,428.3L300.5,428.3L301.0,428.3L301.5,428.3L302.0,428.3L302.5,428.3L303.0,428.3L303.5,428.3L304.0,428.3L304.5,428.3L305.0,428.3L305.5,428.3L306.0,428.3L306.5,428.3L307.0,428.3L307.5,428.3L308.0,428.3L308.5,428.3L309.0,428.3L309.5,428.3L310.0,428.3L310.5,428.3L311.0,428.3L311.5,428.3L312.0,428.3L312.5,428.3L313.0,428.3L313.5,428.3L314.0,428.3L314.5,428.3L315.0,428.3L315.5,428.3L316.0,428.3L316.5,428.3L317.0,428.2L317.5,428.2L318.0,428.2L318.5,428.2L319.0,428.2L319.5,428.2L320.0,428.2L320.5,428.2L321.0,428.2L321.5,428.2L322.0,428.2L322.5,428.2L323.0,428.2L323.5,428.2L324.0,428.2L324.5,428.2L325.0,428.2L325.5,428.2L326.0,428.2L326.5,428.2L327.0,428.2L327.5,428.2L328.0,428.2L328.5,428.2L329.0,428.2L329.5,428.2L330.0,428.2L330.5,428.2L331.0,428.2L331.5,428.2L332.0,428.2L332.5,428.2L333.0,428.2L333.5,428.2L334.0,428.2L334.5,428.2L335.0,428.2L335.5,428.2L336.0,428.2L336.5,428.2L337.0,428.2L337.5,428.2L338.0,428.2L338.5,428.2L339.0,428.2L339.5,428.2L340.0,428.2L340.5,428.2L341.0,428.2L341.5,428.2L342.0,428.2L342.5,428.2L343.0,428.2L343.5,428.2L344.0,428.2L344.5,428.3L345.0,428.3L345.5,428.3L346.0,428.3L346.5,428.3" stroke="#0000ff"/>
<path d="M34.9,276.1L35.4,276.1L35.9,276.1L36.4,276.2L36.9,276.2L37.4,276.2L37.9,276.2L38.4,276.2L38.9,276.3L39.4,276.3L39.9,276.3L40.4,276.4L40.9,276.4L41.4,276.4L41.9,276.4L42.4,276.5L42.9,276.5L43.4,276.5L43.9,276.6L44.4,276.6L44.9,276.6L45.4,276.7L45.9,276.7L46.4,276.7L46.9,276.8L47.4,276.8L47.9,276.8L48.4,276.9L48.9,276.9L49.4,277.0L49.9,277.0L50.4,277.0L50.9,277.1L51.4,277.1L51.9,277.2L52.4,277.2L52.9,277.3L53.4,277.3L53.9,277.3L54.4,277.4L54.9,277.4L55.4,277.5L55.9,277.5L56.4,277.6L56.9,277.6L57.4,277.7L57.9,277.7L58.4,277.8L58.9,277.8L59.4,277.9L59.9,277.9L60.4,278.0L60.9,278.0L61.3,278.1L61.8,278.1L62.3,278.2L62.8,278.2L63.3,278.3L63.8,278.3L64.3,278.4L64.8,278.4L65.3,278.5L65.8,278.5L66.3,278.6L66.8,278.6L67.3,278.7L67.8,278.8L68.3,278.8L68.8,278.9L69.3,278.9L69.8,279.0L70.3,279.0L70.8,279.1L71.3,279.1L71.8,279.2L72.3,279.3L72.8,279.3L73.3,279.4L73.8,279.4L74.3,279.5L74.8,279.5L75.3,279.6L75.8,279.6L76.3,279.7L76.8,279.8L77.3,279.8L77.8,279.9L78.3,279.9L78.8,280.0L79.3,280.0L79.8,280.1L80.3,280.1L80.8,280.2L81.3,280.3L81.7,280.3L82.2,280.4L82.7,280.4L83.2,280.5L83.7,280.5L84.2,280.6L84.7,280.6L85.2,280.7L85.7,280.7L86.2,280.8L86.7,280.9L87.2,280.9L87.7,281.0L88.2,281.0L88.7,281.1L89.2,281.1L89.7,281.2L90.2,281.2L90.7,281.3L91.2,281.3L91.7,281.4L92.2,281.4L92.7,281.5L93.2,281.5L93.7,281.6L94.2,281.6L94.7,281.7L95.2,281.7L95.7,281.8L96.2,281.8L96.7,281.9L97.2,281.9L97.7,282.0L98.2,282.0L98.7,282.1L99.2,282.1L99.7,282.2L100.2,282.2L100.7,282.3L101.2,282.3L101.7,282.4L102.2,282.4L102.7,282.5L103.2,282.5L103.7,282.6L104.2,282.6L104.7,282.7L105.1,282.7L105.6,282.8L106.1,282.8L106.6,282.9L107.1,282.9L107.6,283.0L108.1,283.0L108.6,283.1L109.1,283.1L109.6,283.2L110.1,283.2L110.6,283.3L111.1,283.3L111.6,283.4L112.1,283.4L112.6,283.5L113.1,283.5L113.6,283.6L114.1,283.6L114.6,283.7L115.1,283.8L115.6,283.8L116.1,283.9L116.6,283.9L117.1,284.0L117.6,284.0L118.1,284.1L118.6,284.2L119.1,284.2L119.6,284.3L120.1,284.3L120.6,284.4L121.1,284.5L121.6,284.5L122.1,284.6L122.6,284.7L123.1,284.7L123.6,284.8L124.0,284.9L124.5,284.9L125.0,285.0L125.5,285.1L126.0,285.1L126.5,285.2L127.0,285.3L127.5,285.4L128.0,285.4L128.5,285.5L129.0,285.6L129.5,285.7L130.0,285.8L130.5,285.8L131.0,285.9L131.5,286.0L132.0,286.1L132.4,286.2L132.9,286.3L133.4,286.4L133.9,286.5L134.4,286.7L134.9,286.8L135.4,286.9L135.9,287.0L136.3,287.2L136.8,287.3L137.3,287.5L137.8,287.6L138.2,287.8L138.7,287.9L139.2,288.1L139.7,288.3L140.1,288.4L140.6,288.6L141.1,288.8L141.5,289.0L142.0,289.2L142.4,289.4L142.9,289.6L143.3,289.8L143.8,290.1L144.2,290.3L144.7,290.5L145.1,290.8L145.5,291.0L146.0,291.3L146.4,291.5L146.8,291.8L147.2,292.1L147.7,292.4L148.1,292.6L148.5,292.9L148.9,293.2L149.3,293.5L149.7,293.8L150.1,294.2L150.4,294.5L150.8,294.8L151.2,295.1L151.6,295.5L151.9,295.8L152.3,296.2L152.6,296.5L153.0,296.9L153.3,297.3L153.7,297.6L154.0,298.0L154.3,298.4L154.6,298.8L154.9,299.2L155.2,299.6L155.5,300.0L155.8,300.4L156.1,300.8L156.4,301.2L156.7,301.6L157.0,302.0L157.3,302.4L157.5,302.9L157.8,303.3L158.1,303.7L158.3,304.1L158.6,304.6L158.8,305.0L159.1,305.4L159.3,305.9L159.5,306.3L159.8,306.8L160.0,307.2L160.2,307.7L160.4,308.1L160.7,308.6L160.9,309.0L161.1,309.5L161.3,309.9L161.5,310.4L161.7,310.8L161.9,311.3L162.1,311.7L162.3,312.2L162.5,312.6L162.7,313.1L162.9,313.6L163.1,314.0L163.3,314.5L163.5,314.9L163.7,315.4L163.9,315.9L164.1,316.3L164.3,316.8L164.5,317.3L164.7,317.7L164.9,318.2L165.1,318.6L165.3,319.1L165.5,319.6L165.7,320.0L165.8,320.5L166.0,321.0L166.2,321.4L166.4,321.9L166.6,322.3L166.8,322.8L167.0,323.3L167.2,323.7L167.4,324.2L167.6,324.6L167.8,325.1L168.0,325.6L168.2,326.0L168.4,326.5L168.6,326.9L168.8,327.4L169.0,327.9L169.2,328.3L169.4,328.8L169.6,329.2L169.8,329.7L170.0,330.1L170.2,330.6L170.4,331.1L170.6,331.5L170.8,332.0L171.0,332.4L171.2,332.9L171.4,333.3L171.6,333.8L171.8,334.3L172.1,334.7L172.3,335.2L172.5,335.6L172.7,336.1L172.9,336.5L173.1,337.0L173.3,337.4L173.5,337.9L173.7,338.3L173.9,338.8L174.2,339.3L174.4,339.7L174.6,340.2L174.8,340.6L175.0,341.1L175.2,341.5L175.4,342.0L175.7,342.4L175.9,342.9L176.1,343.3L176.3,343.8L176.5,344.2L176.7,344.7L177.0,345.1L177.2,345.6L177.4,346.0L177.6,346.5L177.8,346.9L178.0,347.4L178.3,347.8L178.5,348.3L178.7,348.7L178.9,349.2L179.2,349.6L179.4,350.1L179.6,350.5L179.8,351.0L180.1,351.4L180.3,351.9L180.5,352.3L180.7,352.8L181.0,353.2L181.2,353.6L181.4,354.1L181.6,354.5L181.9,355.0L182.1,355.4L182.3,355.9L182.6,356.3L182.8,356.8L183.0,357.2L183.2,357.7L183.5,358.1L183.7,358.5L183.9,359.0L184.2,359.4L184.4,359.9L184.6,360.3L184.9,360.8L185.1,361.2L185.3,361.6L185.6,362.1L185.8,362.5L186.0,363.0L186.3,363.4L186.5,363.8L186.7,364.3L187.0,364.7L187.2,365.2L187.5,365.6L187.7,366.1L187.9,366.5L188.2,366.9L188.4,367.4L188.7,367.8L188.9,368.2L189.1,368.7L189.4,369.1L189.6,369.6L189.9,370.0L190.1,370.4L190.4,370.9L190.6,371.3L190.9,371.7L191.1,372.2L191.3,372.6L191.6,373.0L191.8,373.5L192.1,373.9L192.3,374.4L192.6,374.8L192.8,375.2L193.1,375.7L193.3,376.1L193.6,376.5L193.9,376.9L194.1,377.4L194.4,377.8L194.6,378.2L194.9,378.7L195.1,379.1L195.4,379.5L195.6,380.0L195.9,380.4L196.2,380.8L196.4,381.2L196.7,381.7L196.9,382.1L197.2,382.5L197.5,382.9L197.7,383.4L198.0,383.8L198.3,384.2L198.5,384.6L198.8,385.1L199.1,385.5L199.3,385.9L199.6,386.3L199.9,386.8L200.1,387.2L200.4,387.6L200.7,388.0L201.0,388.4L201.2,388.9L201.5,389.3L201.8,389.7L202.1,390.1L202.3,390.5L202.6,390.9L202.9,391.4L203.2,391.8L203.5,392.2L203.7,392.6L204.0,393.0L204.3,393.4L204.6,393.8L204.9,394.2L205.2,394.7L205.5,395.1L205.7,395.5L206.0,395.9L206.3,396.3L206.6,396.7L206.9,397.1L207.2,397.5L207.5,397.9L207.8,398.3L208.1,398.7L208.4,399.1L208.7,399.5L209.0,399.9L209.3,400.3L209.6,400.7L209.9,401.1L210.2,401.5L210.5,401.9L210.8,402.3L211.1,402.7L211.4,403.1L211.7,403.5L212.0,403.9L212.3,404.3L212.6,404.7L212.9,405.1L213.2,405.5L213.6,405.9L213.9,406.3L214.2,406.7L214.5,407.0L214.8,407.4L215.1,407.8L215.5,408.2L215.8,408.6L216.1,409.0L216.4,409.4L216.7,409.7L217.1,410.1L217.4,410.5L217.7,410.9L218.1,411.3L218.4,411.6L218.7,412.0L219.0,412.4L219.4,412.8L219.7,413.1L220.0,413.5L220.4,413.9L220.7,414.2L221.0,414.6L221.4,415.0L221.7,415.4L222.1,415.7L222.4,416.1L222.8,416.4L223.1,416.8L223.5,417.1L223.8,417.5L224.2,417.8L224.6,418.2L224.9,418.5L225.3,418.9L225.7,419.2L226.0,419.5L226.4,419.9L226.8,420.2L227.2,420.5L227.6,420.8L228.0,421.1L228.4,421.4L228.8,421.7L229.2,422.0L229.6,422.3L230.0,422.5L230.5,422.8L230.9,423.1L231.3,423.3L231.7,423.6L232.2,423.8L232.6,424.0L233.1,424.3L233.5,424.5L234.0,424.7L234.5,424.9L234.9,425.0L235.4,425.2L235.9,425.4L236.3,425.5L236.8,425.7L237.3,425.8L237.8,425.9L238.3,426.1L238.8,426.2L239.2,426.3L239.7,426.4L240.2,426.5L240.7,426.7L241.2,426.8L241.7,426.9L242.2,427.0L242.7,427.1L243.2,427.2L243.6,427.3L244.1,427.3L244.6,427.4L245.1,427.5L245.6,427.6L246.1,427.7L246.6,427.8L247.1,427.9L247.6,428.0L248.1,428.1L248.6,428.2L249.1,428.3L249.6,428.4L250.0,428.5L250.5,428.5L251.0,428.6L251.5,428.7L252.0,428.8L252.5,428.9L253.0,428.9L253.5,429.0L254.0,429.1L254.5,429.2L255.0,429.2L255.5,429.3L256.0,429.4L256.5,429.4L257.0,429.5L257.5,429.6L258.0,429.6L258.5,429.7L259.0,429.7L259.5,429.8L260.0,429.8L260.5,429.9L261.0,429.9L261.5,430.0L262.0,430.0L262.5,430.1L262.9,430.1L263.4,430.1L263.9,430.2L264.4,430.2L264.9,430.3L265.4,430.3L265.9,430.3L266.4,430.4L266.9,430.4L267.4,430.4L267.9,430.5L268.4,430.5L268.9,430.5L269.4,430.6L269.9,430.6L270.4,430.6L270.9,430.6L271.4,430.7L271.9,430.7L272.4,430.7L272.9,430.7L273.4,430.8L273.9,430.8L274.4,430.8L274.9,430.8L275.4,430.9L275.9,430.9L276.4,430.9L276.9,430.9L277.4,430.9L277.9,430.9L278.4,431.0L278.9,431.0L279.4,431.0L279.9,431.0L280.4,431.0L280.9,431.0L281.4,431.1L281.9,431.1L282.4,431.1L282.9,431.1L283.4,431.1L283.9,431.1L284.4,431.1L284.9,431.1L285.4,431.1L285.9,431.1L286.4,431.2L286.9,431.2L287.4,431.2L287.9,431.2L288.4,431.2L288.9,431.2L289.4,431.2L289.9,431.2L290.4,431.2L290.9,431.2L291.5,431.2L292.0,431.2L292.5,431.2L293.0,431.2L293.5,431.2L294.0,431.2L294.5,431.2L295.0,431.2L295.5,431.2L296.0,431.2L296.5,431.2L297.0,431.2L297.5,431.2L298.0,431.2L298.5,431.2L299.0,431.2L299.5,431.2L300.0,431.2L300.5,431.2L301.0,431.2L301.5,431.2L302.0,431.2L302.5,431.2L303.0,431.2L303.5,431.2L304.0,431.2L304.5,431.2L305.0,431.2L305.5,431.2L306.0,431.2L306.5,431.2L307.0,431.2L307.5,431.2L308.0,431.2L308.5,431.2L309.0,431.2L309.5,431.2L310.0,431.2L310.5,431.2L311.0,431.2L311.5,431.2L312.0,431.2L312.5,431.1L313.0,431.1L313.5,431.1L314.0,431.1L314.5,431.1L315.0,431.1L315.5,431.1L316.0,431.1L316.5,431.1L317.0,431.1L317.5,431.1L318.0,431.1L318.5,431.1L319.0,431.1L319.5,431.1L320.0,431.1L320.5,431.1L321.0,431.1L321.5,431.1L322.0,431.1L322.5,431.1L323.0,431.1L323.5,431.1L324.0,431.1L324.5,431.1L325.0,431.1L325.5,431.1L326.0,431.1L326.5,431.1L327.0,431.1L327.5,431.1L328.0,431.1L328.5,431.1L329.0,431.1L329.5,431.1L330.0,431.1L330.5,431.1L331.0,431.2L331.5,431.2L332.0,431.2L332.5,431.2L333.0,431.2L333.5,431.2L334.0,431.2L334.5,431.2L335.0,431.2L335.5,431.2L336.0,431.2L336.5,431.2L337.0,431.3L337.5,431.3L338.0,431.3L338.5,431.3L339.0,431.3L339.5,431.3L340.0,431.3L340.5,431.4L341.0,431.4L341.5,431.4L342.0,431.4L342.5,431.4L343.0,431.4L343.5,431.5L344.0,431.5L344.5,431.5L345.0,431.5L345.5,431.6L346.0,431.6L346.5,431.6" stroke="#ff00ff"/>
<path d="M34.9,274.6L35.4,274.6L35.9,274.6L36.4,274.6L36.9,274.6L37.4,274.7L37.9,274.7L38.4,274.7L38.9,274.7L39.4,274.7L39.9,274.7L40.4,274.8L40.9,274.8L41.4,274.8L41.9,274.8L42.4,274.9L42.9,274.9L43.4,274.9L43.9,274.9L44.4,275.0L44.9,275.0L45.4,275.0L45.9,275.1L46.4,275.1L46.9,275.1L47.4,275.2L47.9,275.2L48.4,275.2L48.9,275.3L49.4,275.3L49.9,275.3L50.4,275.4L50.9,275.4L51.4,275.5L51.9,275.5L52.4,275.5L52.9,275.6L53.4,275.6L53.9,275.7L54.4,275.7L54.9,275.7L55.4,275.8L55.9,275.8L56.4,275.9L56.9,275.9L57.4,276.0L57.9,276.0L58.4,276.1L58.9,276.1L59.4,276.2L59.8,276.2L60.3,276.3L60.8,276.3L61.3,276.4L61.8,276.4L62.3,276.5L62.8,276.5L63.3,276.6L63.8,276.6L64.3,276.7L64.8,276.7L65.3,276.8L65.8,276.8L66.3,276.9L66.8,276.9L67.3,277.0L67.8,277.1L68.3,277.1L68.8,277.2L69.3,277.2L69.8,277.3L70.3,277.3L70.8,277.4L71.3,277.4L71.8,277.5L72.3,277.6L72.8,277.6L73.3,277.7L73.8,277.7L74.3,277.8L74.8,277.8L75.3,277.9L75.8,278.0L76.3,278.0L76.8,278.1L77.2,278.1L77.7,278.2L78.2,278.2L78.7,278.3L79.2,278.3L79.7,278.4L80.2,278.5L80.7,278.5L81.2,278.6L81.7,278.6L82.2,278.7L82.7,278.7L83.2,278.8L83.7,278.8L84.2,278.9L84.7,278.9L85.2,279.0L85.7,279.1L86.2,279.1L86.7,279.2L87.2,279.2L87.7,279.3L88.2,279.3L88.7,279.4L89.2,279.4L89.7,279.5L90.2,279.5L90.7,279.6L91.2,279.6L91.7,279.7L92.2,279.7L92.7,279.8L93.2,279.8L93.7,279.9L94.2,279.9L94.7,280.0L95.2,280.0L95.7,280.0L96.2,280.1L96.6,280.1L97.1,280.2L97.6,280.2L98.1,280.3L98.6,280.3L99.1,280.4L99.6,280.4L100.1,280.5L100.6,280.5L101.1,280.5L101.6,280.6L102.1,280.6L102.6,280.7L103.1,280.7L103.6,280.8L104.1,280.8L104.6,280.9L105.1,280.9L105.6,280.9L106.1,281.0L106.6,281.0L107.1,281.1L107.6,281.1L108.1,281.2L108.6,281.2L109.1,281.3L109.6,281.3L110.1,281.3L110.6,281.4L111.1,281.4L111.6,281.5L112.1,281.5L112.6,281.6L113.1,281.6L113.6,281.7L114.1,281.7L114.6,281.8L115.1,281.8L115.6,281.9L116.1,281.9L116.6,282.0L117.1,282.0L117.6,282.1L118.1,282.1L118.6,282.2L119.1,282.2L119.6,282.3L120.1,282.3L120.6,282.4L121.0,282.4L121.5,282.5L122.0,282.5L122.5,282.6L123.0,282.7L123.5,282.7L124.0,282.8L124.5,282.8L125.0,282.9L125.5,283.0L126.0,283.0L126.5,283.1L127.0,283.1L127.5,283.2L128.0,283.3L128.5,283.3L129.0,283.4L129.5,283.5L130.0,283.6L130.5,283.6L131.0,283.7L131.5,283.8L132.0,283.9L132.4,284.0L132.9,284.1L133.4,284.2L133.9,284.3L134.4,284.4L134.9,284.5L135.4,284.6L135.9,284.7L136.4,284.8L136.8,285.0L137.3,285.1L137.8,285.2L138.3,285.4L138.8,285.5L139.2,285.7L139.7,285.8L140.2,286.0L140.6,286.2L141.1,286.4L141.6,286.5L142.0,286.7L142.5,286.9L143.0,287.1L143.4,287.3L143.9,287.6L144.3,287.8L144.8,288.0L145.2,288.2L145.6,288.5L146.1,288.7L146.5,288.9L147.0,289.2L147.4,289.4L147.8,289.7L148.2,290.0L148.7,290.2L149.1,290.5L149.5,290.8L149.9,291.0L150.3,291.3L150.8,291.6L151.2,291.9L151.6,292.2L152.0,292.5L152.4,292.8L152.8,293.1L153.1,293.4L153.5,293.7L153.9,294.1L154.3,294.4L154.6,294.7L155.0,295.1L155.4,295.5L155.7,295.8L156.0,296.2L156.4,296.6L156.7,296.9L157.0,297.3L157.3,297.7L157.6,298.1L157.9,298.5L158.2,299.0L158.4,299.4L158.7,299.8L158.9,300.2L159.2,300.7L159.4,301.1L159.7,301.6L159.9,302.0L160.1,302.4L160.4,302.9L160.6,303.3L160.8,303.8L161.0,304.2L161.2,304.7L161.5,305.1L161.7,305.6L161.9,306.0L162.1,306.5L162.3,306.9L162.5,307.4L162.8,307.8L163.0,308.3L163.2,308.7L163.4,309.2L163.6,309.6L163.8,310.1L164.0,310.6L164.2,311.0L164.4,311.5L164.7,311.9L164.9,312.4L165.1,312.8L165.3,313.3L165.5,313.7L165.7,314.2L165.9,314.6L166.1,315.1L166.3,315.6L166.5,316.0L166.7,316.5L166.9,316.9L167.1,317.4L167.3,317.8L167.5,318.3L167.7,318.8L167.9,319.2L168.2,319.7L168.4,320.1L168.6,320.6L168.8,321.0L169.0,321.5L169.2,322.0L169.4,322.4L169.6,322.9L169.8,323.3L170.0,323.8L170.2,324.3L170.4,324.7L170.6,325.2L170.8,325.6L171.0,326.1L171.1,326.5L171.3,327.0L171.5,327.5L171.7,327.9L171.9,328.4L172.1,328.8L172.3,329.3L172.5,329.8L172.7,330.2L172.9,330.7L173.1,331.1L173.3,331.6L173.5,332.1L173.7,332.5L173.9,333.0L174.1,333.5L174.3,333.9L174.5,334.4L174.7,334.8L174.9,335.3L175.1,335.8L175.2,336.2L175.4,336.7L175.6,337.1L175.8,337.6L176.0,338.1L176.2,338.5L176.4,339.0L176.6,339.5L176.8,339.9L177.0,340.4L177.2,340.8L177.3,341.3L177.5,341.8L177.7,342.2L177.9,342.7L178.1,343.2L178.3,343.6L178.5,344.1L178.7,344.5L178.9,345.0L179.1,345.5L179.2,345.9L179.4,346.4L179.6,346.9L179.8,347.3L180.0,347.8L180.2,348.2L180.4,348.7L180.6,349.2L180.8,349.6L180.9,350.1L181.1,350.6L181.3,351.0L181.5,351.5L181.7,352.0L181.9,352.4L182.1,352.9L182.3,353.3L182.4,353.8L182.6,354.3L182.8,354.7L183.0,355.2L183.2,355.7L183.4,356.1L183.6,356.6L183.8,357.1L183.9,357.5L184.1,358.0L184.3,358.4L184.5,358.9L184.7,359.4L184.9,359.8L185.1,360.3L185.2,360.8L185.4,361.2L185.6,361.7L185.8,362.2L186.0,362.6L186.2,363.1L186.4,363.5L186.6,364.0L186.7,364.5L186.9,364.9L187.1,365.4L187.3,365.9L187.5,366.3L187.7,366.8L187.9,367.2L188.1,367.7L188.3,368.2L188.5,368.6L188.7,369.1L188.9,369.5L189.1,370.0L189.3,370.5L189.5,370.9L189.7,371.4L189.9,371.8L190.1,372.3L190.3,372.7L190.6,373.2L190.8,373.6L191.0,374.1L191.2,374.5L191.4,375.0L191.7,375.4L191.9,375.9L192.1,376.3L192.4,376.8L192.6,377.2L192.8,377.6L193.1,378.1L193.3,378.5L193.6,378.9L193.8,379.4L194.1,379.8L194.3,380.2L194.6,380.7L194.8,381.1L195.1,381.5L195.4,381.9L195.6,382.4L195.9,382.8L196.2,383.2L196.4,383.6L196.7,384.1L197.0,384.5L197.2,384.9L197.5,385.3L197.8,385.7L198.1,386.2L198.3,386.6L198.6,387.0L198.9,387.4L199.2,387.8L199.5,388.2L199.7,388.7L200.0,389.1L200.3,389.5L200.6,389.9L200.8,390.3L201.1,390.7L201.4,391.1L201.7,391.6L202.0,392.0L202.2,392.4L202.5,392.8L202.8,393.2L203.1,393.6L203.3,394.1L203.6,394.5L203.9,394.9L204.1,395.3L204.4,395.7L204.7,396.2L204.9,396.6L205.2,397.0L205.5,397.4L205.7,397.9L206.0,398.3L206.3,398.7L206.5,399.1L206.8,399.6L207.1,400.0L207.3,400.4L207.6,400.8L207.9,401.2L208.2,401.7L208.4,402.1L208.7,402.5L209.0,402.9L209.3,403.3L209.6,403.7L209.8,404.1L210.1,404.6L210.4,405.0L210.7,405.4L211.0,405.8L211.3,406.2L211.6,406.6L211.9,406.9L212.3,407.3L212.6,407.7L212.9,408.1L213.2,408.5L213.6,408.8L213.9,409.2L214.3,409.6L214.6,409.9L215.0,410.3L215.3,410.6L215.7,411.0L216.1,411.3L216.5,411.6L216.8,411.9L217.2,412.2L217.6,412.5L218.0,412.8L218.4,413.1L218.9,413.4L219.3,413.7L219.7,413.9L220.1,414.2L220.6,414.4L221.0,414.7L221.4,415.0L221.9,415.2L222.3,415.5L222.7,415.7L223.2,416.0L223.6,416.2L224.0,416.5L224.4,416.8L224.8,417.1L225.2,417.3L225.7,417.6L226.1,417.9L226.5,418.2L226.9,418.5L227.3,418.8L227.7,419.1L228.1,419.4L228.5,419.6L228.9,419.9L229.3,420.2L229.7,420.5L230.2,420.8L230.6,421.1L231.0,421.3L231.4,421.6L231.9,421.8L232.3,422.1L232.7,422.3L233.2,422.5L233.6,422.8L234.1,423.0L234.6,423.2L235.0,423.3L235.5,423.5L236.0,423.7L236.4,423.8L236.9,423.9L237.4,424.1L237.9,424.2L238.4,424.3L238.9,424.4L239.4,424.5L239.8,424.6L240.3,424.7L240.8,424.8L241.3,424.9L241.8,425.0L242.3,425.1L242.8,425.2L243.3,425.3L243.8,425.4L244.3,425.5L244.8,425.6L245.3,425.7L245.7,425.8L246.2,425.9L246.7,426.0L247.2,426.1L247.7,426.2L248.2,426.3L248.7,426.4L249.2,426.5L249.6,426.6L250.1,426.7L250.6,426.8L251.1,426.9L251.6,427.0L252.1,427.1L252.6,427.2L253.1,427.3L253.6,427.4L254.1,427.5L254.6,427.6L255.0,427.7L255.5,427.7L256.0,427.8L256.5,427.9L257.0,427.9L257.5,428.0L258.0,428.1L258.5,428.1L259.0,428.2L259.5,428.2L260.0,428.3L260.5,428.3L261.0,428.3L261.5,428.4L262.0,428.4L262.5,428.5L263.0,428.5L263.5,428.5L264.0,428.6L264.5,428.6L265.0,428.6L265.5,428.7L266.0,428.7L266.5,428.7L267.0,428.8L267.5,428.8L268.0,428.8L268.5,428.8L269.0,428.9L269.5,428.9L270.0,428.9L270.5,429.0L271.0,429.0L271.5,429.0L272.0,429.0L272.5,429.1L273.0,429.1L273.5,429.1L274.0,429.1L274.5,429.2L275.0,429.2L275.5,429.2L276.0,429.2L276.5,429.2L277.0,429.3L277.5,429.3L278.0,429.3L278.5,429.3L279.0,429.3L279.5,429.4L280.0,429.4L280.5,429.4L281.0,429.4L281.5,429.4L282.0,429.5L282.5,429.5L283.0,429.5L283.5,429.5L284.0,429.5L284.5,429.5L285.0,429.5L285.5,429.6L286.0,429.6L286.5,429.6L287.0,429.6L287.5,429.6L288.0,429.6L288.5,429.6L289.0,429.7L289.5,429.7L290.0,429.7L290.5,429.7L291.0,429.7L291.5,429.7L292.0,429.7L292.5,429.7L293.0,429.7L293.5,429.7L294.0,429.8L294.5,429.8L295.0,429.8L295.5,429.8L296.0,429.8L296.5,429.8L297.0,429.8L297.5,429.8L298.0,429.8L298.5,429.8L299.0,429.8L299.5,429.8L300.0,429.8L300.5,429.9L301.0,429.9L301.5,429.9L302.0,429.9L302.5,429.9L303.0,429.9L303.5,429.9L304.0,429.9L304.5,429.9L305.0,429.9L305.5,429.9L306.0,429.9L306.5,429.9L307.0,429.9L307.5,429.9L308.0,429.9L308.5,429.9L309.0,429.9L309.5,429.9L310.0,429.9L310.5,429.9L311.0,429.9L311.5,429.9L312.0,429.9L312.5,429.9L313.0,429.9L313.5,429.9L314.0,429.9L314.5,429.9L315.0,429.9L315.5,429.9L316.0,430.0L316.5,430.0L317.0,430.0L317.5,430.0L318.0,430.0L318.5,430.0L319.0,430.0L319.5,430.0L320.0,430.0L320.5,430.0L321.0,430.0L321.5,430.0L322.0,430.0L322.5,430.0L323.0,430.0L323.5,430.0L324.0,430.0L324.5,430.0L325.0,430.0L325.5,430.0L326.0,430.0L326.5,430.0L327.0,430.0L327.5,430.0L328.0,430.0L328.5,430.0L329.0,430.0L329.5,430.0L330.0,430.0L330.5,430.0L331.0,430.0L331.5,430.0L332.0,430.0L332.5,430.0L333.0,430.0L333.5,430.0L334.0,430.0L334.5,430.0L335.0,430.0L335.5,430.0L336.0,430.0L336.5,430.0L337.0,430.0L337.5,430.0L338.0,430.0L338.5,430.0L339.0,430.0L339.5,430.0L340.0,430.0L340.5,430.0L341.0,430.0L341.5,430.0L342.0,430.0L342.5,430.0L343.0,430.0L343.5,430.0L344.0,430.0L344.5,430.0L345.0,430.0L345.5,430.0L346.0,430.0L346.5,430.0" stroke="#008000"/>
</g>
<rect x="34.9" y="255.6" width="311.20" height="202.80" fill="none" stroke="#404040" stroke-width="1.1"/>
<line x1="31.599999999999998" y1="441.50" x2="34.9" y2="441.50" stroke="#404040" stroke-width="1.1"/>
<text x="28.6" y="445.20" text-anchor="end" class="tl">0</text>
<line x1="31.599999999999998" y1="407.70" x2="34.9" y2="407.70" stroke="#404040" stroke-width="1.1"/>
<text x="28.6" y="411.40" text-anchor="end" class="tl">20</text>
<line x1="31.599999999999998" y1="373.90" x2="34.9" y2="373.90" stroke="#404040" stroke-width="1.1"/>
<text x="28.6" y="377.60" text-anchor="end" class="tl">40</text>
<line x1="31.599999999999998" y1="340.10" x2="34.9" y2="340.10" stroke="#404040" stroke-width="1.1"/>
<text x="28.6" y="343.80" text-anchor="end" class="tl">60</text>
<line x1="31.599999999999998" y1="306.30" x2="34.9" y2="306.30" stroke="#404040" stroke-width="1.1"/>
<text x="28.6" y="310.00" text-anchor="end" class="tl">80</text>
<line x1="31.599999999999998" y1="272.50" x2="34.9" y2="272.50" stroke="#404040" stroke-width="1.1"/>
<text x="28.6" y="276.20" text-anchor="end" class="tl">100</text>
<line x1="34.90" y1="458.4" x2="34.90" y2="461.7" stroke="#404040" stroke-width="1.1"/>
<text x="34.90" y="473.1" text-anchor="middle" class="tl">100</text>
<line x1="97.14" y1="458.4" x2="97.14" y2="461.7" stroke="#404040" stroke-width="1.1"/>
<text x="97.14" y="473.1" text-anchor="middle" class="tl">200</text>
<line x1="159.38" y1="458.4" x2="159.38" y2="461.7" stroke="#404040" stroke-width="1.1"/>
<text x="159.38" y="473.1" text-anchor="middle" class="tl">300</text>
<line x1="221.62" y1="458.4" x2="221.62" y2="461.7" stroke="#404040" stroke-width="1.1"/>
<text x="221.62" y="473.1" text-anchor="middle" class="tl">400</text>
<line x1="283.86" y1="458.4" x2="283.86" y2="461.7" stroke="#404040" stroke-width="1.1"/>
<text x="283.86" y="473.1" text-anchor="middle" class="tl">500</text>
<line x1="346.10" y1="458.4" x2="346.10" y2="461.7" stroke="#404040" stroke-width="1.1"/>
<text x="346.10" y="473.1" text-anchor="middle" class="tl">600</text>
<text x="190.5" y="491.4" text-anchor="middle" class="at">Temperature (<tspan font-size="8.5" dy="-4">o</tspan><tspan dy="4">C)</tspan></text>
<text transform="translate(10.4,362.4) rotate(-90)" text-anchor="middle" class="at">Weight %</text>
<text x="58.2" y="312.5" class="pl">(b)</text>
<rect x="49" y="377.6" width="77.80" height="62.80" fill="#fff" stroke="#9a9a9a" stroke-width="0.9"/>
<line x1="52" y1="385.20" x2="75.9" y2="385.20" stroke="#000000" stroke-width="1.9"/>
<text x="78.7" y="388.80" class="lg">Neat (W)</text>
<line x1="52" y1="397.52" x2="75.9" y2="397.52" stroke="#ff0000" stroke-width="1.9"/>
<text x="78.7" y="401.12" class="lg">EIL5 (W)</text>
<line x1="52" y1="409.84" x2="75.9" y2="409.84" stroke="#0000ff" stroke-width="1.9"/>
<text x="78.7" y="413.44" class="lg">EIL10 (W)</text>
<line x1="52" y1="422.16" x2="75.9" y2="422.16" stroke="#ff00ff" stroke-width="1.9"/>
<text x="78.7" y="425.76" class="lg">EIL20 (W)</text>
<line x1="52" y1="434.48" x2="75.9" y2="434.48" stroke="#008000" stroke-width="1.9"/>
<text x="78.7" y="438.08" class="lg">EIL30 (W)</text>
<rect x="209.3" y="263.3" width="127.30" height="83.30" fill="#fff" stroke="#888" stroke-width="0.9"/>
<clipPath id="cib"><rect x="209.3" y="263.3" width="127.30" height="83.30"/></clipPath>
<g clip-path="url(#cib)" fill="none" stroke-width="1.1" stroke-linejoin="round">
<path d="M209.5,274.9L209.9,274.9L210.3,275.0L210.7,275.0L211.1,275.1L211.5,275.1L211.9,275.2L212.3,275.2L212.7,275.2L213.1,275.3L213.5,275.3L213.9,275.4L214.3,275.4L214.7,275.4L215.1,275.5L215.5,275.5L215.9,275.5L216.3,275.6L216.7,275.6L217.1,275.7L217.5,275.7L217.9,275.7L218.3,275.8L218.7,275.8L219.1,275.8L219.5,275.9L219.9,275.9L220.3,275.9L220.7,276.0L221.1,276.0L221.5,276.0L221.9,276.1L222.3,276.1L222.7,276.1L223.1,276.1L223.5,276.2L223.9,276.2L224.3,276.2L224.6,276.3L225.0,276.3L225.4,276.3L225.8,276.4L226.2,276.4L226.6,276.4L227.0,276.4L227.4,276.5L227.8,276.5L228.2,276.5L228.6,276.6L229.0,276.6L229.4,276.6L229.8,276.6L230.2,276.7L230.6,276.7L231.0,276.7L231.4,276.8L231.8,276.8L232.2,276.8L232.6,276.8L233.0,276.9L233.4,276.9L233.8,276.9L234.2,277.0L234.6,277.0L235.0,277.0L235.4,277.0L235.8,277.1L236.2,277.1L236.6,277.1L237.0,277.2L237.4,277.2L237.8,277.2L238.2,277.2L238.6,277.3L239.0,277.3L239.4,277.3L239.8,277.4L240.2,277.4L240.6,277.4L241.0,277.5L241.4,277.5L241.8,277.5L242.2,277.6L242.6,277.6L243.0,277.6L243.4,277.7L243.8,277.7L244.2,277.7L244.6,277.8L245.0,277.8L245.4,277.8L245.8,277.9L246.2,277.9L246.6,277.9L247.0,278.0L247.4,278.0L247.8,278.0L248.2,278.1L248.6,278.1L249.0,278.1L249.4,278.2L249.8,278.2L250.2,278.3L250.6,278.3L251.0,278.3L251.4,278.4L251.8,278.4L252.2,278.5L252.6,278.5L253.0,278.6L253.4,278.6L253.8,278.6L254.2,278.7L254.6,278.7L255.0,278.8L255.4,278.8L255.8,278.9L256.2,278.9L256.6,279.0L257.0,279.0L257.4,279.1L257.8,279.1L258.1,279.2L258.5,279.2L258.9,279.3L259.3,279.3L259.7,279.4L260.1,279.4L260.5,279.5L260.9,279.5L261.3,279.6L261.7,279.7L262.1,279.7L262.5,279.8L262.9,279.8L263.3,279.9L263.7,280.0L264.1,280.0L264.5,280.1L264.9,280.2L265.3,280.2L265.7,280.3L266.1,280.4L266.5,280.4L266.9,280.5L267.3,280.6L267.6,280.6L268.0,280.7L268.4,280.8L268.8,280.8L269.2,280.9L269.6,281.0L270.0,281.1L270.4,281.2L270.8,281.2L271.2,281.3L271.6,281.4L272.0,281.5L272.4,281.6L272.8,281.6L273.1,281.7L273.5,281.8L273.9,281.9L274.3,282.0L274.7,282.1L275.1,282.2L275.5,282.3L275.9,282.3L276.3,282.4L276.7,282.5L277.0,282.6L277.4,282.7L277.8,282.8L278.2,282.9L278.6,283.0L279.0,283.1L279.4,283.2L279.8,283.3L280.1,283.4L280.5,283.5L280.9,283.7L281.3,283.8L281.7,283.9L282.1,284.0L282.4,284.1L282.8,284.2L283.2,284.4L283.6,284.5L284.0,284.6L284.3,284.7L284.7,284.9L285.1,285.0L285.5,285.1L285.9,285.3L286.2,285.4L286.6,285.6L287.0,285.7L287.3,285.9L287.7,286.0L288.1,286.2L288.4,286.4L288.8,286.5L289.2,286.7L289.5,286.9L289.9,287.1L290.2,287.3L290.6,287.4L290.9,287.6L291.3,287.8L291.6,288.1L292.0,288.3L292.3,288.5L292.6,288.7L293.0,288.9L293.3,289.2L293.6,289.4L293.9,289.6L294.3,289.9L294.6,290.1L294.9,290.4L295.2,290.6L295.5,290.9L295.8,291.2L296.1,291.5L296.3,291.7L296.6,292.0L296.9,292.3L297.2,292.6L297.4,292.9L297.7,293.2L297.9,293.5L298.2,293.8L298.5,294.1L298.7,294.5L298.9,294.8L299.2,295.1L299.4,295.4L299.7,295.7L299.9,296.0L300.2,296.4L300.4,296.7L300.6,297.0L300.9,297.3L301.1,297.7L301.4,298.0L301.6,298.3L301.8,298.6L302.1,298.9L302.3,299.3L302.5,299.6L302.8,299.9L303.0,300.2L303.2,300.6L303.5,300.9L303.7,301.2L303.9,301.5L304.2,301.9L304.4,302.2L304.7,302.5L304.9,302.8L305.1,303.2L305.4,303.5L305.6,303.8L305.8,304.1L306.1,304.4L306.3,304.8L306.5,305.1L306.8,305.4L307.0,305.7L307.2,306.1L307.5,306.4L307.7,306.7L307.9,307.0L308.2,307.4L308.4,307.7L308.6,308.0L308.9,308.3L309.1,308.7L309.3,309.0L309.6,309.3L309.8,309.6L310.0,310.0L310.3,310.3L310.5,310.6L310.7,310.9L311.0,311.3L311.2,311.6L311.4,311.9L311.7,312.2L311.9,312.6L312.1,312.9L312.4,313.2L312.6,313.5L312.9,313.9L313.1,314.2L313.3,314.5L313.6,314.8L313.8,315.2L314.0,315.5L314.3,315.8L314.5,316.1L314.7,316.5L315.0,316.8L315.2,317.1L315.5,317.4L315.7,317.7L315.9,318.1L316.2,318.4L316.4,318.7L316.6,319.0L316.9,319.3L317.1,319.7L317.4,320.0L317.6,320.3L317.9,320.6L318.1,320.9L318.3,321.3L318.6,321.6L318.8,321.9L319.1,322.2L319.3,322.5L319.6,322.9L319.8,323.2L320.0,323.5L320.3,323.8L320.5,324.1L320.8,324.4L321.0,324.7L321.3,325.1L321.5,325.4L321.8,325.7L322.0,326.0L322.3,326.3L322.5,326.6L322.8,326.9L323.0,327.2L323.3,327.6L323.5,327.9L323.8,328.2L324.0,328.5L324.3,328.8L324.5,329.1L324.8,329.4L325.1,329.7L325.3,330.0L325.6,330.3L325.8,330.7L326.1,331.0L326.3,331.3L326.6,331.6L326.9,331.9L327.1,332.2L327.4,332.5L327.6,332.8L327.9,333.1L328.1,333.4L328.4,333.7L328.7,334.0L328.9,334.3L329.2,334.6L329.4,334.9L329.7,335.2L330.0,335.5L330.2,335.9L330.5,336.2L330.7,336.5L331.0,336.8L331.3,337.1L331.5,337.4L331.8,337.7L332.0,338.0L332.3,338.3L332.6,338.6L332.8,338.9L333.1,339.2L333.3,339.5L333.6,339.8L333.9,340.1L334.1,340.4L334.4,340.7L334.6,341.0L334.9,341.3L335.2,341.6L335.4,341.9L335.7,342.2L335.9,342.5L336.2,342.8L336.5,343.2L336.7,343.5L337.0,343.8L337.2,344.1L337.5,344.4L337.8,344.7L338.0,345.0" stroke="#000000"/>
<path d="M209.5,274.4L209.9,274.4L210.3,274.5L210.7,274.5L211.1,274.5L211.5,274.5L211.9,274.6L212.3,274.6L212.7,274.6L213.1,274.7L213.5,274.7L213.9,274.7L214.3,274.7L214.7,274.8L215.1,274.8L215.5,274.8L215.9,274.9L216.3,274.9L216.7,274.9L217.1,274.9L217.5,275.0L217.9,275.0L218.3,275.0L218.7,275.0L219.1,275.1L219.5,275.1L219.9,275.1L220.3,275.2L220.7,275.2L221.1,275.2L221.5,275.2L221.9,275.3L222.3,275.3L222.7,275.3L223.1,275.4L223.5,275.4L223.9,275.4L224.3,275.4L224.7,275.5L225.1,275.5L225.5,275.5L225.9,275.5L226.3,275.6L226.7,275.6L227.1,275.6L227.5,275.7L227.9,275.7L228.3,275.7L228.7,275.8L229.1,275.8L229.5,275.8L229.9,275.8L230.3,275.9L230.7,275.9L231.1,275.9L231.5,276.0L231.9,276.0L232.3,276.0L232.7,276.1L233.1,276.1L233.5,276.1L233.9,276.2L234.3,276.2L234.7,276.2L235.1,276.3L235.5,276.3L235.9,276.3L236.3,276.4L236.7,276.4L237.1,276.4L237.5,276.5L237.9,276.5L238.3,276.6L238.7,276.6L239.1,276.6L239.5,276.7L239.9,276.7L240.3,276.7L240.6,276.8L241.0,276.8L241.4,276.9L241.8,276.9L242.2,276.9L242.6,277.0L243.0,277.0L243.4,277.1L243.8,277.1L244.2,277.2L244.6,277.2L245.0,277.3L245.4,277.3L245.8,277.4L246.2,277.4L246.6,277.4L247.0,277.5L247.4,277.5L247.8,277.6L248.2,277.6L248.6,277.7L249.0,277.7L249.4,277.8L249.8,277.9L250.2,277.9L250.6,278.0L251.0,278.0L251.4,278.1L251.8,278.1L252.2,278.2L252.6,278.2L253.0,278.3L253.4,278.4L253.8,278.4L254.2,278.5L254.6,278.6L254.9,278.6L255.3,278.7L255.7,278.7L256.1,278.8L256.5,278.9L256.9,278.9L257.3,279.0L257.7,279.1L258.1,279.2L258.5,279.2L258.9,279.3L259.3,279.4L259.7,279.4L260.1,279.5L260.5,279.6L260.9,279.7L261.3,279.7L261.6,279.8L262.0,279.9L262.4,280.0L262.8,280.1L263.2,280.1L263.6,280.2L264.0,280.3L264.4,280.4L264.8,280.5L265.2,280.6L265.6,280.7L266.0,280.8L266.3,280.8L266.7,280.9L267.1,281.0L267.5,281.1L267.9,281.2L268.3,281.3L268.7,281.4L269.1,281.5L269.5,281.6L269.8,281.7L270.2,281.8L270.6,281.9L271.0,282.0L271.4,282.1L271.8,282.2L272.2,282.3L272.5,282.4L272.9,282.6L273.3,282.7L273.7,282.8L274.1,282.9L274.5,283.0L274.9,283.1L275.2,283.2L275.6,283.4L276.0,283.5L276.4,283.6L276.8,283.7L277.1,283.8L277.5,284.0L277.9,284.1L278.3,284.2L278.7,284.4L279.0,284.5L279.4,284.6L279.8,284.7L280.2,284.9L280.6,285.0L280.9,285.2L281.3,285.3L281.7,285.5L282.0,285.6L282.4,285.8L282.8,285.9L283.2,286.1L283.5,286.2L283.9,286.4L284.3,286.6L284.6,286.7L285.0,286.9L285.3,287.1L285.7,287.3L286.0,287.5L286.4,287.7L286.7,287.9L287.1,288.1L287.4,288.3L287.8,288.5L288.1,288.7L288.4,288.9L288.7,289.2L289.1,289.4L289.4,289.7L289.7,289.9L290.0,290.2L290.3,290.4L290.6,290.7L290.9,291.0L291.2,291.3L291.5,291.5L291.7,291.8L292.0,292.1L292.3,292.4L292.6,292.7L292.8,293.0L293.1,293.3L293.4,293.6L293.6,293.9L293.9,294.2L294.1,294.5L294.4,294.9L294.6,295.2L294.9,295.5L295.1,295.8L295.3,296.1L295.6,296.4L295.8,296.8L296.1,297.1L296.3,297.4L296.5,297.7L296.8,298.1L297.0,298.4L297.2,298.7L297.5,299.0L297.7,299.4L297.9,299.7L298.1,300.0L298.4,300.4L298.6,300.7L298.8,301.0L299.1,301.3L299.3,301.7L299.5,302.0L299.8,302.3L300.0,302.6L300.2,303.0L300.5,303.3L300.7,303.6L300.9,303.9L301.2,304.3L301.4,304.6L301.7,304.9L301.9,305.2L302.1,305.5L302.4,305.9L302.6,306.2L302.9,306.5L303.1,306.8L303.4,307.1L303.6,307.4L303.9,307.7L304.1,308.1L304.4,308.4L304.6,308.7L304.9,309.0L305.1,309.3L305.4,309.6L305.6,309.9L305.9,310.3L306.1,310.6L306.4,310.9L306.6,311.2L306.9,311.5L307.1,311.8L307.4,312.1L307.6,312.5L307.8,312.8L308.1,313.1L308.3,313.4L308.6,313.7L308.8,314.0L309.1,314.4L309.3,314.7L309.6,315.0L309.8,315.3L310.0,315.6L310.3,316.0L310.5,316.3L310.7,316.6L311.0,316.9L311.2,317.2L311.5,317.6L311.7,317.9L311.9,318.2L312.2,318.5L312.4,318.9L312.6,319.2L312.9,319.5L313.1,319.8L313.3,320.2L313.6,320.5L313.8,320.8L314.1,321.1L314.3,321.4L314.5,321.8L314.8,322.1L315.0,322.4L315.3,322.7L315.5,323.0L315.8,323.3L316.0,323.7L316.3,324.0L316.5,324.3L316.8,324.6L317.1,324.9L317.3,325.2L317.6,325.5L317.8,325.8L318.1,326.1L318.4,326.4L318.7,326.7L318.9,327.0L319.2,327.3L319.5,327.5L319.8,327.8L320.0,328.1L320.3,328.4L320.6,328.7L320.9,329.0L321.1,329.3L321.4,329.6L321.7,329.8L322.0,330.1L322.3,330.4L322.6,330.7L322.8,331.0L323.1,331.3L323.4,331.5L323.7,331.8L324.0,332.1L324.3,332.4L324.5,332.7L324.8,333.0L325.1,333.3L325.4,333.5L325.7,333.8L325.9,334.1L326.2,334.4L326.5,334.7L326.8,335.0L327.1,335.3L327.3,335.6L327.6,335.8L327.9,336.1L328.2,336.4L328.4,336.7L328.7,337.0L329.0,337.3L329.2,337.6L329.5,337.9L329.8,338.2L330.1,338.5L330.3,338.8L330.6,339.1L330.9,339.4L331.1,339.7L331.4,340.0L331.7,340.3L331.9,340.6L332.2,340.9L332.5,341.2L332.7,341.5L333.0,341.8L333.3,342.1L333.5,342.4L333.8,342.7L334.1,343.0L334.3,343.3L334.6,343.6L334.8,343.9L335.1,344.2L335.4,344.5L335.6,344.8L335.9,345.1L336.2,345.4L336.4,345.7L336.7,346.0L336.9,346.3L337.2,346.6L337.4,346.9L337.7,347.2L338.0,347.5" stroke="#ff0000"/>
<path d="M209.5,275.7L209.9,275.7L210.3,275.7L210.7,275.8L211.1,275.8L211.5,275.8L211.9,275.8L212.3,275.9L212.7,275.9L213.1,275.9L213.5,275.9L213.9,276.0L214.3,276.0L214.7,276.0L215.1,276.1L215.5,276.1L215.9,276.1L216.3,276.1L216.7,276.2L217.1,276.2L217.5,276.2L217.9,276.3L218.3,276.3L218.7,276.3L219.1,276.3L219.5,276.4L219.9,276.4L220.3,276.4L220.7,276.5L221.1,276.5L221.5,276.5L221.9,276.6L222.3,276.6L222.7,276.6L223.1,276.7L223.5,276.7L223.9,276.7L224.3,276.8L224.7,276.8L225.1,276.8L225.5,276.9L225.9,276.9L226.3,276.9L226.7,277.0L227.1,277.0L227.5,277.0L227.9,277.1L228.3,277.1L228.7,277.2L229.1,277.2L229.5,277.2L229.9,277.3L230.3,277.3L230.7,277.4L231.1,277.4L231.5,277.4L231.9,277.5L232.3,277.5L232.7,277.6L233.1,277.6L233.5,277.7L233.9,277.7L234.3,277.7L234.7,277.8L235.1,277.8L235.5,277.9L235.9,277.9L236.3,278.0L236.6,278.0L237.0,278.1L237.4,278.1L237.8,278.2L238.2,278.2L238.6,278.3L239.0,278.3L239.4,278.4L239.8,278.4L240.2,278.5L240.6,278.5L241.0,278.6L241.4,278.6L241.8,278.7L242.2,278.7L242.6,278.8L243.0,278.8L243.4,278.9L243.8,278.9L244.2,279.0L244.6,279.1L245.0,279.1L245.4,279.2L245.8,279.2L246.2,279.3L246.6,279.3L247.0,279.4L247.4,279.5L247.8,279.5L248.2,279.6L248.6,279.7L249.0,279.7L249.3,279.8L249.7,279.8L250.1,279.9L250.5,280.0L250.9,280.0L251.3,280.1L251.7,280.2L252.1,280.2L252.5,280.3L252.9,280.4L253.3,280.4L253.7,280.5L254.1,280.6L254.5,280.7L254.9,280.7L255.3,280.8L255.7,280.9L256.1,281.0L256.5,281.0L256.8,281.1L257.2,281.2L257.6,281.3L258.0,281.3L258.4,281.4L258.8,281.5L259.2,281.6L259.6,281.6L260.0,281.7L260.4,281.8L260.8,281.9L261.2,282.0L261.6,282.1L261.9,282.1L262.3,282.2L262.7,282.3L263.1,282.4L263.5,282.5L263.9,282.6L264.3,282.7L264.7,282.7L265.1,282.8L265.5,282.9L265.9,283.0L266.2,283.1L266.6,283.2L267.0,283.3L267.4,283.4L267.8,283.5L268.2,283.6L268.6,283.7L269.0,283.8L269.4,283.9L269.8,284.0L270.1,284.1L270.5,284.2L270.9,284.3L271.3,284.4L271.7,284.5L272.1,284.6L272.5,284.7L272.8,284.8L273.2,284.9L273.6,285.1L274.0,285.2L274.4,285.3L274.7,285.4L275.1,285.6L275.5,285.7L275.9,285.8L276.3,286.0L276.6,286.1L277.0,286.3L277.4,286.4L277.7,286.6L278.1,286.7L278.5,286.9L278.8,287.1L279.2,287.2L279.6,287.4L279.9,287.6L280.3,287.8L280.6,288.0L281.0,288.2L281.3,288.4L281.7,288.6L282.0,288.8L282.3,289.0L282.7,289.2L283.0,289.4L283.4,289.6L283.7,289.9L284.0,290.1L284.4,290.3L284.7,290.6L285.0,290.8L285.3,291.0L285.6,291.3L286.0,291.5L286.3,291.8L286.6,292.0L286.9,292.3L287.2,292.5L287.5,292.8L287.8,293.0L288.1,293.3L288.4,293.6L288.7,293.8L289.0,294.1L289.3,294.4L289.6,294.7L289.9,294.9L290.2,295.2L290.5,295.5L290.8,295.8L291.0,296.0L291.3,296.3L291.6,296.6L291.9,296.9L292.2,297.2L292.4,297.5L292.7,297.8L293.0,298.1L293.3,298.4L293.5,298.6L293.8,298.9L294.1,299.2L294.4,299.5L294.6,299.8L294.9,300.1L295.2,300.4L295.4,300.7L295.7,301.0L295.9,301.3L296.2,301.6L296.5,301.9L296.7,302.3L297.0,302.6L297.2,302.9L297.5,303.2L297.8,303.5L298.0,303.8L298.3,304.1L298.5,304.4L298.8,304.7L299.0,305.0L299.3,305.3L299.6,305.6L299.8,305.9L300.1,306.3L300.3,306.6L300.6,306.9L300.8,307.2L301.1,307.5L301.3,307.8L301.6,308.1L301.8,308.4L302.1,308.7L302.3,309.0L302.6,309.3L302.9,309.7L303.1,310.0L303.4,310.3L303.6,310.6L303.9,310.9L304.1,311.2L304.4,311.5L304.6,311.8L304.9,312.1L305.1,312.4L305.4,312.8L305.7,313.1L305.9,313.4L306.2,313.7L306.4,314.0L306.7,314.3L306.9,314.6L307.2,314.9L307.5,315.2L307.7,315.5L308.0,315.8L308.2,316.1L308.5,316.4L308.7,316.8L309.0,317.1L309.3,317.4L309.5,317.7L309.8,318.0L310.0,318.3L310.3,318.6L310.5,318.9L310.8,319.2L311.1,319.5L311.3,319.8L311.6,320.1L311.8,320.4L312.1,320.7L312.4,321.0L312.6,321.3L312.9,321.6L313.2,321.9L313.4,322.2L313.7,322.5L313.9,322.8L314.2,323.1L314.5,323.4L314.7,323.7L315.0,324.0L315.3,324.3L315.5,324.6L315.8,324.9L316.1,325.2L316.3,325.5L316.6,325.8L316.9,326.1L317.1,326.4L317.4,326.7L317.7,327.0L318.0,327.3L318.2,327.6L318.5,327.9L318.8,328.2L319.0,328.5L319.3,328.8L319.6,329.1L319.9,329.4L320.1,329.7L320.4,330.0L320.7,330.3L321.0,330.5L321.2,330.8L321.5,331.1L321.8,331.4L322.1,331.7L322.3,332.0L322.6,332.3L322.9,332.6L323.2,332.9L323.5,333.1L323.8,333.4L324.0,333.7L324.3,334.0L324.6,334.3L324.9,334.6L325.2,334.8L325.5,335.1L325.7,335.4L326.0,335.7L326.3,336.0L326.6,336.2L326.9,336.5L327.2,336.8L327.5,337.1L327.8,337.3L328.1,337.6L328.3,337.9L328.6,338.2L328.9,338.4L329.2,338.7L329.5,339.0L329.8,339.3L330.1,339.5L330.4,339.8L330.7,340.1L331.0,340.4L331.3,340.6L331.5,340.9L331.8,341.2L332.1,341.5L332.4,341.8L332.7,342.0L333.0,342.3L333.3,342.6L333.6,342.9L333.9,343.1L334.1,343.4L334.4,343.7L334.7,344.0L335.0,344.3L335.3,344.6L335.5,344.9L335.8,345.1L336.1,345.4L336.4,345.7L336.7,346.0L336.9,346.3L337.2,346.6L337.5,346.9L337.7,347.2L338.0,347.5" stroke="#0000ff"/>
<path d="M209.5,279.4L209.9,279.4L210.3,279.5L210.7,279.5L211.1,279.6L211.5,279.6L211.9,279.6L212.3,279.7L212.7,279.7L213.1,279.8L213.5,279.8L213.9,279.8L214.3,279.9L214.7,279.9L215.1,280.0L215.5,280.0L215.9,280.0L216.3,280.1L216.7,280.1L217.1,280.2L217.5,280.2L217.9,280.2L218.3,280.3L218.7,280.3L219.1,280.4L219.5,280.4L219.9,280.4L220.3,280.5L220.7,280.5L221.1,280.6L221.5,280.6L221.8,280.6L222.2,280.7L222.6,280.7L223.0,280.8L223.4,280.8L223.8,280.9L224.2,280.9L224.6,280.9L225.0,281.0L225.4,281.0L225.8,281.1L226.2,281.1L226.6,281.2L227.0,281.2L227.4,281.2L227.8,281.3L228.2,281.3L228.6,281.4L229.0,281.4L229.4,281.5L229.8,281.5L230.2,281.6L230.6,281.6L231.0,281.7L231.4,281.7L231.8,281.8L232.2,281.8L232.6,281.9L233.0,281.9L233.4,282.0L233.8,282.0L234.2,282.1L234.6,282.1L235.0,282.2L235.4,282.2L235.8,282.3L236.2,282.3L236.6,282.4L237.0,282.5L237.3,282.5L237.7,282.6L238.1,282.6L238.5,282.7L238.9,282.8L239.3,282.8L239.7,282.9L240.1,282.9L240.5,283.0L240.9,283.1L241.3,283.1L241.7,283.2L242.1,283.3L242.5,283.3L242.9,283.4L243.3,283.5L243.7,283.5L244.1,283.6L244.5,283.7L244.9,283.8L245.2,283.8L245.6,283.9L246.0,284.0L246.4,284.1L246.8,284.2L247.2,284.2L247.6,284.3L248.0,284.4L248.4,284.5L248.8,284.6L249.2,284.6L249.6,284.7L249.9,284.8L250.3,284.9L250.7,285.0L251.1,285.1L251.5,285.2L251.9,285.3L252.3,285.4L252.7,285.5L253.1,285.6L253.5,285.7L253.8,285.8L254.2,285.9L254.6,286.0L255.0,286.1L255.4,286.2L255.8,286.3L256.2,286.4L256.5,286.5L256.9,286.6L257.3,286.7L257.7,286.8L258.1,286.9L258.5,287.1L258.8,287.2L259.2,287.3L259.6,287.4L260.0,287.5L260.4,287.7L260.8,287.8L261.1,287.9L261.5,288.0L261.9,288.2L262.3,288.3L262.6,288.4L263.0,288.6L263.4,288.7L263.8,288.8L264.2,289.0L264.5,289.1L264.9,289.3L265.3,289.4L265.6,289.6L266.0,289.7L266.4,289.9L266.8,290.0L267.1,290.2L267.5,290.3L267.9,290.5L268.2,290.6L268.6,290.8L269.0,291.0L269.3,291.1L269.7,291.3L270.1,291.5L270.4,291.6L270.8,291.8L271.1,292.0L271.5,292.1L271.9,292.3L272.2,292.5L272.6,292.7L272.9,292.9L273.3,293.1L273.6,293.2L274.0,293.4L274.3,293.6L274.7,293.8L275.0,294.0L275.4,294.2L275.7,294.4L276.1,294.6L276.4,294.8L276.8,295.1L277.1,295.3L277.4,295.5L277.8,295.7L278.1,295.9L278.4,296.2L278.8,296.4L279.1,296.6L279.4,296.8L279.7,297.1L280.1,297.3L280.4,297.6L280.7,297.8L281.0,298.0L281.3,298.3L281.6,298.5L282.0,298.8L282.3,299.0L282.6,299.3L282.9,299.5L283.2,299.8L283.5,300.1L283.8,300.3L284.1,300.6L284.4,300.9L284.7,301.1L285.0,301.4L285.3,301.7L285.6,301.9L285.9,302.2L286.2,302.5L286.5,302.7L286.8,303.0L287.0,303.3L287.3,303.6L287.6,303.9L287.9,304.1L288.2,304.4L288.5,304.7L288.8,305.0L289.0,305.3L289.3,305.5L289.6,305.8L289.9,306.1L290.2,306.4L290.5,306.7L290.7,307.0L291.0,307.3L291.3,307.5L291.6,307.8L291.8,308.1L292.1,308.4L292.4,308.7L292.7,309.0L293.0,309.3L293.2,309.6L293.5,309.9L293.8,310.2L294.1,310.4L294.3,310.7L294.6,311.0L294.9,311.3L295.2,311.6L295.4,311.9L295.7,312.2L296.0,312.5L296.3,312.8L296.5,313.1L296.8,313.4L297.1,313.6L297.4,313.9L297.6,314.2L297.9,314.5L298.2,314.8L298.4,315.1L298.7,315.4L299.0,315.7L299.3,316.0L299.5,316.3L299.8,316.6L300.1,316.9L300.4,317.2L300.6,317.4L300.9,317.7L301.2,318.0L301.5,318.3L301.7,318.6L302.0,318.9L302.3,319.2L302.5,319.5L302.8,319.8L303.1,320.1L303.4,320.4L303.6,320.7L303.9,321.0L304.2,321.3L304.4,321.6L304.7,321.8L305.0,322.1L305.3,322.4L305.5,322.7L305.8,323.0L306.1,323.3L306.4,323.6L306.6,323.9L306.9,324.2L307.2,324.5L307.4,324.8L307.7,325.1L308.0,325.4L308.3,325.7L308.5,326.0L308.8,326.3L309.1,326.5L309.3,326.8L309.6,327.1L309.9,327.4L310.2,327.7L310.4,328.0L310.7,328.3L311.0,328.6L311.3,328.9L311.5,329.2L311.8,329.5L312.1,329.8L312.4,330.1L312.6,330.3L312.9,330.6L313.2,330.9L313.5,331.2L313.7,331.5L314.0,331.8L314.3,332.1L314.6,332.4L314.8,332.7L315.1,333.0L315.4,333.3L315.7,333.5L315.9,333.8L316.2,334.1L316.5,334.4L316.8,334.7L317.0,335.0L317.3,335.3L317.6,335.6L317.9,335.9L318.1,336.1L318.4,336.4L318.7,336.7L319.0,337.0L319.3,337.3L319.5,337.6L319.8,337.9L320.1,338.2L320.4,338.4L320.7,338.7L320.9,339.0L321.2,339.3L321.5,339.6L321.8,339.9L322.1,340.2L322.3,340.4L322.6,340.7L322.9,341.0L323.2,341.3L323.5,341.6L323.7,341.9L324.0,342.2L324.3,342.5L324.6,342.7L324.8,343.0L325.1,343.3L325.4,343.6L325.7,343.9L326.0,344.2L326.2,344.5L326.5,344.8L326.8,345.1L327.0,345.4L327.3,345.7L327.6,345.9L327.9,346.2L328.1,346.5L328.4,346.8L328.7,347.1L328.9,347.4L329.2,347.7L329.5,348.0" stroke="#ff00ff"/>
<path d="M209.5,276.9L209.9,276.9L210.3,276.9L210.7,276.9L211.1,276.9L211.5,276.9L211.9,276.9L212.3,276.9L212.7,276.9L213.1,276.9L213.5,276.9L213.9,276.9L214.3,276.9L214.7,276.9L215.1,276.9L215.5,277.0L215.9,277.0L216.3,277.0L216.7,277.0L217.1,277.0L217.5,277.0L217.9,277.0L218.3,277.1L218.7,277.1L219.1,277.1L219.5,277.1L219.9,277.2L220.3,277.2L220.7,277.2L221.1,277.2L221.5,277.3L221.9,277.3L222.3,277.3L222.7,277.3L223.1,277.4L223.5,277.4L223.9,277.4L224.3,277.5L224.7,277.5L225.1,277.5L225.5,277.6L225.9,277.6L226.3,277.6L226.7,277.7L227.1,277.7L227.5,277.8L227.9,277.8L228.3,277.9L228.7,277.9L229.1,277.9L229.5,278.0L229.9,278.0L230.3,278.1L230.7,278.1L231.0,278.2L231.4,278.2L231.8,278.3L232.2,278.3L232.6,278.4L233.0,278.4L233.4,278.5L233.8,278.6L234.2,278.6L234.6,278.7L235.0,278.7L235.4,278.8L235.8,278.8L236.2,278.9L236.6,279.0L237.0,279.0L237.4,279.1L237.8,279.2L238.2,279.2L238.6,279.3L239.0,279.4L239.4,279.4L239.8,279.5L240.1,279.6L240.5,279.6L240.9,279.7L241.3,279.8L241.7,279.9L242.1,279.9L242.5,280.0L242.9,280.1L243.3,280.2L243.7,280.2L244.1,280.3L244.5,280.4L244.9,280.5L245.3,280.5L245.6,280.6L246.0,280.7L246.4,280.8L246.8,280.9L247.2,281.0L247.6,281.0L248.0,281.1L248.4,281.2L248.8,281.3L249.2,281.4L249.6,281.5L249.9,281.6L250.3,281.7L250.7,281.7L251.1,281.8L251.5,281.9L251.9,282.0L252.3,282.1L252.7,282.2L253.1,282.3L253.4,282.4L253.8,282.5L254.2,282.6L254.6,282.7L255.0,282.8L255.4,282.9L255.8,283.0L256.2,283.1L256.5,283.2L256.9,283.3L257.3,283.4L257.7,283.5L258.1,283.6L258.5,283.7L258.9,283.8L259.3,283.9L259.6,284.0L260.0,284.1L260.4,284.2L260.8,284.3L261.2,284.4L261.6,284.5L262.0,284.6L262.3,284.8L262.7,284.9L263.1,285.0L263.5,285.1L263.9,285.2L264.3,285.3L264.6,285.4L265.0,285.5L265.4,285.6L265.8,285.8L266.2,285.9L266.6,286.0L266.9,286.1L267.3,286.2L267.7,286.3L268.1,286.5L268.5,286.6L268.9,286.7L269.2,286.8L269.6,286.9L270.0,287.1L270.4,287.2L270.8,287.3L271.1,287.4L271.5,287.6L271.9,287.7L272.3,287.8L272.7,287.9L273.0,288.1L273.4,288.2L273.8,288.4L274.2,288.5L274.5,288.6L274.9,288.8L275.3,288.9L275.6,289.1L276.0,289.2L276.4,289.4L276.7,289.6L277.1,289.7L277.5,289.9L277.8,290.1L278.2,290.2L278.6,290.4L278.9,290.6L279.3,290.8L279.6,291.0L280.0,291.2L280.3,291.4L280.7,291.6L281.0,291.8L281.4,292.0L281.7,292.2L282.0,292.4L282.4,292.6L282.7,292.8L283.1,293.0L283.4,293.2L283.7,293.5L284.0,293.7L284.4,293.9L284.7,294.2L285.0,294.4L285.3,294.7L285.6,294.9L286.0,295.2L286.3,295.4L286.6,295.7L286.9,295.9L287.2,296.2L287.5,296.4L287.8,296.7L288.1,297.0L288.4,297.2L288.7,297.5L289.0,297.8L289.2,298.1L289.5,298.4L289.8,298.6L290.1,298.9L290.4,299.2L290.6,299.5L290.9,299.8L291.2,300.1L291.4,300.4L291.7,300.7L292.0,301.0L292.2,301.3L292.5,301.6L292.7,301.9L293.0,302.2L293.3,302.5L293.5,302.8L293.8,303.1L294.0,303.5L294.3,303.8L294.5,304.1L294.8,304.4L295.0,304.7L295.3,305.0L295.5,305.3L295.8,305.6L296.0,305.9L296.3,306.3L296.5,306.6L296.8,306.9L297.1,307.2L297.3,307.5L297.6,307.8L297.8,308.1L298.1,308.4L298.3,308.7L298.6,309.0L298.8,309.3L299.1,309.6L299.4,309.9L299.6,310.2L299.9,310.5L300.1,310.8L300.4,311.1L300.7,311.4L300.9,311.7L301.2,312.0L301.5,312.3L301.8,312.6L302.0,312.9L302.3,313.2L302.6,313.5L302.8,313.8L303.1,314.1L303.4,314.4L303.7,314.7L303.9,315.0L304.2,315.3L304.5,315.5L304.8,315.8L305.1,316.1L305.3,316.4L305.6,316.7L305.9,317.0L306.2,317.3L306.5,317.5L306.7,317.8L307.0,318.1L307.3,318.4L307.6,318.7L307.9,318.9L308.2,319.2L308.5,319.5L308.8,319.8L309.0,320.1L309.3,320.3L309.6,320.6L309.9,320.9L310.2,321.2L310.5,321.4L310.8,321.7L311.1,322.0L311.4,322.3L311.6,322.5L311.9,322.8L312.2,323.1L312.5,323.4L312.8,323.6L313.1,323.9L313.4,324.2L313.7,324.5L314.0,324.7L314.3,325.0L314.6,325.3L314.8,325.6L315.1,325.8L315.4,326.1L315.7,326.4L316.0,326.7L316.3,326.9L316.6,327.2L316.9,327.5L317.2,327.8L317.4,328.0L317.7,328.3L318.0,328.6L318.3,328.9L318.6,329.2L318.9,329.4L319.2,329.7L319.4,330.0L319.7,330.3L320.0,330.6L320.3,330.9L320.6,331.1L320.9,331.4L321.1,331.7L321.4,332.0L321.7,332.3L322.0,332.6L322.2,332.9L322.5,333.2L322.8,333.5L323.1,333.7L323.3,334.0L323.6,334.3L323.9,334.6L324.1,334.9L324.4,335.2L324.7,335.5L324.9,335.8L325.2,336.1L325.5,336.4L325.7,336.7L326.0,337.0L326.2,337.3L326.5,337.6L326.8,338.0L327.0,338.3L327.3,338.6L327.5,338.9L327.8,339.2L328.0,339.5L328.3,339.8L328.5,340.1L328.7,340.5L329.0,340.8L329.2,341.1L329.5,341.4L329.7,341.7L329.9,342.1L330.2,342.4L330.4,342.7L330.6,343.0L330.9,343.4L331.1,343.7L331.3,344.0L331.6,344.4L331.8,344.7L332.0,345.0L332.2,345.4L332.4,345.7L332.7,346.0L332.9,346.4L333.1,346.7L333.3,347.0L333.5,347.4L333.7,347.7L333.9,348.1" stroke="#008000"/>
</g>
<line x1="207.9" y1="346.60" x2="209.3" y2="346.60" stroke="#777" stroke-width="0.6"/>
<text x="207.3" y="348.15" text-anchor="end" class="il">60</text>
<line x1="207.9" y1="325.78" x2="209.3" y2="325.78" stroke="#777" stroke-width="0.6"/>
<text x="207.3" y="327.33" text-anchor="end" class="il">70</text>
<line x1="207.9" y1="304.95" x2="209.3" y2="304.95" stroke="#777" stroke-width="0.6"/>
<text x="207.3" y="306.50" text-anchor="end" class="il">80</text>
<line x1="207.9" y1="284.12" x2="209.3" y2="284.12" stroke="#777" stroke-width="0.6"/>
<text x="207.3" y="285.68" text-anchor="end" class="il">90</text>
<line x1="207.9" y1="263.30" x2="209.3" y2="263.30" stroke="#777" stroke-width="0.6"/>
<text x="207.3" y="264.85" text-anchor="end" class="il">100</text>
<line x1="209.30" y1="346.6" x2="209.30" y2="348.0" stroke="#777" stroke-width="0.6"/>
<text x="209.30" y="352.40" text-anchor="middle" class="il">250</text>
<line x1="225.21" y1="346.6" x2="225.21" y2="348.0" stroke="#777" stroke-width="0.6"/>
<text x="225.21" y="352.40" text-anchor="middle" class="il">260</text>
<line x1="241.12" y1="346.6" x2="241.12" y2="348.0" stroke="#777" stroke-width="0.6"/>
<text x="241.12" y="352.40" text-anchor="middle" class="il">270</text>
<line x1="257.04" y1="346.6" x2="257.04" y2="348.0" stroke="#777" stroke-width="0.6"/>
<text x="257.04" y="352.40" text-anchor="middle" class="il">280</text>
<line x1="272.95" y1="346.6" x2="272.95" y2="348.0" stroke="#777" stroke-width="0.6"/>
<text x="272.95" y="352.40" text-anchor="middle" class="il">290</text>
<line x1="288.86" y1="346.6" x2="288.86" y2="348.0" stroke="#777" stroke-width="0.6"/>
<text x="288.86" y="352.40" text-anchor="middle" class="il">300</text>
<line x1="304.78" y1="346.6" x2="304.78" y2="348.0" stroke="#777" stroke-width="0.6"/>
<text x="304.78" y="352.40" text-anchor="middle" class="il">310</text>
<line x1="320.69" y1="346.6" x2="320.69" y2="348.0" stroke="#777" stroke-width="0.6"/>
<text x="320.69" y="352.40" text-anchor="middle" class="il">320</text>
<line x1="336.60" y1="346.6" x2="336.60" y2="348.0" stroke="#777" stroke-width="0.6"/>
<text x="336.60" y="352.40" text-anchor="middle" class="il">330</text>
</svg>
</body></html>
